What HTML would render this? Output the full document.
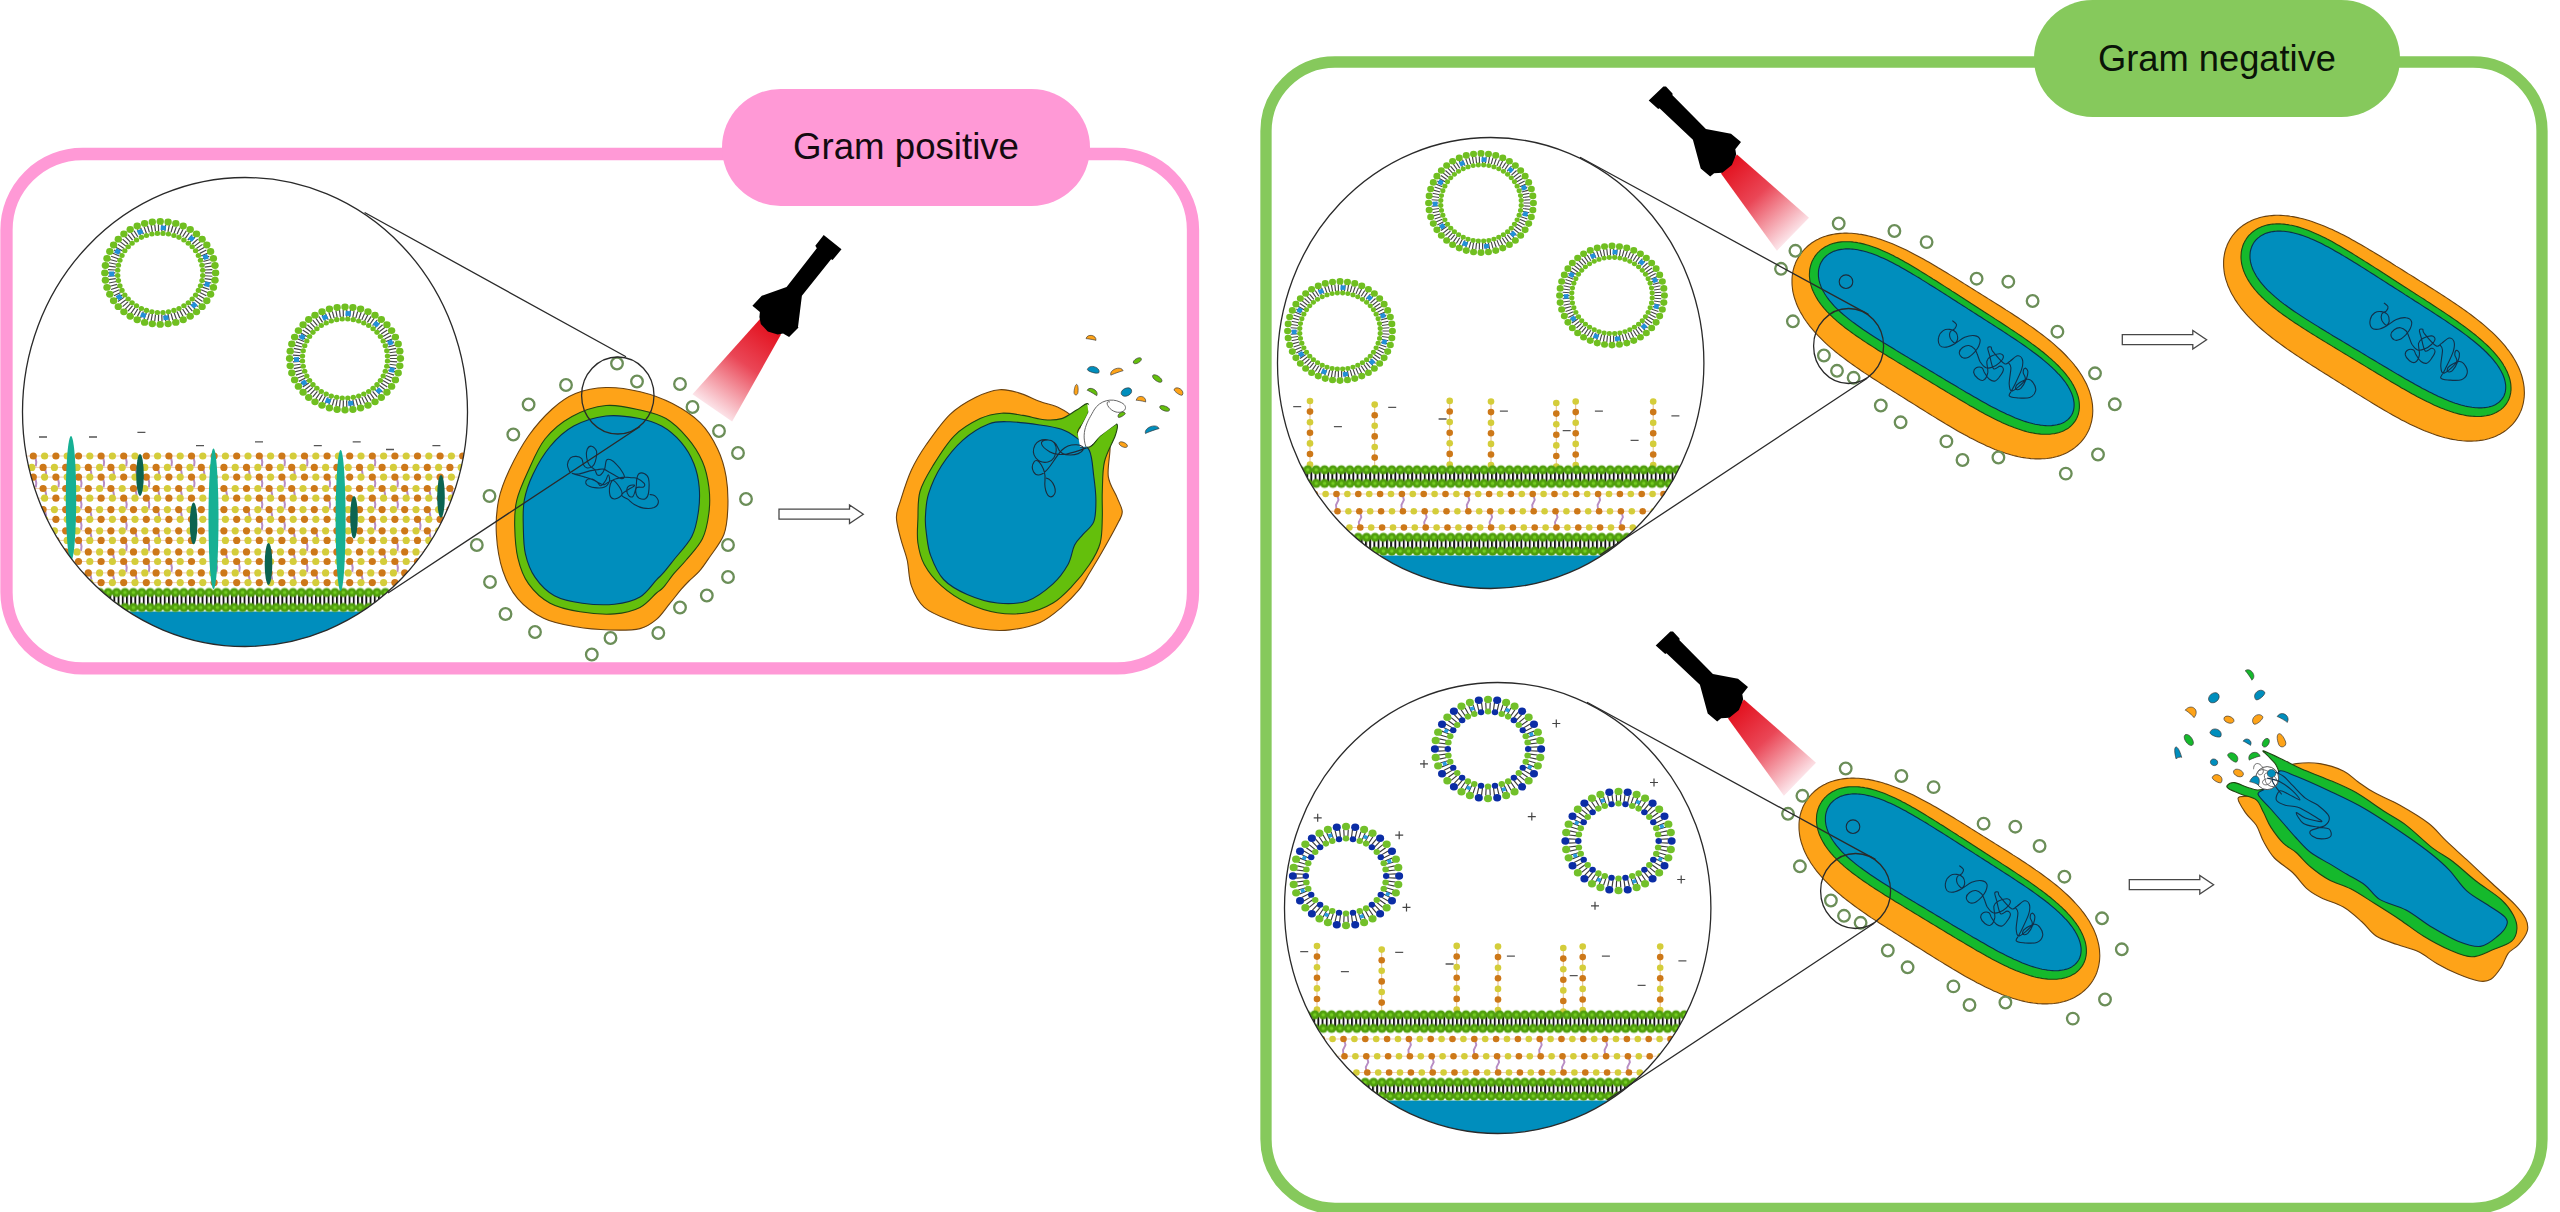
<!DOCTYPE html><html><head><meta charset="utf-8"><style>html,body{margin:0;padding:0;background:#fff;overflow:hidden}svg{display:block}</style></head><body><svg width="2560" height="1212" viewBox="0 0 2560 1212"><defs><g id="vd"><path d="M44.8,0L52.3,0M44.7,3.1L52.2,3.6M44.4,6.2L51.8,7.3M43.8,9.3L51.2,10.9M43.1,12.3L50.3,14.4M42.1,15.3L49.1,17.9M40.9,18.2L47.8,21.3M39.6,21L46.2,24.6M38,23.7L44.4,27.7M36.2,26.3L42.3,30.7M34.3,28.8L40.1,33.6M32.2,31.1L37.6,36.3M30,33.3L35,38.9M27.6,35.3L32.2,41.2M25.1,37.1L29.2,43.4M22.4,38.8L26.2,45.3M19.6,40.3L22.9,47M16.8,41.5L19.6,48.5M13.8,42.6L16.2,49.7M10.8,43.5L12.7,50.7M7.8,44.1L9.1,51.5M4.7,44.6L5.5,52M1.6,44.8L1.8,52.3M-1.6,44.8L-1.8,52.3M-4.7,44.6L-5.5,52M-7.8,44.1L-9.1,51.5M-10.8,43.5L-12.7,50.7M-13.8,42.6L-16.2,49.7M-16.8,41.5L-19.6,48.5M-19.6,40.3L-22.9,47M-22.4,38.8L-26.1,45.3M-25.1,37.1L-29.2,43.4M-27.6,35.3L-32.2,41.2M-30,33.3L-35,38.9M-32.2,31.1L-37.6,36.3M-34.3,28.8L-40.1,33.6M-36.2,26.3L-42.3,30.7M-38,23.7L-44.4,27.7M-39.6,21L-46.2,24.6M-40.9,18.2L-47.8,21.3M-42.1,15.3L-49.1,17.9M-43.1,12.3L-50.3,14.4M-43.8,9.3L-51.2,10.9M-44.4,6.2L-51.8,7.3M-44.7,3.1L-52.2,3.6M-44.8,0L-52.3,0M-44.7,-3.1L-52.2,-3.6M-44.4,-6.2L-51.8,-7.3M-43.8,-9.3L-51.2,-10.9M-43.1,-12.3L-50.3,-14.4M-42.1,-15.3L-49.1,-17.9M-40.9,-18.2L-47.8,-21.3M-39.6,-21L-46.2,-24.6M-38,-23.7L-44.4,-27.7M-36.2,-26.3L-42.3,-30.7M-34.3,-28.8L-40.1,-33.6M-32.2,-31.1L-37.6,-36.3M-30,-33.3L-35,-38.9M-27.6,-35.3L-32.2,-41.2M-25.1,-37.1L-29.2,-43.4M-22.4,-38.8L-26.2,-45.3M-19.6,-40.3L-22.9,-47M-16.8,-41.5L-19.6,-48.5M-13.8,-42.6L-16.2,-49.7M-10.8,-43.5L-12.7,-50.7M-7.8,-44.1L-9.1,-51.5M-4.7,-44.6L-5.5,-52M-1.6,-44.8L-1.8,-52.3M1.6,-44.8L1.8,-52.3M4.7,-44.6L5.5,-52M7.8,-44.1L9.1,-51.5M10.8,-43.5L12.7,-50.7M13.8,-42.6L16.2,-49.7M16.8,-41.5L19.6,-48.5M19.6,-40.3L22.9,-47M22.4,-38.8L26.2,-45.3M25.1,-37.1L29.2,-43.4M27.6,-35.3L32.2,-41.2M30,-33.3L35,-38.9M32.2,-31.1L37.6,-36.3M34.3,-28.8L40.1,-33.6M36.2,-26.3L42.3,-30.7M38,-23.7L44.4,-27.7M39.6,-21L46.2,-24.6M40.9,-18.2L47.8,-21.3M42.1,-15.3L49.1,-17.9M43.1,-12.3L50.3,-14.4M43.8,-9.3L51.2,-10.9M44.4,-6.2L51.8,-7.3M44.7,-3.1L52.2,-3.6" stroke="#484848" stroke-width="1.25" fill="none"/><rect x="-2.5" y="-2.6" width="5" height="5.2" fill="#2290D8" transform="translate(46.9,12.3) rotate(14.6)"/><rect x="-2.5" y="-2.6" width="5" height="5.2" fill="#2290D8" transform="translate(33.9,34.7) rotate(45.7)"/><rect x="-2.5" y="-2.6" width="5" height="5.2" fill="#2290D8" transform="translate(5.7,48.2) rotate(83.3)"/><rect x="-2.5" y="-2.6" width="5" height="5.2" fill="#2290D8" transform="translate(-16.9,45.5) rotate(110.4)"/><rect x="-2.5" y="-2.6" width="5" height="5.2" fill="#2290D8" transform="translate(-41,26) rotate(147.6)"/><rect x="-2.5" y="-2.6" width="5" height="5.2" fill="#2290D8" transform="translate(-48.5,1.1) rotate(178.7)"/><rect x="-2.5" y="-2.6" width="5" height="5.2" fill="#2290D8" transform="translate(-42.7,-23.1) rotate(208.4)"/><rect x="-2.5" y="-2.6" width="5" height="5.2" fill="#2290D8" transform="translate(-20.1,-44.1) rotate(245.5)"/><rect x="-2.5" y="-2.6" width="5" height="5.2" fill="#2290D8" transform="translate(3.1,-48.4) rotate(273.6)"/><rect x="-2.5" y="-2.6" width="5" height="5.2" fill="#2290D8" transform="translate(31.3,-37) rotate(310.3)"/><rect x="-2.5" y="-2.6" width="5" height="5.2" fill="#2290D8" transform="translate(45.4,-17.1) rotate(339.4)"/><circle cx="55.4" cy="0" r="3.7" fill="#70BF20"/><circle cx="54.8" cy="7.9" r="3.7" fill="#70BF20"/><circle cx="53.2" cy="15.6" r="3.7" fill="#70BF20"/><circle cx="50.4" cy="23" r="3.7" fill="#70BF20"/><circle cx="46.6" cy="30" r="3.7" fill="#70BF20"/><circle cx="41.9" cy="36.3" r="3.7" fill="#70BF20"/><circle cx="36.3" cy="41.9" r="3.7" fill="#70BF20"/><circle cx="30" cy="46.6" r="3.7" fill="#70BF20"/><circle cx="23" cy="50.4" r="3.7" fill="#70BF20"/><circle cx="15.6" cy="53.2" r="3.7" fill="#70BF20"/><circle cx="7.9" cy="54.8" r="3.7" fill="#70BF20"/><circle cx="0" cy="55.4" r="3.7" fill="#70BF20"/><circle cx="-7.9" cy="54.8" r="3.7" fill="#70BF20"/><circle cx="-15.6" cy="53.2" r="3.7" fill="#70BF20"/><circle cx="-23" cy="50.4" r="3.7" fill="#70BF20"/><circle cx="-30" cy="46.6" r="3.7" fill="#70BF20"/><circle cx="-36.3" cy="41.9" r="3.7" fill="#70BF20"/><circle cx="-41.9" cy="36.3" r="3.7" fill="#70BF20"/><circle cx="-46.6" cy="30" r="3.7" fill="#70BF20"/><circle cx="-50.4" cy="23" r="3.7" fill="#70BF20"/><circle cx="-53.2" cy="15.6" r="3.7" fill="#70BF20"/><circle cx="-54.8" cy="7.9" r="3.7" fill="#70BF20"/><circle cx="-55.4" cy="0" r="3.7" fill="#70BF20"/><circle cx="-54.8" cy="-7.9" r="3.7" fill="#70BF20"/><circle cx="-53.2" cy="-15.6" r="3.7" fill="#70BF20"/><circle cx="-50.4" cy="-23" r="3.7" fill="#70BF20"/><circle cx="-46.6" cy="-30" r="3.7" fill="#70BF20"/><circle cx="-41.9" cy="-36.3" r="3.7" fill="#70BF20"/><circle cx="-36.3" cy="-41.9" r="3.7" fill="#70BF20"/><circle cx="-30" cy="-46.6" r="3.7" fill="#70BF20"/><circle cx="-23" cy="-50.4" r="3.7" fill="#70BF20"/><circle cx="-15.6" cy="-53.2" r="3.7" fill="#70BF20"/><circle cx="-7.9" cy="-54.8" r="3.7" fill="#70BF20"/><circle cx="-0" cy="-55.4" r="3.7" fill="#70BF20"/><circle cx="7.9" cy="-54.8" r="3.7" fill="#70BF20"/><circle cx="15.6" cy="-53.2" r="3.7" fill="#70BF20"/><circle cx="23" cy="-50.4" r="3.7" fill="#70BF20"/><circle cx="30" cy="-46.6" r="3.7" fill="#70BF20"/><circle cx="36.3" cy="-41.9" r="3.7" fill="#70BF20"/><circle cx="41.9" cy="-36.3" r="3.7" fill="#70BF20"/><circle cx="46.6" cy="-30" r="3.7" fill="#70BF20"/><circle cx="50.4" cy="-23" r="3.7" fill="#70BF20"/><circle cx="53.2" cy="-15.6" r="3.7" fill="#70BF20"/><circle cx="54.8" cy="-7.9" r="3.7" fill="#70BF20"/><circle cx="42.5" cy="2.8" r="2.7" fill="#70BF20"/><circle cx="41.8" cy="8.3" r="2.7" fill="#70BF20"/><circle cx="40.3" cy="13.7" r="2.7" fill="#70BF20"/><circle cx="38.2" cy="18.8" r="2.7" fill="#70BF20"/><circle cx="35.4" cy="23.7" r="2.7" fill="#70BF20"/><circle cx="32" cy="28.1" r="2.7" fill="#70BF20"/><circle cx="28.1" cy="32" r="2.7" fill="#70BF20"/><circle cx="23.7" cy="35.4" r="2.7" fill="#70BF20"/><circle cx="18.8" cy="38.2" r="2.7" fill="#70BF20"/><circle cx="13.7" cy="40.3" r="2.7" fill="#70BF20"/><circle cx="8.3" cy="41.8" r="2.7" fill="#70BF20"/><circle cx="2.8" cy="42.5" r="2.7" fill="#70BF20"/><circle cx="-2.8" cy="42.5" r="2.7" fill="#70BF20"/><circle cx="-8.3" cy="41.8" r="2.7" fill="#70BF20"/><circle cx="-13.7" cy="40.3" r="2.7" fill="#70BF20"/><circle cx="-18.8" cy="38.2" r="2.7" fill="#70BF20"/><circle cx="-23.7" cy="35.4" r="2.7" fill="#70BF20"/><circle cx="-28.1" cy="32" r="2.7" fill="#70BF20"/><circle cx="-32" cy="28.1" r="2.7" fill="#70BF20"/><circle cx="-35.4" cy="23.7" r="2.7" fill="#70BF20"/><circle cx="-38.2" cy="18.8" r="2.7" fill="#70BF20"/><circle cx="-40.3" cy="13.7" r="2.7" fill="#70BF20"/><circle cx="-41.8" cy="8.3" r="2.7" fill="#70BF20"/><circle cx="-42.5" cy="2.8" r="2.7" fill="#70BF20"/><circle cx="-42.5" cy="-2.8" r="2.7" fill="#70BF20"/><circle cx="-41.8" cy="-8.3" r="2.7" fill="#70BF20"/><circle cx="-40.3" cy="-13.7" r="2.7" fill="#70BF20"/><circle cx="-38.2" cy="-18.8" r="2.7" fill="#70BF20"/><circle cx="-35.4" cy="-23.7" r="2.7" fill="#70BF20"/><circle cx="-32" cy="-28.1" r="2.7" fill="#70BF20"/><circle cx="-28.1" cy="-32" r="2.7" fill="#70BF20"/><circle cx="-23.7" cy="-35.4" r="2.7" fill="#70BF20"/><circle cx="-18.8" cy="-38.2" r="2.7" fill="#70BF20"/><circle cx="-13.7" cy="-40.3" r="2.7" fill="#70BF20"/><circle cx="-8.3" cy="-41.8" r="2.7" fill="#70BF20"/><circle cx="-2.8" cy="-42.5" r="2.7" fill="#70BF20"/><circle cx="2.8" cy="-42.5" r="2.7" fill="#70BF20"/><circle cx="8.3" cy="-41.8" r="2.7" fill="#70BF20"/><circle cx="13.7" cy="-40.3" r="2.7" fill="#70BF20"/><circle cx="18.8" cy="-38.2" r="2.7" fill="#70BF20"/><circle cx="23.7" cy="-35.4" r="2.7" fill="#70BF20"/><circle cx="28.1" cy="-32" r="2.7" fill="#70BF20"/><circle cx="32" cy="-28.1" r="2.7" fill="#70BF20"/><circle cx="35.4" cy="-23.7" r="2.7" fill="#70BF20"/><circle cx="38.2" cy="-18.8" r="2.7" fill="#70BF20"/><circle cx="40.3" cy="-13.7" r="2.7" fill="#70BF20"/><circle cx="41.8" cy="-8.3" r="2.7" fill="#70BF20"/><circle cx="42.5" cy="-2.8" r="2.7" fill="#70BF20"/></g><g id="vc"><path d="M43,-1.9L50.9,-2.3M43,1.9L50.9,2.3M42.6,5.6L50.6,6.6M42,9.4L49.8,11.1M41,12.9L48.7,15.3M39.7,16.5L47.1,19.6M38.2,19.8L45.3,23.5M36.2,23.2L43,27.5M34.1,26.1L40.5,31M31.7,29.1L37.6,34.5M29.1,31.7L34.5,37.6M26.1,34.1L31,40.5M23.2,36.2L27.5,43M19.8,38.2L23.5,45.3M16.5,39.7L19.6,47.1M12.9,41L15.3,48.7M9.4,42L11.1,49.8M5.6,42.6L6.6,50.6M1.9,43L2.3,50.9M-1.9,43L-2.3,50.9M-5.6,42.6L-6.6,50.6M-9.4,42L-11.1,49.8M-12.9,41L-15.3,48.7M-16.5,39.7L-19.6,47.1M-19.8,38.2L-23.5,45.3M-23.2,36.2L-27.5,43M-26.1,34.1L-31,40.5M-29.1,31.7L-34.5,37.6M-31.7,29.1L-37.6,34.5M-34.1,26.1L-40.5,31M-36.2,23.2L-43,27.5M-38.2,19.8L-45.3,23.5M-39.7,16.5L-47.1,19.6M-41,12.9L-48.7,15.3M-42,9.4L-49.8,11.1M-42.6,5.6L-50.6,6.6M-43,1.9L-50.9,2.3M-43,-1.9L-50.9,-2.3M-42.6,-5.6L-50.6,-6.6M-42,-9.4L-49.8,-11.1M-41,-12.9L-48.7,-15.3M-39.7,-16.5L-47.1,-19.6M-38.2,-19.8L-45.3,-23.5M-36.2,-23.2L-43,-27.5M-34.1,-26.1L-40.5,-31M-31.7,-29.1L-37.6,-34.5M-29.1,-31.7L-34.5,-37.6M-26.1,-34.1L-31,-40.5M-23.2,-36.2L-27.5,-43M-19.8,-38.2L-23.5,-45.3M-16.5,-39.7L-19.6,-47.1M-12.9,-41L-15.3,-48.7M-9.4,-42L-11.1,-49.8M-5.6,-42.6L-6.6,-50.6M-1.9,-43L-2.3,-50.9M1.9,-43L2.3,-50.9M5.6,-42.6L6.6,-50.6M9.4,-42L11.1,-49.8M12.9,-41L15.3,-48.7M16.5,-39.7L19.6,-47.1M19.8,-38.2L23.5,-45.3M23.2,-36.2L27.5,-43M26.1,-34.1L31,-40.5M29.1,-31.7L34.5,-37.6M31.7,-29.1L37.6,-34.5M34.1,-26.1L40.5,-31M36.2,-23.2L43,-27.5M38.2,-19.8L45.3,-23.5M39.7,-16.5L47.1,-19.6M41,-12.9L48.7,-15.3M42,-9.4L49.8,-11.1M42.6,-5.6L50.6,-6.6" stroke="#3c3c3c" stroke-width="1.2" fill="none"/><circle cx="54.2" cy="0" r="4.1" fill="#0B2DA5"/><circle cx="41" cy="0" r="3.3" fill="#0B2DA5"/><circle cx="53.4" cy="9.4" r="4.1" fill="#72C02A"/><circle cx="40.4" cy="7.1" r="3.3" fill="#72C02A"/><circle cx="50.9" cy="18.5" r="4.1" fill="#72C02A"/><circle cx="38.5" cy="14" r="3.3" fill="#72C02A"/><circle cx="46.9" cy="27.1" r="4.1" fill="#0B2DA5"/><circle cx="35.5" cy="20.5" r="3.3" fill="#0B2DA5"/><circle cx="41.5" cy="34.8" r="4.1" fill="#72C02A"/><circle cx="31.4" cy="26.4" r="3.3" fill="#72C02A"/><circle cx="34.8" cy="41.5" r="4.1" fill="#0B2DA5"/><circle cx="26.4" cy="31.4" r="3.3" fill="#0B2DA5"/><circle cx="27.1" cy="46.9" r="4.1" fill="#72C02A"/><circle cx="20.5" cy="35.5" r="3.3" fill="#72C02A"/><circle cx="18.5" cy="50.9" r="4.1" fill="#72C02A"/><circle cx="14" cy="38.5" r="3.3" fill="#72C02A"/><circle cx="9.4" cy="53.4" r="4.1" fill="#0B2DA5"/><circle cx="7.1" cy="40.4" r="3.3" fill="#0B2DA5"/><circle cx="0" cy="54.2" r="4.1" fill="#72C02A"/><circle cx="0" cy="41" r="3.3" fill="#72C02A"/><circle cx="-9.4" cy="53.4" r="4.1" fill="#0B2DA5"/><circle cx="-7.1" cy="40.4" r="3.3" fill="#0B2DA5"/><circle cx="-18.5" cy="50.9" r="4.1" fill="#72C02A"/><circle cx="-14" cy="38.5" r="3.3" fill="#72C02A"/><circle cx="-27.1" cy="46.9" r="4.1" fill="#72C02A"/><circle cx="-20.5" cy="35.5" r="3.3" fill="#72C02A"/><circle cx="-34.8" cy="41.5" r="4.1" fill="#0B2DA5"/><circle cx="-26.4" cy="31.4" r="3.3" fill="#0B2DA5"/><circle cx="-41.5" cy="34.8" r="4.1" fill="#72C02A"/><circle cx="-31.4" cy="26.4" r="3.3" fill="#72C02A"/><circle cx="-46.9" cy="27.1" r="4.1" fill="#0B2DA5"/><circle cx="-35.5" cy="20.5" r="3.3" fill="#0B2DA5"/><circle cx="-50.9" cy="18.5" r="4.1" fill="#72C02A"/><circle cx="-38.5" cy="14" r="3.3" fill="#72C02A"/><circle cx="-53.4" cy="9.4" r="4.1" fill="#72C02A"/><circle cx="-40.4" cy="7.1" r="3.3" fill="#72C02A"/><circle cx="-54.2" cy="0" r="4.1" fill="#0B2DA5"/><circle cx="-41" cy="0" r="3.3" fill="#0B2DA5"/><circle cx="-53.4" cy="-9.4" r="4.1" fill="#72C02A"/><circle cx="-40.4" cy="-7.1" r="3.3" fill="#72C02A"/><circle cx="-50.9" cy="-18.5" r="4.1" fill="#72C02A"/><circle cx="-38.5" cy="-14" r="3.3" fill="#72C02A"/><circle cx="-46.9" cy="-27.1" r="4.1" fill="#0B2DA5"/><circle cx="-35.5" cy="-20.5" r="3.3" fill="#0B2DA5"/><circle cx="-41.5" cy="-34.8" r="4.1" fill="#72C02A"/><circle cx="-31.4" cy="-26.4" r="3.3" fill="#72C02A"/><circle cx="-34.8" cy="-41.5" r="4.1" fill="#0B2DA5"/><circle cx="-26.4" cy="-31.4" r="3.3" fill="#0B2DA5"/><circle cx="-27.1" cy="-46.9" r="4.1" fill="#72C02A"/><circle cx="-20.5" cy="-35.5" r="3.3" fill="#72C02A"/><circle cx="-18.5" cy="-50.9" r="4.1" fill="#72C02A"/><circle cx="-14" cy="-38.5" r="3.3" fill="#72C02A"/><circle cx="-9.4" cy="-53.4" r="4.1" fill="#0B2DA5"/><circle cx="-7.1" cy="-40.4" r="3.3" fill="#0B2DA5"/><circle cx="-0" cy="-54.2" r="4.1" fill="#72C02A"/><circle cx="-0" cy="-41" r="3.3" fill="#72C02A"/><circle cx="9.4" cy="-53.4" r="4.1" fill="#0B2DA5"/><circle cx="7.1" cy="-40.4" r="3.3" fill="#0B2DA5"/><circle cx="18.5" cy="-50.9" r="4.1" fill="#72C02A"/><circle cx="14" cy="-38.5" r="3.3" fill="#72C02A"/><circle cx="27.1" cy="-46.9" r="4.1" fill="#72C02A"/><circle cx="20.5" cy="-35.5" r="3.3" fill="#72C02A"/><circle cx="34.8" cy="-41.5" r="4.1" fill="#0B2DA5"/><circle cx="26.4" cy="-31.4" r="3.3" fill="#0B2DA5"/><circle cx="41.5" cy="-34.8" r="4.1" fill="#72C02A"/><circle cx="31.4" cy="-26.4" r="3.3" fill="#72C02A"/><circle cx="46.9" cy="-27.1" r="4.1" fill="#0B2DA5"/><circle cx="35.5" cy="-20.5" r="3.3" fill="#0B2DA5"/><circle cx="50.9" cy="-18.5" r="4.1" fill="#72C02A"/><circle cx="38.5" cy="-14" r="3.3" fill="#72C02A"/><circle cx="53.4" cy="-9.4" r="4.1" fill="#72C02A"/><circle cx="40.4" cy="-7.1" r="3.3" fill="#72C02A"/><rect x="-2" y="-2" width="4" height="4" fill="#2A9BE0" transform="translate(42.6,19.9) rotate(25)"/><rect x="-2" y="-2" width="4" height="4" fill="#2A9BE0" transform="translate(16.1,44.2) rotate(70)"/><rect x="-2" y="-2" width="4" height="4" fill="#2A9BE0" transform="translate(-19.9,42.6) rotate(115)"/><rect x="-2" y="-2" width="4" height="4" fill="#2A9BE0" transform="translate(-44.2,16.1) rotate(160)"/><rect x="-2" y="-2" width="4" height="4" fill="#2A9BE0" transform="translate(-42.6,-19.9) rotate(205)"/><rect x="-2" y="-2" width="4" height="4" fill="#2A9BE0" transform="translate(-16.1,-44.2) rotate(250)"/><rect x="-2" y="-2" width="4" height="4" fill="#2A9BE0" transform="translate(19.9,-42.6) rotate(295)"/><rect x="-2" y="-2" width="4" height="4" fill="#2A9BE0" transform="translate(44.2,-16.1) rotate(340)"/></g><pattern id="hp" patternUnits="userSpaceOnUse" width="8.4" height="10" x="0" y="0"><circle cx="4.2" cy="5" r="4.5" fill="#4F9E0C"/><circle cx="4.2" cy="5" r="1.8" fill="#74CC22"/></pattern><pattern id="tp" patternUnits="userSpaceOnUse" width="4.2" height="10" x="0" y="0"><rect x="0" y="0" width="2.1" height="10" fill="#111"/><rect x="2.1" y="0" width="2.1" height="10" fill="#fff"/></pattern><clipPath id="cgp"><ellipse cx="245" cy="412" rx="222.5" ry="234.5"/></clipPath><linearGradient id="bgp" gradientUnits="userSpaceOnUse" x1="770.5" y1="326.8" x2="712.3" y2="408"><stop offset="0" stop-color="#E3121F"/><stop offset="0.45" stop-color="#EA4656"/><stop offset="1" stop-color="#FCE3E8"/></linearGradient><clipPath id="cgn"><ellipse cx="1490.7" cy="363" rx="213.2" ry="225.5"/></clipPath><linearGradient id="bgn0" gradientUnits="userSpaceOnUse" x1="1729" y1="164" x2="1793" y2="234.2"><stop offset="0" stop-color="#E3121F"/><stop offset="0.45" stop-color="#EA4656"/><stop offset="1" stop-color="#FCE3E8"/></linearGradient><linearGradient id="bgn545" gradientUnits="userSpaceOnUse" x1="1736" y1="709" x2="1800" y2="779.2"><stop offset="0" stop-color="#E3121F"/><stop offset="0.45" stop-color="#EA4656"/><stop offset="1" stop-color="#FCE3E8"/></linearGradient></defs><rect width="2560" height="1212" fill="#fff"/><rect x="6.5" y="154" width="1186.5" height="514.3" rx="76" fill="none" stroke="#FF99D6" stroke-width="12.3"/><rect x="1266" y="62" width="1276" height="1146.3" rx="69" fill="none" stroke="#86C95C" stroke-width="11.3"/><rect x="722" y="89" width="368" height="117" rx="58.5" fill="#FF99D6"/><rect x="2034" y="0" width="366" height="117" rx="58.5" fill="#86C95C"/><text x="906" y="158.5" font-family="Liberation Sans, sans-serif" font-size="36" text-anchor="middle" textLength="226" lengthAdjust="spacingAndGlyphs" fill="#140a10">Gram positive</text><text x="2217" y="70.5" font-family="Liberation Sans, sans-serif" font-size="36" text-anchor="middle" textLength="238" lengthAdjust="spacingAndGlyphs" fill="#0a1408">Gram negative</text><g clip-path="url(#cgp)"><rect x="0" y="611.5" width="480" height="50" fill="#008EBD"/><path d="M20,456H470M20,467.4H470M20,477.1H470M20,488.5H470M20,498.2H470M20,509.6H470M20,519.3H470M20,530.8H470M20,540.4H470M20,551.9H470M20,561.5H470M20,572.9H470M20,582.6H470" stroke="#E9B98F" stroke-width="0.7"/><path d="M35.5,458L36.3,462L35.8,466.4M103.3,458L104.1,462L103.6,466.4M125.9,458L126.7,462L126.2,466.4M171.1,458L171.9,462L171.4,466.4M193.7,458L194.5,462L194,466.4M261.5,458L262.3,462L261.8,466.4M284.1,458L284.9,462L284.4,466.4M306.7,458L307.5,462L307,466.4M374.5,458L375.3,462L374.8,466.4M22.7,469.4L23.5,473.4L23,476.1M45.3,469.4L46.1,473.4L45.6,476.1M67.9,469.4L68.7,473.4L68.2,476.1M90.5,469.4L91.3,473.4L90.8,476.1M113.1,469.4L113.9,473.4L113.4,476.1M135.7,469.4L136.5,473.4L136,476.1M158.3,469.4L159.1,473.4L158.6,476.1M180.9,469.4L181.7,473.4L181.2,476.1M203.5,469.4L204.3,473.4L203.8,476.1M248.7,469.4L249.5,473.4L249,476.1M293.9,469.4L294.7,473.4L294.2,476.1M339.1,469.4L339.9,473.4L339.4,476.1M361.7,469.4L362.5,473.4L362,476.1M35.5,479.1L36.3,483.1L35.8,487.5M58.1,479.1L58.9,483.1L58.4,487.5M80.7,479.1L81.5,483.1L81,487.5M103.3,479.1L104.1,483.1L103.6,487.5M148.5,479.1L149.3,483.1L148.8,487.5M193.7,479.1L194.5,483.1L194,487.5M261.5,479.1L262.3,483.1L261.8,487.5M284.1,479.1L284.9,483.1L284.4,487.5M329.3,479.1L330.1,483.1L329.6,487.5M374.5,479.1L375.3,483.1L374.8,487.5M397.1,479.1L397.9,483.1L397.4,487.5M464.9,479.1L465.7,483.1L465.2,487.5M22.7,490.5L23.5,494.5L23,497.2M45.3,490.5L46.1,494.5L45.6,497.2M113.1,490.5L113.9,494.5L113.4,497.2M135.7,490.5L136.5,494.5L136,497.2M158.3,490.5L159.1,494.5L158.6,497.2M180.9,490.5L181.7,494.5L181.2,497.2M226.1,490.5L226.9,494.5L226.4,497.2M271.3,490.5L272.1,494.5L271.6,497.2M293.9,490.5L294.7,494.5L294.2,497.2M339.1,490.5L339.9,494.5L339.4,497.2M384.3,490.5L385.1,494.5L384.6,497.2M406.9,490.5L407.7,494.5L407.2,497.2M429.5,490.5L430.3,494.5L429.8,497.2M452.1,490.5L452.9,494.5L452.4,497.2M80.7,500.2L81.5,504.2L81,508.6M125.9,500.2L126.7,504.2L126.2,508.6M148.5,500.2L149.3,504.2L148.8,508.6M216.3,500.2L217.1,504.2L216.6,508.6M261.5,500.2L262.3,504.2L261.8,508.6M284.1,500.2L284.9,504.2L284.4,508.6M329.3,500.2L330.1,504.2L329.6,508.6M351.9,500.2L352.7,504.2L352.2,508.6M374.5,500.2L375.3,504.2L374.8,508.6M397.1,500.2L397.9,504.2L397.4,508.6M442.3,500.2L443.1,504.2L442.6,508.6M22.7,511.6L23.5,515.6L23,518.3M45.3,511.6L46.1,515.6L45.6,518.3M90.5,511.6L91.3,515.6L90.8,518.3M158.3,511.6L159.1,515.6L158.6,518.3M180.9,511.6L181.7,515.6L181.2,518.3M248.7,511.6L249.5,515.6L249,518.3M271.3,511.6L272.1,515.6L271.6,518.3M339.1,511.6L339.9,515.6L339.4,518.3M429.5,511.6L430.3,515.6L429.8,518.3M452.1,511.6L452.9,515.6L452.4,518.3M35.5,521.3L36.3,525.3L35.8,529.8M80.7,521.3L81.5,525.3L81,529.8M125.9,521.3L126.7,525.3L126.2,529.8M193.7,521.3L194.5,525.3L194,529.8M216.3,521.3L217.1,525.3L216.6,529.8M261.5,521.3L262.3,525.3L261.8,529.8M284.1,521.3L284.9,525.3L284.4,529.8M374.5,521.3L375.3,525.3L374.8,529.8M419.7,521.3L420.5,525.3L420,529.8M442.3,521.3L443.1,525.3L442.6,529.8M464.9,521.3L465.7,525.3L465.2,529.8M22.7,532.8L23.5,536.8L23,539.4M45.3,532.8L46.1,536.8L45.6,539.4M67.9,532.8L68.7,536.8L68.2,539.4M90.5,532.8L91.3,536.8L90.8,539.4M135.7,532.8L136.5,536.8L136,539.4M158.3,532.8L159.1,536.8L158.6,539.4M293.9,532.8L294.7,536.8L294.2,539.4M316.5,532.8L317.3,536.8L316.8,539.4M339.1,532.8L339.9,536.8L339.4,539.4M429.5,532.8L430.3,536.8L429.8,539.4M35.5,542.4L36.3,546.4L35.8,550.9M80.7,542.4L81.5,546.4L81,550.9M125.9,542.4L126.7,546.4L126.2,550.9M148.5,542.4L149.3,546.4L148.8,550.9M306.7,542.4L307.5,546.4L307,550.9M397.1,542.4L397.9,546.4L397.4,550.9M45.3,553.9L46.1,557.9L45.6,560.5M113.1,553.9L113.9,557.9L113.4,560.5M226.1,553.9L226.9,557.9L226.4,560.5M293.9,553.9L294.7,557.9L294.2,560.5M339.1,553.9L339.9,557.9L339.4,560.5M384.3,553.9L385.1,557.9L384.6,560.5M429.5,553.9L430.3,557.9L429.8,560.5M452.1,553.9L452.9,557.9L452.4,560.5M58.1,563.5L58.9,567.5L58.4,571.9M125.9,563.5L126.7,567.5L126.2,571.9M148.5,563.5L149.3,567.5L148.8,571.9M171.1,563.5L171.9,567.5L171.4,571.9M216.3,563.5L217.1,567.5L216.6,571.9M238.9,563.5L239.7,567.5L239.2,571.9M306.7,563.5L307.5,567.5L307,571.9M351.9,563.5L352.7,567.5L352.2,571.9M397.1,563.5L397.9,567.5L397.4,571.9M419.7,563.5L420.5,567.5L420,571.9M45.3,574.9L46.1,578.9L45.6,581.6M90.5,574.9L91.3,578.9L90.8,581.6M113.1,574.9L113.9,578.9L113.4,581.6M135.7,574.9L136.5,578.9L136,581.6M248.7,574.9L249.5,578.9L249,581.6M271.3,574.9L272.1,578.9L271.6,581.6M293.9,574.9L294.7,578.9L294.2,581.6M316.5,574.9L317.3,578.9L316.8,581.6M339.1,574.9L339.9,578.9L339.4,581.6M361.7,574.9L362.5,578.9L362,581.6M406.9,574.9L407.7,578.9L407.2,581.6M429.5,574.9L430.3,578.9L429.8,581.6" stroke="#B88CC4" stroke-width="2" fill="none"/><circle cx="22" cy="456" r="3.6" fill="#D4CD3A"/><circle cx="33.3" cy="456" r="3.6" fill="#CD7818"/><circle cx="44.6" cy="456" r="3.6" fill="#D4CD3A"/><circle cx="55.9" cy="456" r="3.6" fill="#CD7818"/><circle cx="67.2" cy="456" r="3.6" fill="#D4CD3A"/><circle cx="78.5" cy="456" r="3.6" fill="#CD7818"/><circle cx="89.8" cy="456" r="3.6" fill="#D4CD3A"/><circle cx="101.1" cy="456" r="3.6" fill="#CD7818"/><circle cx="112.4" cy="456" r="3.6" fill="#D4CD3A"/><circle cx="123.7" cy="456" r="3.6" fill="#CD7818"/><circle cx="135" cy="456" r="3.6" fill="#D4CD3A"/><circle cx="146.3" cy="456" r="3.6" fill="#CD7818"/><circle cx="157.6" cy="456" r="3.6" fill="#D4CD3A"/><circle cx="168.9" cy="456" r="3.6" fill="#CD7818"/><circle cx="180.2" cy="456" r="3.6" fill="#D4CD3A"/><circle cx="191.5" cy="456" r="3.6" fill="#CD7818"/><circle cx="202.8" cy="456" r="3.6" fill="#D4CD3A"/><circle cx="214.1" cy="456" r="3.6" fill="#CD7818"/><circle cx="225.4" cy="456" r="3.6" fill="#D4CD3A"/><circle cx="236.7" cy="456" r="3.6" fill="#CD7818"/><circle cx="248" cy="456" r="3.6" fill="#D4CD3A"/><circle cx="259.3" cy="456" r="3.6" fill="#CD7818"/><circle cx="270.6" cy="456" r="3.6" fill="#D4CD3A"/><circle cx="281.9" cy="456" r="3.6" fill="#CD7818"/><circle cx="293.2" cy="456" r="3.6" fill="#D4CD3A"/><circle cx="304.5" cy="456" r="3.6" fill="#CD7818"/><circle cx="315.8" cy="456" r="3.6" fill="#D4CD3A"/><circle cx="327.1" cy="456" r="3.6" fill="#CD7818"/><circle cx="338.4" cy="456" r="3.6" fill="#D4CD3A"/><circle cx="349.7" cy="456" r="3.6" fill="#CD7818"/><circle cx="361" cy="456" r="3.6" fill="#D4CD3A"/><circle cx="372.3" cy="456" r="3.6" fill="#CD7818"/><circle cx="383.6" cy="456" r="3.6" fill="#D4CD3A"/><circle cx="394.9" cy="456" r="3.6" fill="#CD7818"/><circle cx="406.2" cy="456" r="3.6" fill="#D4CD3A"/><circle cx="417.5" cy="456" r="3.6" fill="#CD7818"/><circle cx="428.8" cy="456" r="3.6" fill="#D4CD3A"/><circle cx="440.1" cy="456" r="3.6" fill="#CD7818"/><circle cx="451.4" cy="456" r="3.6" fill="#D4CD3A"/><circle cx="462.7" cy="456" r="3.6" fill="#CD7818"/><circle cx="20.5" cy="467.4" r="3.6" fill="#CD7818"/><circle cx="31.8" cy="467.4" r="3.6" fill="#D4CD3A"/><circle cx="43.1" cy="467.4" r="3.6" fill="#CD7818"/><circle cx="54.4" cy="467.4" r="3.6" fill="#D4CD3A"/><circle cx="65.7" cy="467.4" r="3.6" fill="#CD7818"/><circle cx="77" cy="467.4" r="3.6" fill="#D4CD3A"/><circle cx="88.3" cy="467.4" r="3.6" fill="#CD7818"/><circle cx="99.6" cy="467.4" r="3.6" fill="#D4CD3A"/><circle cx="110.9" cy="467.4" r="3.6" fill="#CD7818"/><circle cx="122.2" cy="467.4" r="3.6" fill="#D4CD3A"/><circle cx="133.5" cy="467.4" r="3.6" fill="#CD7818"/><circle cx="144.8" cy="467.4" r="3.6" fill="#D4CD3A"/><circle cx="156.1" cy="467.4" r="3.6" fill="#CD7818"/><circle cx="167.4" cy="467.4" r="3.6" fill="#D4CD3A"/><circle cx="178.7" cy="467.4" r="3.6" fill="#CD7818"/><circle cx="190" cy="467.4" r="3.6" fill="#D4CD3A"/><circle cx="201.3" cy="467.4" r="3.6" fill="#CD7818"/><circle cx="212.6" cy="467.4" r="3.6" fill="#D4CD3A"/><circle cx="223.9" cy="467.4" r="3.6" fill="#CD7818"/><circle cx="235.2" cy="467.4" r="3.6" fill="#D4CD3A"/><circle cx="246.5" cy="467.4" r="3.6" fill="#CD7818"/><circle cx="257.8" cy="467.4" r="3.6" fill="#D4CD3A"/><circle cx="269.1" cy="467.4" r="3.6" fill="#CD7818"/><circle cx="280.4" cy="467.4" r="3.6" fill="#D4CD3A"/><circle cx="291.7" cy="467.4" r="3.6" fill="#CD7818"/><circle cx="303" cy="467.4" r="3.6" fill="#D4CD3A"/><circle cx="314.3" cy="467.4" r="3.6" fill="#CD7818"/><circle cx="325.6" cy="467.4" r="3.6" fill="#D4CD3A"/><circle cx="336.9" cy="467.4" r="3.6" fill="#CD7818"/><circle cx="348.2" cy="467.4" r="3.6" fill="#D4CD3A"/><circle cx="359.5" cy="467.4" r="3.6" fill="#CD7818"/><circle cx="370.8" cy="467.4" r="3.6" fill="#D4CD3A"/><circle cx="382.1" cy="467.4" r="3.6" fill="#CD7818"/><circle cx="393.4" cy="467.4" r="3.6" fill="#D4CD3A"/><circle cx="404.7" cy="467.4" r="3.6" fill="#CD7818"/><circle cx="416" cy="467.4" r="3.6" fill="#D4CD3A"/><circle cx="427.3" cy="467.4" r="3.6" fill="#CD7818"/><circle cx="438.6" cy="467.4" r="3.6" fill="#D4CD3A"/><circle cx="449.9" cy="467.4" r="3.6" fill="#CD7818"/><circle cx="461.2" cy="467.4" r="3.6" fill="#D4CD3A"/><circle cx="22" cy="477.1" r="3.6" fill="#D4CD3A"/><circle cx="33.3" cy="477.1" r="3.6" fill="#CD7818"/><circle cx="44.6" cy="477.1" r="3.6" fill="#D4CD3A"/><circle cx="55.9" cy="477.1" r="3.6" fill="#CD7818"/><circle cx="67.2" cy="477.1" r="3.6" fill="#D4CD3A"/><circle cx="78.5" cy="477.1" r="3.6" fill="#CD7818"/><circle cx="89.8" cy="477.1" r="3.6" fill="#D4CD3A"/><circle cx="101.1" cy="477.1" r="3.6" fill="#CD7818"/><circle cx="112.4" cy="477.1" r="3.6" fill="#D4CD3A"/><circle cx="123.7" cy="477.1" r="3.6" fill="#CD7818"/><circle cx="135" cy="477.1" r="3.6" fill="#D4CD3A"/><circle cx="146.3" cy="477.1" r="3.6" fill="#CD7818"/><circle cx="157.6" cy="477.1" r="3.6" fill="#D4CD3A"/><circle cx="168.9" cy="477.1" r="3.6" fill="#CD7818"/><circle cx="180.2" cy="477.1" r="3.6" fill="#D4CD3A"/><circle cx="191.5" cy="477.1" r="3.6" fill="#CD7818"/><circle cx="202.8" cy="477.1" r="3.6" fill="#D4CD3A"/><circle cx="214.1" cy="477.1" r="3.6" fill="#CD7818"/><circle cx="225.4" cy="477.1" r="3.6" fill="#D4CD3A"/><circle cx="236.7" cy="477.1" r="3.6" fill="#CD7818"/><circle cx="248" cy="477.1" r="3.6" fill="#D4CD3A"/><circle cx="259.3" cy="477.1" r="3.6" fill="#CD7818"/><circle cx="270.6" cy="477.1" r="3.6" fill="#D4CD3A"/><circle cx="281.9" cy="477.1" r="3.6" fill="#CD7818"/><circle cx="293.2" cy="477.1" r="3.6" fill="#D4CD3A"/><circle cx="304.5" cy="477.1" r="3.6" fill="#CD7818"/><circle cx="315.8" cy="477.1" r="3.6" fill="#D4CD3A"/><circle cx="327.1" cy="477.1" r="3.6" fill="#CD7818"/><circle cx="338.4" cy="477.1" r="3.6" fill="#D4CD3A"/><circle cx="349.7" cy="477.1" r="3.6" fill="#CD7818"/><circle cx="361" cy="477.1" r="3.6" fill="#D4CD3A"/><circle cx="372.3" cy="477.1" r="3.6" fill="#CD7818"/><circle cx="383.6" cy="477.1" r="3.6" fill="#D4CD3A"/><circle cx="394.9" cy="477.1" r="3.6" fill="#CD7818"/><circle cx="406.2" cy="477.1" r="3.6" fill="#D4CD3A"/><circle cx="417.5" cy="477.1" r="3.6" fill="#CD7818"/><circle cx="428.8" cy="477.1" r="3.6" fill="#D4CD3A"/><circle cx="440.1" cy="477.1" r="3.6" fill="#CD7818"/><circle cx="451.4" cy="477.1" r="3.6" fill="#D4CD3A"/><circle cx="462.7" cy="477.1" r="3.6" fill="#CD7818"/><circle cx="20.5" cy="488.5" r="3.6" fill="#CD7818"/><circle cx="31.8" cy="488.5" r="3.6" fill="#D4CD3A"/><circle cx="43.1" cy="488.5" r="3.6" fill="#CD7818"/><circle cx="54.4" cy="488.5" r="3.6" fill="#D4CD3A"/><circle cx="65.7" cy="488.5" r="3.6" fill="#CD7818"/><circle cx="77" cy="488.5" r="3.6" fill="#D4CD3A"/><circle cx="88.3" cy="488.5" r="3.6" fill="#CD7818"/><circle cx="99.6" cy="488.5" r="3.6" fill="#D4CD3A"/><circle cx="110.9" cy="488.5" r="3.6" fill="#CD7818"/><circle cx="122.2" cy="488.5" r="3.6" fill="#D4CD3A"/><circle cx="133.5" cy="488.5" r="3.6" fill="#CD7818"/><circle cx="144.8" cy="488.5" r="3.6" fill="#D4CD3A"/><circle cx="156.1" cy="488.5" r="3.6" fill="#CD7818"/><circle cx="167.4" cy="488.5" r="3.6" fill="#D4CD3A"/><circle cx="178.7" cy="488.5" r="3.6" fill="#CD7818"/><circle cx="190" cy="488.5" r="3.6" fill="#D4CD3A"/><circle cx="201.3" cy="488.5" r="3.6" fill="#CD7818"/><circle cx="212.6" cy="488.5" r="3.6" fill="#D4CD3A"/><circle cx="223.9" cy="488.5" r="3.6" fill="#CD7818"/><circle cx="235.2" cy="488.5" r="3.6" fill="#D4CD3A"/><circle cx="246.5" cy="488.5" r="3.6" fill="#CD7818"/><circle cx="257.8" cy="488.5" r="3.6" fill="#D4CD3A"/><circle cx="269.1" cy="488.5" r="3.6" fill="#CD7818"/><circle cx="280.4" cy="488.5" r="3.6" fill="#D4CD3A"/><circle cx="291.7" cy="488.5" r="3.6" fill="#CD7818"/><circle cx="303" cy="488.5" r="3.6" fill="#D4CD3A"/><circle cx="314.3" cy="488.5" r="3.6" fill="#CD7818"/><circle cx="325.6" cy="488.5" r="3.6" fill="#D4CD3A"/><circle cx="336.9" cy="488.5" r="3.6" fill="#CD7818"/><circle cx="348.2" cy="488.5" r="3.6" fill="#D4CD3A"/><circle cx="359.5" cy="488.5" r="3.6" fill="#CD7818"/><circle cx="370.8" cy="488.5" r="3.6" fill="#D4CD3A"/><circle cx="382.1" cy="488.5" r="3.6" fill="#CD7818"/><circle cx="393.4" cy="488.5" r="3.6" fill="#D4CD3A"/><circle cx="404.7" cy="488.5" r="3.6" fill="#CD7818"/><circle cx="416" cy="488.5" r="3.6" fill="#D4CD3A"/><circle cx="427.3" cy="488.5" r="3.6" fill="#CD7818"/><circle cx="438.6" cy="488.5" r="3.6" fill="#D4CD3A"/><circle cx="449.9" cy="488.5" r="3.6" fill="#CD7818"/><circle cx="461.2" cy="488.5" r="3.6" fill="#D4CD3A"/><circle cx="22" cy="498.2" r="3.6" fill="#D4CD3A"/><circle cx="33.3" cy="498.2" r="3.6" fill="#CD7818"/><circle cx="44.6" cy="498.2" r="3.6" fill="#D4CD3A"/><circle cx="55.9" cy="498.2" r="3.6" fill="#CD7818"/><circle cx="67.2" cy="498.2" r="3.6" fill="#D4CD3A"/><circle cx="78.5" cy="498.2" r="3.6" fill="#CD7818"/><circle cx="89.8" cy="498.2" r="3.6" fill="#D4CD3A"/><circle cx="101.1" cy="498.2" r="3.6" fill="#CD7818"/><circle cx="112.4" cy="498.2" r="3.6" fill="#D4CD3A"/><circle cx="123.7" cy="498.2" r="3.6" fill="#CD7818"/><circle cx="135" cy="498.2" r="3.6" fill="#D4CD3A"/><circle cx="146.3" cy="498.2" r="3.6" fill="#CD7818"/><circle cx="157.6" cy="498.2" r="3.6" fill="#D4CD3A"/><circle cx="168.9" cy="498.2" r="3.6" fill="#CD7818"/><circle cx="180.2" cy="498.2" r="3.6" fill="#D4CD3A"/><circle cx="191.5" cy="498.2" r="3.6" fill="#CD7818"/><circle cx="202.8" cy="498.2" r="3.6" fill="#D4CD3A"/><circle cx="214.1" cy="498.2" r="3.6" fill="#CD7818"/><circle cx="225.4" cy="498.2" r="3.6" fill="#D4CD3A"/><circle cx="236.7" cy="498.2" r="3.6" fill="#CD7818"/><circle cx="248" cy="498.2" r="3.6" fill="#D4CD3A"/><circle cx="259.3" cy="498.2" r="3.6" fill="#CD7818"/><circle cx="270.6" cy="498.2" r="3.6" fill="#D4CD3A"/><circle cx="281.9" cy="498.2" r="3.6" fill="#CD7818"/><circle cx="293.2" cy="498.2" r="3.6" fill="#D4CD3A"/><circle cx="304.5" cy="498.2" r="3.6" fill="#CD7818"/><circle cx="315.8" cy="498.2" r="3.6" fill="#D4CD3A"/><circle cx="327.1" cy="498.2" r="3.6" fill="#CD7818"/><circle cx="338.4" cy="498.2" r="3.6" fill="#D4CD3A"/><circle cx="349.7" cy="498.2" r="3.6" fill="#CD7818"/><circle cx="361" cy="498.2" r="3.6" fill="#D4CD3A"/><circle cx="372.3" cy="498.2" r="3.6" fill="#CD7818"/><circle cx="383.6" cy="498.2" r="3.6" fill="#D4CD3A"/><circle cx="394.9" cy="498.2" r="3.6" fill="#CD7818"/><circle cx="406.2" cy="498.2" r="3.6" fill="#D4CD3A"/><circle cx="417.5" cy="498.2" r="3.6" fill="#CD7818"/><circle cx="428.8" cy="498.2" r="3.6" fill="#D4CD3A"/><circle cx="440.1" cy="498.2" r="3.6" fill="#CD7818"/><circle cx="451.4" cy="498.2" r="3.6" fill="#D4CD3A"/><circle cx="462.7" cy="498.2" r="3.6" fill="#CD7818"/><circle cx="20.5" cy="509.6" r="3.6" fill="#CD7818"/><circle cx="31.8" cy="509.6" r="3.6" fill="#D4CD3A"/><circle cx="43.1" cy="509.6" r="3.6" fill="#CD7818"/><circle cx="54.4" cy="509.6" r="3.6" fill="#D4CD3A"/><circle cx="65.7" cy="509.6" r="3.6" fill="#CD7818"/><circle cx="77" cy="509.6" r="3.6" fill="#D4CD3A"/><circle cx="88.3" cy="509.6" r="3.6" fill="#CD7818"/><circle cx="99.6" cy="509.6" r="3.6" fill="#D4CD3A"/><circle cx="110.9" cy="509.6" r="3.6" fill="#CD7818"/><circle cx="122.2" cy="509.6" r="3.6" fill="#D4CD3A"/><circle cx="133.5" cy="509.6" r="3.6" fill="#CD7818"/><circle cx="144.8" cy="509.6" r="3.6" fill="#D4CD3A"/><circle cx="156.1" cy="509.6" r="3.6" fill="#CD7818"/><circle cx="167.4" cy="509.6" r="3.6" fill="#D4CD3A"/><circle cx="178.7" cy="509.6" r="3.6" fill="#CD7818"/><circle cx="190" cy="509.6" r="3.6" fill="#D4CD3A"/><circle cx="201.3" cy="509.6" r="3.6" fill="#CD7818"/><circle cx="212.6" cy="509.6" r="3.6" fill="#D4CD3A"/><circle cx="223.9" cy="509.6" r="3.6" fill="#CD7818"/><circle cx="235.2" cy="509.6" r="3.6" fill="#D4CD3A"/><circle cx="246.5" cy="509.6" r="3.6" fill="#CD7818"/><circle cx="257.8" cy="509.6" r="3.6" fill="#D4CD3A"/><circle cx="269.1" cy="509.6" r="3.6" fill="#CD7818"/><circle cx="280.4" cy="509.6" r="3.6" fill="#D4CD3A"/><circle cx="291.7" cy="509.6" r="3.6" fill="#CD7818"/><circle cx="303" cy="509.6" r="3.6" fill="#D4CD3A"/><circle cx="314.3" cy="509.6" r="3.6" fill="#CD7818"/><circle cx="325.6" cy="509.6" r="3.6" fill="#D4CD3A"/><circle cx="336.9" cy="509.6" r="3.6" fill="#CD7818"/><circle cx="348.2" cy="509.6" r="3.6" fill="#D4CD3A"/><circle cx="359.5" cy="509.6" r="3.6" fill="#CD7818"/><circle cx="370.8" cy="509.6" r="3.6" fill="#D4CD3A"/><circle cx="382.1" cy="509.6" r="3.6" fill="#CD7818"/><circle cx="393.4" cy="509.6" r="3.6" fill="#D4CD3A"/><circle cx="404.7" cy="509.6" r="3.6" fill="#CD7818"/><circle cx="416" cy="509.6" r="3.6" fill="#D4CD3A"/><circle cx="427.3" cy="509.6" r="3.6" fill="#CD7818"/><circle cx="438.6" cy="509.6" r="3.6" fill="#D4CD3A"/><circle cx="449.9" cy="509.6" r="3.6" fill="#CD7818"/><circle cx="461.2" cy="509.6" r="3.6" fill="#D4CD3A"/><circle cx="22" cy="519.3" r="3.6" fill="#D4CD3A"/><circle cx="33.3" cy="519.3" r="3.6" fill="#CD7818"/><circle cx="44.6" cy="519.3" r="3.6" fill="#D4CD3A"/><circle cx="55.9" cy="519.3" r="3.6" fill="#CD7818"/><circle cx="67.2" cy="519.3" r="3.6" fill="#D4CD3A"/><circle cx="78.5" cy="519.3" r="3.6" fill="#CD7818"/><circle cx="89.8" cy="519.3" r="3.6" fill="#D4CD3A"/><circle cx="101.1" cy="519.3" r="3.6" fill="#CD7818"/><circle cx="112.4" cy="519.3" r="3.6" fill="#D4CD3A"/><circle cx="123.7" cy="519.3" r="3.6" fill="#CD7818"/><circle cx="135" cy="519.3" r="3.6" fill="#D4CD3A"/><circle cx="146.3" cy="519.3" r="3.6" fill="#CD7818"/><circle cx="157.6" cy="519.3" r="3.6" fill="#D4CD3A"/><circle cx="168.9" cy="519.3" r="3.6" fill="#CD7818"/><circle cx="180.2" cy="519.3" r="3.6" fill="#D4CD3A"/><circle cx="191.5" cy="519.3" r="3.6" fill="#CD7818"/><circle cx="202.8" cy="519.3" r="3.6" fill="#D4CD3A"/><circle cx="214.1" cy="519.3" r="3.6" fill="#CD7818"/><circle cx="225.4" cy="519.3" r="3.6" fill="#D4CD3A"/><circle cx="236.7" cy="519.3" r="3.6" fill="#CD7818"/><circle cx="248" cy="519.3" r="3.6" fill="#D4CD3A"/><circle cx="259.3" cy="519.3" r="3.6" fill="#CD7818"/><circle cx="270.6" cy="519.3" r="3.6" fill="#D4CD3A"/><circle cx="281.9" cy="519.3" r="3.6" fill="#CD7818"/><circle cx="293.2" cy="519.3" r="3.6" fill="#D4CD3A"/><circle cx="304.5" cy="519.3" r="3.6" fill="#CD7818"/><circle cx="315.8" cy="519.3" r="3.6" fill="#D4CD3A"/><circle cx="327.1" cy="519.3" r="3.6" fill="#CD7818"/><circle cx="338.4" cy="519.3" r="3.6" fill="#D4CD3A"/><circle cx="349.7" cy="519.3" r="3.6" fill="#CD7818"/><circle cx="361" cy="519.3" r="3.6" fill="#D4CD3A"/><circle cx="372.3" cy="519.3" r="3.6" fill="#CD7818"/><circle cx="383.6" cy="519.3" r="3.6" fill="#D4CD3A"/><circle cx="394.9" cy="519.3" r="3.6" fill="#CD7818"/><circle cx="406.2" cy="519.3" r="3.6" fill="#D4CD3A"/><circle cx="417.5" cy="519.3" r="3.6" fill="#CD7818"/><circle cx="428.8" cy="519.3" r="3.6" fill="#D4CD3A"/><circle cx="440.1" cy="519.3" r="3.6" fill="#CD7818"/><circle cx="451.4" cy="519.3" r="3.6" fill="#D4CD3A"/><circle cx="462.7" cy="519.3" r="3.6" fill="#CD7818"/><circle cx="20.5" cy="530.8" r="3.6" fill="#CD7818"/><circle cx="31.8" cy="530.8" r="3.6" fill="#D4CD3A"/><circle cx="43.1" cy="530.8" r="3.6" fill="#CD7818"/><circle cx="54.4" cy="530.8" r="3.6" fill="#D4CD3A"/><circle cx="65.7" cy="530.8" r="3.6" fill="#CD7818"/><circle cx="77" cy="530.8" r="3.6" fill="#D4CD3A"/><circle cx="88.3" cy="530.8" r="3.6" fill="#CD7818"/><circle cx="99.6" cy="530.8" r="3.6" fill="#D4CD3A"/><circle cx="110.9" cy="530.8" r="3.6" fill="#CD7818"/><circle cx="122.2" cy="530.8" r="3.6" fill="#D4CD3A"/><circle cx="133.5" cy="530.8" r="3.6" fill="#CD7818"/><circle cx="144.8" cy="530.8" r="3.6" fill="#D4CD3A"/><circle cx="156.1" cy="530.8" r="3.6" fill="#CD7818"/><circle cx="167.4" cy="530.8" r="3.6" fill="#D4CD3A"/><circle cx="178.7" cy="530.8" r="3.6" fill="#CD7818"/><circle cx="190" cy="530.8" r="3.6" fill="#D4CD3A"/><circle cx="201.3" cy="530.8" r="3.6" fill="#CD7818"/><circle cx="212.6" cy="530.8" r="3.6" fill="#D4CD3A"/><circle cx="223.9" cy="530.8" r="3.6" fill="#CD7818"/><circle cx="235.2" cy="530.8" r="3.6" fill="#D4CD3A"/><circle cx="246.5" cy="530.8" r="3.6" fill="#CD7818"/><circle cx="257.8" cy="530.8" r="3.6" fill="#D4CD3A"/><circle cx="269.1" cy="530.8" r="3.6" fill="#CD7818"/><circle cx="280.4" cy="530.8" r="3.6" fill="#D4CD3A"/><circle cx="291.7" cy="530.8" r="3.6" fill="#CD7818"/><circle cx="303" cy="530.8" r="3.6" fill="#D4CD3A"/><circle cx="314.3" cy="530.8" r="3.6" fill="#CD7818"/><circle cx="325.6" cy="530.8" r="3.6" fill="#D4CD3A"/><circle cx="336.9" cy="530.8" r="3.6" fill="#CD7818"/><circle cx="348.2" cy="530.8" r="3.6" fill="#D4CD3A"/><circle cx="359.5" cy="530.8" r="3.6" fill="#CD7818"/><circle cx="370.8" cy="530.8" r="3.6" fill="#D4CD3A"/><circle cx="382.1" cy="530.8" r="3.6" fill="#CD7818"/><circle cx="393.4" cy="530.8" r="3.6" fill="#D4CD3A"/><circle cx="404.7" cy="530.8" r="3.6" fill="#CD7818"/><circle cx="416" cy="530.8" r="3.6" fill="#D4CD3A"/><circle cx="427.3" cy="530.8" r="3.6" fill="#CD7818"/><circle cx="438.6" cy="530.8" r="3.6" fill="#D4CD3A"/><circle cx="449.9" cy="530.8" r="3.6" fill="#CD7818"/><circle cx="461.2" cy="530.8" r="3.6" fill="#D4CD3A"/><circle cx="22" cy="540.4" r="3.6" fill="#D4CD3A"/><circle cx="33.3" cy="540.4" r="3.6" fill="#CD7818"/><circle cx="44.6" cy="540.4" r="3.6" fill="#D4CD3A"/><circle cx="55.9" cy="540.4" r="3.6" fill="#CD7818"/><circle cx="67.2" cy="540.4" r="3.6" fill="#D4CD3A"/><circle cx="78.5" cy="540.4" r="3.6" fill="#CD7818"/><circle cx="89.8" cy="540.4" r="3.6" fill="#D4CD3A"/><circle cx="101.1" cy="540.4" r="3.6" fill="#CD7818"/><circle cx="112.4" cy="540.4" r="3.6" fill="#D4CD3A"/><circle cx="123.7" cy="540.4" r="3.6" fill="#CD7818"/><circle cx="135" cy="540.4" r="3.6" fill="#D4CD3A"/><circle cx="146.3" cy="540.4" r="3.6" fill="#CD7818"/><circle cx="157.6" cy="540.4" r="3.6" fill="#D4CD3A"/><circle cx="168.9" cy="540.4" r="3.6" fill="#CD7818"/><circle cx="180.2" cy="540.4" r="3.6" fill="#D4CD3A"/><circle cx="191.5" cy="540.4" r="3.6" fill="#CD7818"/><circle cx="202.8" cy="540.4" r="3.6" fill="#D4CD3A"/><circle cx="214.1" cy="540.4" r="3.6" fill="#CD7818"/><circle cx="225.4" cy="540.4" r="3.6" fill="#D4CD3A"/><circle cx="236.7" cy="540.4" r="3.6" fill="#CD7818"/><circle cx="248" cy="540.4" r="3.6" fill="#D4CD3A"/><circle cx="259.3" cy="540.4" r="3.6" fill="#CD7818"/><circle cx="270.6" cy="540.4" r="3.6" fill="#D4CD3A"/><circle cx="281.9" cy="540.4" r="3.6" fill="#CD7818"/><circle cx="293.2" cy="540.4" r="3.6" fill="#D4CD3A"/><circle cx="304.5" cy="540.4" r="3.6" fill="#CD7818"/><circle cx="315.8" cy="540.4" r="3.6" fill="#D4CD3A"/><circle cx="327.1" cy="540.4" r="3.6" fill="#CD7818"/><circle cx="338.4" cy="540.4" r="3.6" fill="#D4CD3A"/><circle cx="349.7" cy="540.4" r="3.6" fill="#CD7818"/><circle cx="361" cy="540.4" r="3.6" fill="#D4CD3A"/><circle cx="372.3" cy="540.4" r="3.6" fill="#CD7818"/><circle cx="383.6" cy="540.4" r="3.6" fill="#D4CD3A"/><circle cx="394.9" cy="540.4" r="3.6" fill="#CD7818"/><circle cx="406.2" cy="540.4" r="3.6" fill="#D4CD3A"/><circle cx="417.5" cy="540.4" r="3.6" fill="#CD7818"/><circle cx="428.8" cy="540.4" r="3.6" fill="#D4CD3A"/><circle cx="440.1" cy="540.4" r="3.6" fill="#CD7818"/><circle cx="451.4" cy="540.4" r="3.6" fill="#D4CD3A"/><circle cx="462.7" cy="540.4" r="3.6" fill="#CD7818"/><circle cx="20.5" cy="551.9" r="3.6" fill="#CD7818"/><circle cx="31.8" cy="551.9" r="3.6" fill="#D4CD3A"/><circle cx="43.1" cy="551.9" r="3.6" fill="#CD7818"/><circle cx="54.4" cy="551.9" r="3.6" fill="#D4CD3A"/><circle cx="65.7" cy="551.9" r="3.6" fill="#CD7818"/><circle cx="77" cy="551.9" r="3.6" fill="#D4CD3A"/><circle cx="88.3" cy="551.9" r="3.6" fill="#CD7818"/><circle cx="99.6" cy="551.9" r="3.6" fill="#D4CD3A"/><circle cx="110.9" cy="551.9" r="3.6" fill="#CD7818"/><circle cx="122.2" cy="551.9" r="3.6" fill="#D4CD3A"/><circle cx="133.5" cy="551.9" r="3.6" fill="#CD7818"/><circle cx="144.8" cy="551.9" r="3.6" fill="#D4CD3A"/><circle cx="156.1" cy="551.9" r="3.6" fill="#CD7818"/><circle cx="167.4" cy="551.9" r="3.6" fill="#D4CD3A"/><circle cx="178.7" cy="551.9" r="3.6" fill="#CD7818"/><circle cx="190" cy="551.9" r="3.6" fill="#D4CD3A"/><circle cx="201.3" cy="551.9" r="3.6" fill="#CD7818"/><circle cx="212.6" cy="551.9" r="3.6" fill="#D4CD3A"/><circle cx="223.9" cy="551.9" r="3.6" fill="#CD7818"/><circle cx="235.2" cy="551.9" r="3.6" fill="#D4CD3A"/><circle cx="246.5" cy="551.9" r="3.6" fill="#CD7818"/><circle cx="257.8" cy="551.9" r="3.6" fill="#D4CD3A"/><circle cx="269.1" cy="551.9" r="3.6" fill="#CD7818"/><circle cx="280.4" cy="551.9" r="3.6" fill="#D4CD3A"/><circle cx="291.7" cy="551.9" r="3.6" fill="#CD7818"/><circle cx="303" cy="551.9" r="3.6" fill="#D4CD3A"/><circle cx="314.3" cy="551.9" r="3.6" fill="#CD7818"/><circle cx="325.6" cy="551.9" r="3.6" fill="#D4CD3A"/><circle cx="336.9" cy="551.9" r="3.6" fill="#CD7818"/><circle cx="348.2" cy="551.9" r="3.6" fill="#D4CD3A"/><circle cx="359.5" cy="551.9" r="3.6" fill="#CD7818"/><circle cx="370.8" cy="551.9" r="3.6" fill="#D4CD3A"/><circle cx="382.1" cy="551.9" r="3.6" fill="#CD7818"/><circle cx="393.4" cy="551.9" r="3.6" fill="#D4CD3A"/><circle cx="404.7" cy="551.9" r="3.6" fill="#CD7818"/><circle cx="416" cy="551.9" r="3.6" fill="#D4CD3A"/><circle cx="427.3" cy="551.9" r="3.6" fill="#CD7818"/><circle cx="438.6" cy="551.9" r="3.6" fill="#D4CD3A"/><circle cx="449.9" cy="551.9" r="3.6" fill="#CD7818"/><circle cx="461.2" cy="551.9" r="3.6" fill="#D4CD3A"/><circle cx="22" cy="561.5" r="3.6" fill="#D4CD3A"/><circle cx="33.3" cy="561.5" r="3.6" fill="#CD7818"/><circle cx="44.6" cy="561.5" r="3.6" fill="#D4CD3A"/><circle cx="55.9" cy="561.5" r="3.6" fill="#CD7818"/><circle cx="67.2" cy="561.5" r="3.6" fill="#D4CD3A"/><circle cx="78.5" cy="561.5" r="3.6" fill="#CD7818"/><circle cx="89.8" cy="561.5" r="3.6" fill="#D4CD3A"/><circle cx="101.1" cy="561.5" r="3.6" fill="#CD7818"/><circle cx="112.4" cy="561.5" r="3.6" fill="#D4CD3A"/><circle cx="123.7" cy="561.5" r="3.6" fill="#CD7818"/><circle cx="135" cy="561.5" r="3.6" fill="#D4CD3A"/><circle cx="146.3" cy="561.5" r="3.6" fill="#CD7818"/><circle cx="157.6" cy="561.5" r="3.6" fill="#D4CD3A"/><circle cx="168.9" cy="561.5" r="3.6" fill="#CD7818"/><circle cx="180.2" cy="561.5" r="3.6" fill="#D4CD3A"/><circle cx="191.5" cy="561.5" r="3.6" fill="#CD7818"/><circle cx="202.8" cy="561.5" r="3.6" fill="#D4CD3A"/><circle cx="214.1" cy="561.5" r="3.6" fill="#CD7818"/><circle cx="225.4" cy="561.5" r="3.6" fill="#D4CD3A"/><circle cx="236.7" cy="561.5" r="3.6" fill="#CD7818"/><circle cx="248" cy="561.5" r="3.6" fill="#D4CD3A"/><circle cx="259.3" cy="561.5" r="3.6" fill="#CD7818"/><circle cx="270.6" cy="561.5" r="3.6" fill="#D4CD3A"/><circle cx="281.9" cy="561.5" r="3.6" fill="#CD7818"/><circle cx="293.2" cy="561.5" r="3.6" fill="#D4CD3A"/><circle cx="304.5" cy="561.5" r="3.6" fill="#CD7818"/><circle cx="315.8" cy="561.5" r="3.6" fill="#D4CD3A"/><circle cx="327.1" cy="561.5" r="3.6" fill="#CD7818"/><circle cx="338.4" cy="561.5" r="3.6" fill="#D4CD3A"/><circle cx="349.7" cy="561.5" r="3.6" fill="#CD7818"/><circle cx="361" cy="561.5" r="3.6" fill="#D4CD3A"/><circle cx="372.3" cy="561.5" r="3.6" fill="#CD7818"/><circle cx="383.6" cy="561.5" r="3.6" fill="#D4CD3A"/><circle cx="394.9" cy="561.5" r="3.6" fill="#CD7818"/><circle cx="406.2" cy="561.5" r="3.6" fill="#D4CD3A"/><circle cx="417.5" cy="561.5" r="3.6" fill="#CD7818"/><circle cx="428.8" cy="561.5" r="3.6" fill="#D4CD3A"/><circle cx="440.1" cy="561.5" r="3.6" fill="#CD7818"/><circle cx="451.4" cy="561.5" r="3.6" fill="#D4CD3A"/><circle cx="462.7" cy="561.5" r="3.6" fill="#CD7818"/><circle cx="20.5" cy="572.9" r="3.6" fill="#CD7818"/><circle cx="31.8" cy="572.9" r="3.6" fill="#D4CD3A"/><circle cx="43.1" cy="572.9" r="3.6" fill="#CD7818"/><circle cx="54.4" cy="572.9" r="3.6" fill="#D4CD3A"/><circle cx="65.7" cy="572.9" r="3.6" fill="#CD7818"/><circle cx="77" cy="572.9" r="3.6" fill="#D4CD3A"/><circle cx="88.3" cy="572.9" r="3.6" fill="#CD7818"/><circle cx="99.6" cy="572.9" r="3.6" fill="#D4CD3A"/><circle cx="110.9" cy="572.9" r="3.6" fill="#CD7818"/><circle cx="122.2" cy="572.9" r="3.6" fill="#D4CD3A"/><circle cx="133.5" cy="572.9" r="3.6" fill="#CD7818"/><circle cx="144.8" cy="572.9" r="3.6" fill="#D4CD3A"/><circle cx="156.1" cy="572.9" r="3.6" fill="#CD7818"/><circle cx="167.4" cy="572.9" r="3.6" fill="#D4CD3A"/><circle cx="178.7" cy="572.9" r="3.6" fill="#CD7818"/><circle cx="190" cy="572.9" r="3.6" fill="#D4CD3A"/><circle cx="201.3" cy="572.9" r="3.6" fill="#CD7818"/><circle cx="212.6" cy="572.9" r="3.6" fill="#D4CD3A"/><circle cx="223.9" cy="572.9" r="3.6" fill="#CD7818"/><circle cx="235.2" cy="572.9" r="3.6" fill="#D4CD3A"/><circle cx="246.5" cy="572.9" r="3.6" fill="#CD7818"/><circle cx="257.8" cy="572.9" r="3.6" fill="#D4CD3A"/><circle cx="269.1" cy="572.9" r="3.6" fill="#CD7818"/><circle cx="280.4" cy="572.9" r="3.6" fill="#D4CD3A"/><circle cx="291.7" cy="572.9" r="3.6" fill="#CD7818"/><circle cx="303" cy="572.9" r="3.6" fill="#D4CD3A"/><circle cx="314.3" cy="572.9" r="3.6" fill="#CD7818"/><circle cx="325.6" cy="572.9" r="3.6" fill="#D4CD3A"/><circle cx="336.9" cy="572.9" r="3.6" fill="#CD7818"/><circle cx="348.2" cy="572.9" r="3.6" fill="#D4CD3A"/><circle cx="359.5" cy="572.9" r="3.6" fill="#CD7818"/><circle cx="370.8" cy="572.9" r="3.6" fill="#D4CD3A"/><circle cx="382.1" cy="572.9" r="3.6" fill="#CD7818"/><circle cx="393.4" cy="572.9" r="3.6" fill="#D4CD3A"/><circle cx="404.7" cy="572.9" r="3.6" fill="#CD7818"/><circle cx="416" cy="572.9" r="3.6" fill="#D4CD3A"/><circle cx="427.3" cy="572.9" r="3.6" fill="#CD7818"/><circle cx="438.6" cy="572.9" r="3.6" fill="#D4CD3A"/><circle cx="449.9" cy="572.9" r="3.6" fill="#CD7818"/><circle cx="461.2" cy="572.9" r="3.6" fill="#D4CD3A"/><circle cx="22" cy="582.6" r="3.6" fill="#D4CD3A"/><circle cx="33.3" cy="582.6" r="3.6" fill="#CD7818"/><circle cx="44.6" cy="582.6" r="3.6" fill="#D4CD3A"/><circle cx="55.9" cy="582.6" r="3.6" fill="#CD7818"/><circle cx="67.2" cy="582.6" r="3.6" fill="#D4CD3A"/><circle cx="78.5" cy="582.6" r="3.6" fill="#CD7818"/><circle cx="89.8" cy="582.6" r="3.6" fill="#D4CD3A"/><circle cx="101.1" cy="582.6" r="3.6" fill="#CD7818"/><circle cx="112.4" cy="582.6" r="3.6" fill="#D4CD3A"/><circle cx="123.7" cy="582.6" r="3.6" fill="#CD7818"/><circle cx="135" cy="582.6" r="3.6" fill="#D4CD3A"/><circle cx="146.3" cy="582.6" r="3.6" fill="#CD7818"/><circle cx="157.6" cy="582.6" r="3.6" fill="#D4CD3A"/><circle cx="168.9" cy="582.6" r="3.6" fill="#CD7818"/><circle cx="180.2" cy="582.6" r="3.6" fill="#D4CD3A"/><circle cx="191.5" cy="582.6" r="3.6" fill="#CD7818"/><circle cx="202.8" cy="582.6" r="3.6" fill="#D4CD3A"/><circle cx="214.1" cy="582.6" r="3.6" fill="#CD7818"/><circle cx="225.4" cy="582.6" r="3.6" fill="#D4CD3A"/><circle cx="236.7" cy="582.6" r="3.6" fill="#CD7818"/><circle cx="248" cy="582.6" r="3.6" fill="#D4CD3A"/><circle cx="259.3" cy="582.6" r="3.6" fill="#CD7818"/><circle cx="270.6" cy="582.6" r="3.6" fill="#D4CD3A"/><circle cx="281.9" cy="582.6" r="3.6" fill="#CD7818"/><circle cx="293.2" cy="582.6" r="3.6" fill="#D4CD3A"/><circle cx="304.5" cy="582.6" r="3.6" fill="#CD7818"/><circle cx="315.8" cy="582.6" r="3.6" fill="#D4CD3A"/><circle cx="327.1" cy="582.6" r="3.6" fill="#CD7818"/><circle cx="338.4" cy="582.6" r="3.6" fill="#D4CD3A"/><circle cx="349.7" cy="582.6" r="3.6" fill="#CD7818"/><circle cx="361" cy="582.6" r="3.6" fill="#D4CD3A"/><circle cx="372.3" cy="582.6" r="3.6" fill="#CD7818"/><circle cx="383.6" cy="582.6" r="3.6" fill="#D4CD3A"/><circle cx="394.9" cy="582.6" r="3.6" fill="#CD7818"/><circle cx="406.2" cy="582.6" r="3.6" fill="#D4CD3A"/><circle cx="417.5" cy="582.6" r="3.6" fill="#CD7818"/><circle cx="428.8" cy="582.6" r="3.6" fill="#D4CD3A"/><circle cx="440.1" cy="582.6" r="3.6" fill="#CD7818"/><circle cx="451.4" cy="582.6" r="3.6" fill="#D4CD3A"/><circle cx="462.7" cy="582.6" r="3.6" fill="#CD7818"/><rect x="20" y="594" width="450" height="12" fill="url(#tp)"/><g transform="translate(20,587.5)"><rect x="0" y="0" width="450" height="10" fill="url(#hp)"/></g><g transform="translate(20,602.5)"><rect x="0" y="0" width="450" height="10" fill="url(#hp)"/></g><ellipse cx="71" cy="498.5" rx="5.2" ry="62.5" fill="#16B094"/><ellipse cx="213.5" cy="518.8" rx="5" ry="70.2" fill="#16B094"/><ellipse cx="340.6" cy="520.5" rx="5" ry="70.5" fill="#16B094"/><ellipse cx="140" cy="475" rx="3.8" ry="21" fill="#0B6451"/><ellipse cx="193.6" cy="523.4" rx="3.8" ry="20.9" fill="#0B6451"/><ellipse cx="268.5" cy="564" rx="3.8" ry="21" fill="#0B6451"/><ellipse cx="354" cy="517.3" rx="3.8" ry="21.3" fill="#0B6451"/><ellipse cx="441" cy="496.4" rx="3.8" ry="21.4" fill="#0B6451"/><path d="M39,437h8" stroke="#555" stroke-width="1.3"/><path d="M89,437h8" stroke="#555" stroke-width="1.3"/><path d="M137.4,432.3h8" stroke="#555" stroke-width="1.3"/><path d="M196,445.6h8" stroke="#555" stroke-width="1.3"/><path d="M255,441.8h8" stroke="#555" stroke-width="1.3"/><path d="M313.8,445.6h8" stroke="#555" stroke-width="1.3"/><path d="M352.7,441.8h8" stroke="#555" stroke-width="1.3"/><path d="M386,449.5h8" stroke="#555" stroke-width="1.3"/><path d="M432.4,445.6h8" stroke="#555" stroke-width="1.3"/><use href="#vd" transform="translate(160.2,272.9) scale(1,0.93)"/><use href="#vd" transform="translate(345,358.5) scale(1,0.93)"/></g><ellipse cx="245" cy="412" rx="222.5" ry="234.5" fill="none" stroke="#2a2a2a" stroke-width="1.3"/><path d="M606,387.5C616.8,387.2 629.1,389.1 640.2,391.8C651.3,394.5 662.4,398.4 672.4,403.6C682.4,408.8 692.8,415.4 700.3,422.9C707.8,430.4 713.2,439.8 717.5,448.7C721.8,457.6 724.4,466.6 726.1,476.6C727.8,486.6 728.2,499.2 727.8,508.8C727.4,518.5 727,526.3 723.9,534.5C720.8,542.7 713.1,551.9 709,558C704.9,564.1 702.7,567.4 699.4,571.2C696.1,575 692.1,577.9 689,581C685.9,584.1 684.1,585.9 680.9,589.7C677.7,593.5 673.8,598.7 669.7,603.6C665.6,608.5 661.5,615.2 656.5,619.4C651.5,623.6 647.7,626.8 640,628.6C632.3,630.4 620.9,630.3 610.2,630C599.5,629.7 586.9,628.8 575.8,626.8C564.7,624.8 553.2,622.9 543.6,618.2C534,613.6 524.7,606.8 517.9,598.9C511.1,591 506.5,581.7 502.9,571C499.3,560.3 497.1,546.3 496.4,534.5C495.7,522.7 496.5,510.9 498.6,500.2C500.8,489.5 504.3,480.8 509.3,470.1C514.3,459.4 521.5,446 528.6,435.8C535.8,425.6 544.4,416.1 552.2,409C560,401.9 566.5,397.1 575.5,393.5C584.5,389.9 595.2,387.8 606,387.5Z" fill="#FEA318" stroke="#6a4210" stroke-width="1.1"/><path d="M606,405.5C617.4,404.4 630.2,407.8 640.2,410C650.2,412.2 658.1,414 666,418.6C673.9,423.2 681.3,430.8 687.4,437.9C693.5,445 698.8,453.3 702.4,461.5C706,469.7 707.8,478.7 708.9,487.3C710,495.9 710,504.4 708.9,513C707.8,521.6 706.2,531 702.4,538.8C698.6,546.6 690.9,554.3 686.2,560C681.5,565.7 678.1,568.6 674.3,573.2C670.4,577.8 666.1,584.4 663.1,587.7C660.1,591 660.4,589.7 656.5,593C652.6,596.3 647,604 640,607.5C633,611 624.5,613.2 614.5,613.9C604.5,614.6 590.8,613.6 580.1,611.8C569.4,610 558.7,607.9 550.1,603.2C541.5,598.6 534,591.4 528.6,583.9C523.2,576.4 520.2,567.8 517.9,558.1C515.6,548.4 514.9,535.5 514.7,525.9C514.5,516.2 514.6,509.1 516.8,500.2C518.9,491.3 522.9,482.5 527.6,472.3C532.3,462.1 537.6,448.3 545,439C552.4,429.7 561.8,422.1 572,416.5C582.2,410.9 594.6,406.6 606,405.5Z" fill="#64BF0C" stroke="#1f4512" stroke-width="1.1"/><path d="M605.9,416C616.6,414.7 628.8,416.5 638.1,418.2C647.4,419.9 654.6,422.1 661.7,426.1C668.9,430.1 675.6,435.9 681,442.2C686.4,448.5 690.9,456.2 693.9,463.7C696.9,471.2 698.5,479.1 699.2,487.3C699.9,495.5 699.5,504.8 698.2,513C697,521.2 695.8,528.9 691.7,536.7C687.6,544.5 678.5,553.9 673.7,560C668.9,566.1 666,569.9 663.1,573.2C660.2,576.5 660.4,575.8 656.5,579.8C652.6,583.8 647,592.9 640,597C633,601.1 624.1,603.2 614.5,604.2C604.9,605.2 592.3,604.6 582.3,603.2C572.3,601.8 562.3,600 554.4,595.7C546.5,591.4 539.9,584.4 535.1,577.4C530.3,570.4 527.4,562.4 525.4,553.8C523.4,545.2 523.5,534.8 523.3,525.9C523.1,517 522.7,508.8 524.3,500.2C525.9,491.6 528.6,483.3 532.9,474.4C537.2,465.4 543.3,454.6 550.1,446.5C556.9,438.4 564.4,431.2 573.7,426.1C583,421 595.2,417.3 605.9,416Z" fill="#008EBD" stroke="#0c2f4a" stroke-width="1.1"/><path d="M569.9,472.2C569.5,470.9 567.3,467.1 567.4,464.8C567.5,462.4 569.1,459.3 570.5,457.9C572,456.6 574.2,456.3 576.1,456.4C577.9,456.5 580.4,457.2 581.7,458.6C582.9,460 582.7,463.2 583.5,464.8C584.3,466.3 585.2,467.5 586.6,467.8C588.1,468.2 590.7,467.6 592.2,466.6C593.6,465.6 594.6,464.2 595.3,461.7C596,459.1 597.1,453.7 596.5,451.1C595.9,448.6 593.1,446.5 591.6,446.2C590,445.9 588.1,447.4 587.2,449.3C586.4,451.1 586.3,454.7 586.6,457.3C586.9,459.9 587.7,462.7 589.1,464.8C590.4,466.8 593.3,468.1 594.7,469.7C596,471.4 596.1,473.8 597.1,474.7C598.2,475.5 599.6,475.6 600.8,474.7C602.1,473.7 603.6,471.5 604.6,469.1C605.5,466.7 605.4,462 606.4,460.4C607.4,458.9 609,459.1 610.7,459.8C612.5,460.5 615,462.7 616.9,464.8C618.9,466.8 621.3,470.1 622.5,472.2C623.7,474.2 624.7,476.1 624.4,477.1C624,478.2 623.1,479.2 620.6,478.4C618.2,477.5 612.4,473.7 609.5,472.2C606.6,470.6 605.4,469.5 603.3,469.1C601.3,468.7 599.4,469.4 597.1,469.7C594.9,470 592.8,470.2 589.7,470.9C586.6,471.7 581.5,473.6 578.6,474C575.7,474.4 571.3,472.9 572.4,473.4C573.4,473.9 581.7,476.2 584.8,477.1C587.8,478.1 588.9,478.2 590.9,479C593,479.8 595.5,480.9 597.1,482.1C598.8,483.2 599.4,486.1 600.8,485.8C602.3,485.5 604.6,482.1 605.8,480.2C607,478.4 607.6,474.6 608.3,474.7C608.9,474.8 610.1,478.8 609.5,480.8C608.9,482.9 607,485.9 604.6,487C602.1,488.2 597.6,488.1 594.7,487.6C591.7,487.2 587.9,485.8 586.6,484.6C585.3,483.3 585.7,481.2 586.6,480.2C587.5,479.3 590,478.5 592.2,479C594.3,479.5 597.5,482.4 599.6,483.3C601.7,484.2 602.4,485.1 604.6,484.6C606.7,484 610.1,479.8 612.6,480.2C615.1,480.6 617.9,484.7 619.4,487C621,489.4 622.5,492.5 621.9,494.5C621.3,496.4 617.5,498.4 615.7,498.8C613.8,499.2 611.8,498.7 610.7,496.9C609.7,495.2 609.3,490.9 609.5,488.3C609.7,485.6 610.6,482.5 612,480.8C613.3,479.2 615.5,479 617.5,478.4C619.6,477.7 622,477.2 624.4,477.1C626.7,477 629.6,477.5 631.8,477.7C633.9,478 635.3,477.4 637.4,478.4C639.4,479.3 643.1,481.9 644.2,483.3C645.2,484.8 644.8,486.3 643.5,487C642.3,487.8 638,486.5 636.7,487.6C635.5,488.8 635.7,492.1 636.1,493.8C636.5,495.6 637.7,497.3 639.2,498.2C640.8,499 643.8,499.6 645.4,498.8C646.9,498 648,496.6 648.5,493.2C649,489.8 649.2,481.7 648.5,478.4C647.8,475.1 645.8,474.1 644.2,473.4C642.5,472.7 639.8,473 638.6,474C637.4,475.1 637.1,477.4 636.7,479.6C636.3,481.8 636.7,484.2 636.1,487C635.5,489.8 634.3,494.9 633,496.3C631.8,497.8 629.7,496.8 628.7,495.7C627.7,494.6 626.7,491.2 626.8,489.5C626.9,487.9 628.1,486.4 629.3,485.8C630.5,485.2 635.5,484.3 634.3,485.8C633,487.2 622.9,492.2 621.9,494.5C620.8,496.7 626,497.8 628.1,499.4C630.1,501.1 631.7,502.9 634.3,504.4C636.8,505.8 640.2,507.6 643.5,508.1C646.8,508.6 651.6,508.5 654.1,507.5C656.5,506.4 658.3,503.8 658.4,501.9C658.5,499.9 656.1,496.9 654.7,495.7C653.2,494.5 650.6,494.7 649.7,494.5" fill="none" stroke="#12304a" stroke-width="1.1"/><circle cx="617" cy="363.5" r="5.8" fill="none" stroke="#6B8E58" stroke-width="2.3"/><circle cx="566" cy="385" r="5.8" fill="none" stroke="#6B8E58" stroke-width="2.3"/><circle cx="637" cy="381.5" r="5.8" fill="none" stroke="#6B8E58" stroke-width="2.3"/><circle cx="680" cy="384" r="5.8" fill="none" stroke="#6B8E58" stroke-width="2.3"/><circle cx="528.6" cy="404.5" r="5.8" fill="none" stroke="#6B8E58" stroke-width="2.3"/><circle cx="692.5" cy="407" r="5.8" fill="none" stroke="#6B8E58" stroke-width="2.3"/><circle cx="513.3" cy="434.5" r="5.8" fill="none" stroke="#6B8E58" stroke-width="2.3"/><circle cx="719" cy="431" r="5.8" fill="none" stroke="#6B8E58" stroke-width="2.3"/><circle cx="738" cy="453" r="5.8" fill="none" stroke="#6B8E58" stroke-width="2.3"/><circle cx="489.5" cy="496" r="5.8" fill="none" stroke="#6B8E58" stroke-width="2.3"/><circle cx="746" cy="499" r="5.8" fill="none" stroke="#6B8E58" stroke-width="2.3"/><circle cx="476.8" cy="545" r="5.8" fill="none" stroke="#6B8E58" stroke-width="2.3"/><circle cx="728" cy="545" r="5.8" fill="none" stroke="#6B8E58" stroke-width="2.3"/><circle cx="490" cy="582" r="5.8" fill="none" stroke="#6B8E58" stroke-width="2.3"/><circle cx="728" cy="577" r="5.8" fill="none" stroke="#6B8E58" stroke-width="2.3"/><circle cx="706.8" cy="595.5" r="5.8" fill="none" stroke="#6B8E58" stroke-width="2.3"/><circle cx="505.5" cy="614" r="5.8" fill="none" stroke="#6B8E58" stroke-width="2.3"/><circle cx="680" cy="607.5" r="5.8" fill="none" stroke="#6B8E58" stroke-width="2.3"/><circle cx="535" cy="632" r="5.8" fill="none" stroke="#6B8E58" stroke-width="2.3"/><circle cx="610.5" cy="638" r="5.8" fill="none" stroke="#6B8E58" stroke-width="2.3"/><circle cx="658.3" cy="633" r="5.8" fill="none" stroke="#6B8E58" stroke-width="2.3"/><circle cx="591.8" cy="654.5" r="5.8" fill="none" stroke="#6B8E58" stroke-width="2.3"/><ellipse cx="617.8" cy="395.5" rx="36.2" ry="38.5" fill="none" stroke="#2a2a2a" stroke-width="1.3"/><path d="M364.6,212.5L626,356.8M388,593L640,426.5" stroke="#2a2a2a" stroke-width="1.3" fill="none"/><path d="M760,319L781,334.5L732.1,421.6L692.5,394.3Z" fill="url(#bgp)" /><path d="M823.7,234.9L841.5,249.3L832.6,260.1L831.1,259.2L801.9,295.8L798,327L798.5,327.5L789.1,336.9L783.1,333.4L777.7,334.4L767.8,331.4L760.8,324L759.4,317.1L759.9,312.1L752.4,305.7L761.8,295.8L786.6,286.9L816.8,248.3L815.3,245.8Z" fill="#000" /><path d="M779,509.2L849.5,509.2L849.5,504.9L863.3,514.2L849.5,523.5L849.5,519.2L779,519.2Z" fill="#fff" stroke="#474747" stroke-width="1.3" stroke-linejoin="miter"/><path d="M896.4,517.3C896.4,510.9 898.2,508 900.7,500.1C903.2,492.2 907.1,479.4 911.4,470.1C915.7,460.8 920,453.6 926.5,444.3C933,435 941.9,422.2 950.1,414.3C958.3,406.4 967.6,401.3 975.8,397.2C984,393.1 992.2,390.4 999.4,389.7C1006.5,389 1011.9,390.9 1018.7,392.9C1025.5,394.8 1033.3,398.9 1040.1,401.4C1046.9,403.9 1053.8,405.1 1059.4,407.9C1065.1,410.7 1069.9,413.6 1074,418C1078.1,422.4 1081,429 1084,434C1087,439 1088.5,446.7 1092,448C1095.5,449.3 1101.8,442.1 1104.8,442C1107.8,441.9 1109.4,441.3 1110,447.1C1110.6,452.9 1107.1,468.2 1108.3,476.6C1109.5,485 1114.7,491.6 1117,497.4C1119.3,503.2 1121.9,507.2 1122.2,511.2C1122.5,515.2 1122,514.9 1118.7,521.6C1115.4,528.3 1107.2,543 1102.3,551.6C1097.4,560.2 1093.4,566.6 1089.5,573C1085.6,579.4 1083.4,584.5 1078.7,590.2C1074,595.9 1068,601.9 1061.6,607.3C1055.2,612.7 1048.7,618.6 1040.1,622.4C1031.5,626.2 1020.1,628.8 1010.1,629.9C1000.1,631 990.1,630.4 980.1,628.8C970.1,627.2 959.4,623.8 950.1,620.2C940.8,616.6 930.8,613 924.3,607.3C917.8,601.6 914.2,593.8 911.4,585.9C908.5,578 909,568.1 907.2,560.2C905.4,552.3 902.5,545.9 900.7,538.7C898.9,531.6 896.4,523.7 896.4,517.3Z" fill="#FEA318" stroke="#6a4210" stroke-width="1.1"/><path d="M917.9,519.4C918.2,510.8 917.5,500.4 920,491.5C922.5,482.6 927.2,475.1 932.9,465.8C938.6,456.5 946.4,443.7 954.3,435.8C962.2,427.9 972.2,422.4 980.1,418.6C988,414.8 994.4,413.7 1001.5,413.2C1008.6,412.7 1015.9,414.3 1023,415.4C1030.2,416.5 1038,419.2 1044.4,419.7C1050.8,420.2 1056.2,420.2 1061.6,418.6C1067,417 1072.3,412.5 1076.6,410C1080.9,407.5 1085.3,403.2 1087.3,403.6C1089.3,404 1089.1,409 1088.4,412.2C1087.7,415.4 1084.8,419.3 1083,422.9C1081.2,426.5 1076.6,429.7 1077.7,433.6C1078.8,437.5 1085.8,446.1 1089.5,446.5C1093.2,446.9 1096.3,439.2 1100.2,435.8C1104.1,432.4 1110.2,427.9 1113.1,426.1C1115.9,424.3 1116.9,423.4 1117.3,425C1117.7,426.6 1117.3,429.7 1115.2,435.8C1113.1,441.9 1106.7,452.2 1104.5,461.5C1102.3,470.8 1102.7,482.2 1102.3,491.5C1101.9,500.8 1102.6,508.7 1102.3,517.3C1102,525.9 1102.3,535.1 1100.2,543C1098.1,550.9 1094.2,557.4 1089.5,564.5C1084.8,571.6 1078.4,579.5 1072.3,585.9C1066.2,592.3 1060.5,598.5 1053,603C1045.5,607.5 1036.6,611.1 1027.3,612.7C1018,614.3 1007.2,614.3 997.2,612.7C987.2,611.1 976.5,607.5 967.2,603C957.9,598.5 948.6,592.3 941.5,585.9C934.4,579.5 928.2,571.6 924.3,564.5C920.4,557.4 919,550.5 917.9,543C916.8,535.5 917.5,528 917.9,519.4Z" fill="#64BF0C" stroke="#1f4512" stroke-width="1.1"/><path d="M925.4,517.3C925.8,510.5 925.9,502.3 928.6,493.7C931.3,485.1 935.8,474.7 941.5,465.8C947.2,456.9 955,447.1 962.9,440.1C970.8,433.1 980.8,427.1 988.7,424C996.6,420.9 1001.5,421.6 1010.1,421.8C1018.7,422 1031.5,423.8 1040.1,425C1048.7,426.2 1055.5,427.2 1061.6,429.3C1067.7,431.4 1071.9,434.3 1076.6,437.9C1081.2,441.5 1086.6,444.4 1089.5,450.8C1092.4,457.2 1092.7,468.3 1093.8,476.5C1094.9,484.7 1095.9,492.6 1095.9,500.1C1095.9,507.6 1096,515.9 1093.8,521.6C1091.6,527.3 1086.2,530.5 1083,534.4C1079.8,538.3 1077,540.2 1074.5,545.2C1072,550.2 1071.6,558.1 1068,564.5C1064.4,570.9 1059.8,577.7 1053,583.8C1046.2,589.9 1036.6,597.7 1027.3,600.9C1018,604.1 1007.2,604.1 997.2,603C987.2,601.9 976.1,598.4 967.2,594.5C958.3,590.6 949.7,585.9 943.6,579.5C937.5,573.1 933.6,563.4 930.8,555.9C927.9,548.4 927.4,540.8 926.5,534.4C925.6,528 925,524.1 925.4,517.3Z" fill="#008EBD" stroke="#0c2f4a" stroke-width="1.1"/><path d="M1087.3,404L1094,408L1104,414L1116,424L1100.2,435.8L1089.5,446.5L1080,447L1077.7,433.6L1083,422.9L1088.4,412.2Z" fill="#fff"/><path d="M1080,447C1084,449 1090,449 1093,444" fill="none" stroke="#333" stroke-width="0.9"/><path d="M1086,447C1080,430 1090,418 1094,410C1100,400 1112,398 1120,402C1130,406 1125,414 1116,412C1108,410 1104,400 1110,402" fill="none" stroke="#666" stroke-width="1"/><path d="M1086,448C1075,452 1060,458 1050,452C1040,446 1038,440 1048,440C1060,440 1058,460 1048,462C1038,464 1030,455 1035,445C1040,437 1055,438 1058,448C1061,458 1080,456 1083,450C1086,444 1070,442 1062,450C1054,458 1050,470 1042,474C1034,478 1030,468 1034,462C1038,456 1046,470 1045,480C1044,490 1048,500 1053,496C1058,492 1054,480 1046,478" fill="none" stroke="#1d2b3a" stroke-width="1.1"/><path d="M-5,0C-5,-5.6 5,-5.6 5,0C4.5,-0.4 -4.5,-0.4 -5,0Z" fill="#FEA318" stroke="#333" stroke-width="0.6" transform="translate(1091,339.6) rotate(10)"/><path d="M-4.5,0C-4.5,-3.1 4.5,-3.1 4.5,0C4,2.9 -4,2.9 -4.5,0Z" fill="#64BF0C" stroke="#333" stroke-width="0.6" transform="translate(1137.4,360.8) rotate(-30)"/><path d="M-6,0C-6,-5.9 6,-5.9 6,0C5.4,2.1 -5.4,2.1 -6,0Z" fill="#008EBD" stroke="#333" stroke-width="0.6" transform="translate(1093.2,371) rotate(15)"/><path d="M-6.5,0C-6.5,-6 6.5,-6 6.5,0C5.9,-0.4 -5.9,-0.4 -6.5,0Z" fill="#FEA318" stroke="#333" stroke-width="0.6" transform="translate(1117,373) rotate(-20)"/><path d="M-5.5,0C-5.5,-3.5 5.5,-3.5 5.5,0C5,3.2 -5,3.2 -5.5,0Z" fill="#64BF0C" stroke="#333" stroke-width="0.6" transform="translate(1157.2,378.6) rotate(35)"/><path d="M-2,0C-2,-10.4 2,-10.4 2,0C1.8,3.7 -1.8,3.7 -2,0Z" fill="#FEA318" stroke="#333" stroke-width="0.6" transform="translate(1076,392.2) rotate(5)"/><path d="M-5.5,0C-5.5,-5.6 5.5,-5.6 5.5,0C5,-0.4 -5,-0.4 -5.5,0Z" fill="#64BF0C" stroke="#333" stroke-width="0.6" transform="translate(1091.9,393) rotate(30)"/><path d="M-5.5,0C-5.5,-5.3 5.5,-5.3 5.5,0C5,4.9 -5,4.9 -5.5,0Z" fill="#008EBD" stroke="#333" stroke-width="0.6" transform="translate(1126.5,392.2) rotate(-25)"/><path d="M-5,0C-5,-5.2 5,-5.2 5,0C4.5,1.9 -4.5,1.9 -5,0Z" fill="#FEA318" stroke="#333" stroke-width="0.6" transform="translate(1178.2,392.2) rotate(35)"/><path d="M-4.8,0C-4.8,-6.4 4.8,-6.4 4.8,0C4.3,-0.5 -4.3,-0.5 -4.8,0Z" fill="#FEA318" stroke="#333" stroke-width="0.6" transform="translate(1140.9,401.2) rotate(10)"/><path d="M-5.2,0C-5.2,-3.2 5.2,-3.2 5.2,0C4.7,3 -4.7,3 -5.2,0Z" fill="#64BF0C" stroke="#333" stroke-width="0.6" transform="translate(1164.6,408.5) rotate(20)"/><path d="M-4,0C-4,-3.8 4,-3.8 4,0C3.6,1.4 -3.6,1.4 -4,0Z" fill="#64BF0C" stroke="#333" stroke-width="0.6" transform="translate(1121.8,415.3) rotate(-30)"/><path d="M-7.2,0C-7.2,-6.4 7.2,-6.4 7.2,0C6.5,-0.5 -6.5,-0.5 -7.2,0Z" fill="#008EBD" stroke="#333" stroke-width="0.6" transform="translate(1152.3,431.1) rotate(-20)"/><path d="M-4.5,0C-4.5,-3.1 4.5,-3.1 4.5,0C4,2.9 -4,2.9 -4.5,0Z" fill="#FEA318" stroke="#333" stroke-width="0.6" transform="translate(1123.2,444.7) rotate(25)"/><g transform="translate(0,0)"><g clip-path="url(#cgn)"><rect x="1270" y="555.5" width="440" height="40" fill="#008EBD"/><path d="M1310,401V468M1374.7,404.6V468M1449.7,400.9V468M1491,401.5V468M1556.3,403V468M1575.7,401.5V468M1653.2,401.5V468" stroke="#E2B67A" stroke-width="0.9"/><circle cx="1310" cy="401" r="3.3" fill="#D4CD3A"/><circle cx="1310" cy="411.6" r="3.3" fill="#CD7818"/><circle cx="1310" cy="422.2" r="3.3" fill="#D4CD3A"/><circle cx="1310" cy="432.8" r="3.3" fill="#CD7818"/><circle cx="1310" cy="443.4" r="3.3" fill="#D4CD3A"/><circle cx="1310" cy="454" r="3.3" fill="#CD7818"/><circle cx="1310" cy="464.6" r="3.3" fill="#D4CD3A"/><circle cx="1374.7" cy="404.6" r="3.3" fill="#D4CD3A"/><circle cx="1374.7" cy="415.2" r="3.3" fill="#CD7818"/><circle cx="1374.7" cy="425.8" r="3.3" fill="#D4CD3A"/><circle cx="1374.7" cy="436.4" r="3.3" fill="#CD7818"/><circle cx="1374.7" cy="447" r="3.3" fill="#D4CD3A"/><circle cx="1374.7" cy="457.6" r="3.3" fill="#CD7818"/><circle cx="1374.7" cy="468.2" r="3.3" fill="#D4CD3A"/><circle cx="1449.7" cy="400.9" r="3.3" fill="#D4CD3A"/><circle cx="1449.7" cy="411.5" r="3.3" fill="#CD7818"/><circle cx="1449.7" cy="422.1" r="3.3" fill="#D4CD3A"/><circle cx="1449.7" cy="432.7" r="3.3" fill="#CD7818"/><circle cx="1449.7" cy="443.3" r="3.3" fill="#D4CD3A"/><circle cx="1449.7" cy="453.9" r="3.3" fill="#CD7818"/><circle cx="1449.7" cy="464.5" r="3.3" fill="#D4CD3A"/><circle cx="1491" cy="401.5" r="3.3" fill="#D4CD3A"/><circle cx="1491" cy="412.1" r="3.3" fill="#CD7818"/><circle cx="1491" cy="422.7" r="3.3" fill="#D4CD3A"/><circle cx="1491" cy="433.3" r="3.3" fill="#CD7818"/><circle cx="1491" cy="443.9" r="3.3" fill="#D4CD3A"/><circle cx="1491" cy="454.5" r="3.3" fill="#CD7818"/><circle cx="1491" cy="465.1" r="3.3" fill="#D4CD3A"/><circle cx="1556.3" cy="403" r="3.3" fill="#D4CD3A"/><circle cx="1556.3" cy="413.6" r="3.3" fill="#CD7818"/><circle cx="1556.3" cy="424.2" r="3.3" fill="#D4CD3A"/><circle cx="1556.3" cy="434.8" r="3.3" fill="#CD7818"/><circle cx="1556.3" cy="445.4" r="3.3" fill="#D4CD3A"/><circle cx="1556.3" cy="456" r="3.3" fill="#CD7818"/><circle cx="1556.3" cy="466.6" r="3.3" fill="#D4CD3A"/><circle cx="1575.7" cy="401.5" r="3.3" fill="#D4CD3A"/><circle cx="1575.7" cy="412.1" r="3.3" fill="#CD7818"/><circle cx="1575.7" cy="422.7" r="3.3" fill="#D4CD3A"/><circle cx="1575.7" cy="433.3" r="3.3" fill="#CD7818"/><circle cx="1575.7" cy="443.9" r="3.3" fill="#D4CD3A"/><circle cx="1575.7" cy="454.5" r="3.3" fill="#CD7818"/><circle cx="1575.7" cy="465.1" r="3.3" fill="#D4CD3A"/><circle cx="1653.2" cy="401.5" r="3.3" fill="#D4CD3A"/><circle cx="1653.2" cy="412.1" r="3.3" fill="#CD7818"/><circle cx="1653.2" cy="422.7" r="3.3" fill="#D4CD3A"/><circle cx="1653.2" cy="433.3" r="3.3" fill="#CD7818"/><circle cx="1653.2" cy="443.9" r="3.3" fill="#D4CD3A"/><circle cx="1653.2" cy="454.5" r="3.3" fill="#CD7818"/><circle cx="1653.2" cy="465.1" r="3.3" fill="#D4CD3A"/><path d="M1270,494H1710M1270,511.2H1710M1270,527.5H1710" stroke="#E9B98F" stroke-width="0.7"/><path d="M1337.5,496L1338.5,500L1336,505L1336.5,510.2M1402.9,496L1403.9,500L1401.4,505L1401.9,510.2M1468.3,496L1469.3,500L1466.8,505L1467.3,510.2M1533.7,496L1534.7,500L1532.2,505L1532.7,510.2M1599.1,496L1600.1,500L1597.6,505L1598.1,510.2M1664.5,496L1665.5,500L1663,505L1663.5,510.2M1294.9,513.2L1295.9,517.2L1293.4,522.2L1293.9,526.5M1360.3,513.2L1361.3,517.2L1358.8,522.2L1359.3,526.5M1425.7,513.2L1426.7,517.2L1424.2,522.2L1424.7,526.5M1491.1,513.2L1492.1,517.2L1489.6,522.2L1490.1,526.5M1556.5,513.2L1557.5,517.2L1555,522.2L1555.5,526.5M1621.9,513.2L1622.9,517.2L1620.4,522.2L1620.9,526.5M1687.3,513.2L1688.3,517.2L1685.8,522.2L1686.3,526.5" stroke="#B88CC4" stroke-width="1.9" fill="none"/><circle cx="1282" cy="494" r="3.3" fill="#D4CD3A"/><circle cx="1292.9" cy="494" r="3.3" fill="#CD7818"/><circle cx="1303.8" cy="494" r="3.3" fill="#D4CD3A"/><circle cx="1314.7" cy="494" r="3.3" fill="#CD7818"/><circle cx="1325.6" cy="494" r="3.3" fill="#D4CD3A"/><circle cx="1336.5" cy="494" r="3.3" fill="#CD7818"/><circle cx="1347.4" cy="494" r="3.3" fill="#D4CD3A"/><circle cx="1358.3" cy="494" r="3.3" fill="#CD7818"/><circle cx="1369.2" cy="494" r="3.3" fill="#D4CD3A"/><circle cx="1380.1" cy="494" r="3.3" fill="#CD7818"/><circle cx="1391" cy="494" r="3.3" fill="#D4CD3A"/><circle cx="1401.9" cy="494" r="3.3" fill="#CD7818"/><circle cx="1412.8" cy="494" r="3.3" fill="#D4CD3A"/><circle cx="1423.7" cy="494" r="3.3" fill="#CD7818"/><circle cx="1434.6" cy="494" r="3.3" fill="#D4CD3A"/><circle cx="1445.5" cy="494" r="3.3" fill="#CD7818"/><circle cx="1456.4" cy="494" r="3.3" fill="#D4CD3A"/><circle cx="1467.3" cy="494" r="3.3" fill="#CD7818"/><circle cx="1478.2" cy="494" r="3.3" fill="#D4CD3A"/><circle cx="1489.1" cy="494" r="3.3" fill="#CD7818"/><circle cx="1500" cy="494" r="3.3" fill="#D4CD3A"/><circle cx="1510.9" cy="494" r="3.3" fill="#CD7818"/><circle cx="1521.8" cy="494" r="3.3" fill="#D4CD3A"/><circle cx="1532.7" cy="494" r="3.3" fill="#CD7818"/><circle cx="1543.6" cy="494" r="3.3" fill="#D4CD3A"/><circle cx="1554.5" cy="494" r="3.3" fill="#CD7818"/><circle cx="1565.4" cy="494" r="3.3" fill="#D4CD3A"/><circle cx="1576.3" cy="494" r="3.3" fill="#CD7818"/><circle cx="1587.2" cy="494" r="3.3" fill="#D4CD3A"/><circle cx="1598.1" cy="494" r="3.3" fill="#CD7818"/><circle cx="1609" cy="494" r="3.3" fill="#D4CD3A"/><circle cx="1619.9" cy="494" r="3.3" fill="#CD7818"/><circle cx="1630.8" cy="494" r="3.3" fill="#D4CD3A"/><circle cx="1641.7" cy="494" r="3.3" fill="#CD7818"/><circle cx="1652.6" cy="494" r="3.3" fill="#D4CD3A"/><circle cx="1663.5" cy="494" r="3.3" fill="#CD7818"/><circle cx="1674.4" cy="494" r="3.3" fill="#D4CD3A"/><circle cx="1685.3" cy="494" r="3.3" fill="#CD7818"/><circle cx="1696.2" cy="494" r="3.3" fill="#D4CD3A"/><circle cx="1707.1" cy="494" r="3.3" fill="#CD7818"/><circle cx="1718" cy="494" r="3.3" fill="#D4CD3A"/><circle cx="1283" cy="511.2" r="3.3" fill="#D4CD3A"/><circle cx="1293.9" cy="511.2" r="3.3" fill="#CD7818"/><circle cx="1304.8" cy="511.2" r="3.3" fill="#D4CD3A"/><circle cx="1315.7" cy="511.2" r="3.3" fill="#CD7818"/><circle cx="1326.6" cy="511.2" r="3.3" fill="#D4CD3A"/><circle cx="1337.5" cy="511.2" r="3.3" fill="#CD7818"/><circle cx="1348.4" cy="511.2" r="3.3" fill="#D4CD3A"/><circle cx="1359.3" cy="511.2" r="3.3" fill="#CD7818"/><circle cx="1370.2" cy="511.2" r="3.3" fill="#D4CD3A"/><circle cx="1381.1" cy="511.2" r="3.3" fill="#CD7818"/><circle cx="1392" cy="511.2" r="3.3" fill="#D4CD3A"/><circle cx="1402.9" cy="511.2" r="3.3" fill="#CD7818"/><circle cx="1413.8" cy="511.2" r="3.3" fill="#D4CD3A"/><circle cx="1424.7" cy="511.2" r="3.3" fill="#CD7818"/><circle cx="1435.6" cy="511.2" r="3.3" fill="#D4CD3A"/><circle cx="1446.5" cy="511.2" r="3.3" fill="#CD7818"/><circle cx="1457.4" cy="511.2" r="3.3" fill="#D4CD3A"/><circle cx="1468.3" cy="511.2" r="3.3" fill="#CD7818"/><circle cx="1479.2" cy="511.2" r="3.3" fill="#D4CD3A"/><circle cx="1490.1" cy="511.2" r="3.3" fill="#CD7818"/><circle cx="1501" cy="511.2" r="3.3" fill="#D4CD3A"/><circle cx="1511.9" cy="511.2" r="3.3" fill="#CD7818"/><circle cx="1522.8" cy="511.2" r="3.3" fill="#D4CD3A"/><circle cx="1533.7" cy="511.2" r="3.3" fill="#CD7818"/><circle cx="1544.6" cy="511.2" r="3.3" fill="#D4CD3A"/><circle cx="1555.5" cy="511.2" r="3.3" fill="#CD7818"/><circle cx="1566.4" cy="511.2" r="3.3" fill="#D4CD3A"/><circle cx="1577.3" cy="511.2" r="3.3" fill="#CD7818"/><circle cx="1588.2" cy="511.2" r="3.3" fill="#D4CD3A"/><circle cx="1599.1" cy="511.2" r="3.3" fill="#CD7818"/><circle cx="1610" cy="511.2" r="3.3" fill="#D4CD3A"/><circle cx="1620.9" cy="511.2" r="3.3" fill="#CD7818"/><circle cx="1631.8" cy="511.2" r="3.3" fill="#D4CD3A"/><circle cx="1642.7" cy="511.2" r="3.3" fill="#CD7818"/><circle cx="1653.6" cy="511.2" r="3.3" fill="#D4CD3A"/><circle cx="1664.5" cy="511.2" r="3.3" fill="#CD7818"/><circle cx="1675.4" cy="511.2" r="3.3" fill="#D4CD3A"/><circle cx="1686.3" cy="511.2" r="3.3" fill="#CD7818"/><circle cx="1697.2" cy="511.2" r="3.3" fill="#D4CD3A"/><circle cx="1708.1" cy="511.2" r="3.3" fill="#CD7818"/><circle cx="1719" cy="511.2" r="3.3" fill="#D4CD3A"/><circle cx="1284" cy="527.5" r="3.3" fill="#D4CD3A"/><circle cx="1294.9" cy="527.5" r="3.3" fill="#CD7818"/><circle cx="1305.8" cy="527.5" r="3.3" fill="#D4CD3A"/><circle cx="1316.7" cy="527.5" r="3.3" fill="#CD7818"/><circle cx="1327.6" cy="527.5" r="3.3" fill="#D4CD3A"/><circle cx="1338.5" cy="527.5" r="3.3" fill="#CD7818"/><circle cx="1349.4" cy="527.5" r="3.3" fill="#D4CD3A"/><circle cx="1360.3" cy="527.5" r="3.3" fill="#CD7818"/><circle cx="1371.2" cy="527.5" r="3.3" fill="#D4CD3A"/><circle cx="1382.1" cy="527.5" r="3.3" fill="#CD7818"/><circle cx="1393" cy="527.5" r="3.3" fill="#D4CD3A"/><circle cx="1403.9" cy="527.5" r="3.3" fill="#CD7818"/><circle cx="1414.8" cy="527.5" r="3.3" fill="#D4CD3A"/><circle cx="1425.7" cy="527.5" r="3.3" fill="#CD7818"/><circle cx="1436.6" cy="527.5" r="3.3" fill="#D4CD3A"/><circle cx="1447.5" cy="527.5" r="3.3" fill="#CD7818"/><circle cx="1458.4" cy="527.5" r="3.3" fill="#D4CD3A"/><circle cx="1469.3" cy="527.5" r="3.3" fill="#CD7818"/><circle cx="1480.2" cy="527.5" r="3.3" fill="#D4CD3A"/><circle cx="1491.1" cy="527.5" r="3.3" fill="#CD7818"/><circle cx="1502" cy="527.5" r="3.3" fill="#D4CD3A"/><circle cx="1512.9" cy="527.5" r="3.3" fill="#CD7818"/><circle cx="1523.8" cy="527.5" r="3.3" fill="#D4CD3A"/><circle cx="1534.7" cy="527.5" r="3.3" fill="#CD7818"/><circle cx="1545.6" cy="527.5" r="3.3" fill="#D4CD3A"/><circle cx="1556.5" cy="527.5" r="3.3" fill="#CD7818"/><circle cx="1567.4" cy="527.5" r="3.3" fill="#D4CD3A"/><circle cx="1578.3" cy="527.5" r="3.3" fill="#CD7818"/><circle cx="1589.2" cy="527.5" r="3.3" fill="#D4CD3A"/><circle cx="1600.1" cy="527.5" r="3.3" fill="#CD7818"/><circle cx="1611" cy="527.5" r="3.3" fill="#D4CD3A"/><circle cx="1621.9" cy="527.5" r="3.3" fill="#CD7818"/><circle cx="1632.8" cy="527.5" r="3.3" fill="#D4CD3A"/><circle cx="1643.7" cy="527.5" r="3.3" fill="#CD7818"/><circle cx="1654.6" cy="527.5" r="3.3" fill="#D4CD3A"/><circle cx="1665.5" cy="527.5" r="3.3" fill="#CD7818"/><circle cx="1676.4" cy="527.5" r="3.3" fill="#D4CD3A"/><circle cx="1687.3" cy="527.5" r="3.3" fill="#CD7818"/><circle cx="1698.2" cy="527.5" r="3.3" fill="#D4CD3A"/><circle cx="1709.1" cy="527.5" r="3.3" fill="#CD7818"/><circle cx="1720" cy="527.5" r="3.3" fill="#D4CD3A"/><rect x="1270" y="471.3" width="440" height="10.6" fill="url(#tp)"/><g transform="translate(1270,464.8)"><rect x="0" y="0" width="440" height="10" fill="url(#hp)"/></g><g transform="translate(1270,478.4)"><rect x="0" y="0" width="440" height="10" fill="url(#hp)"/></g><rect x="1270" y="538.8" width="440" height="10.8" fill="url(#tp)"/><g transform="translate(1270,532.3)"><rect x="0" y="0" width="440" height="10" fill="url(#hp)"/></g><g transform="translate(1270,546.1)"><rect x="0" y="0" width="440" height="10" fill="url(#hp)"/></g><path d="M1293.2,406.6h8" stroke="#555" stroke-width="1.3"/><path d="M1333.9,426.7h8" stroke="#555" stroke-width="1.3"/><path d="M1388.2,407.3h8" stroke="#555" stroke-width="1.3"/><path d="M1438.6,419h8" stroke="#555" stroke-width="1.3"/><path d="M1499.9,411.2h8" stroke="#555" stroke-width="1.3"/><path d="M1562.7,430.6h8" stroke="#555" stroke-width="1.3"/><path d="M1594.9,411.2h8" stroke="#555" stroke-width="1.3"/><path d="M1630.6,440.3h8" stroke="#555" stroke-width="1.3"/><path d="M1671.4,415.9h8" stroke="#555" stroke-width="1.3"/><use href="#vd" transform="translate(1481,203) scale(0.946,0.895)"/><use href="#vd" transform="translate(1612,295.5) scale(0.946,0.895)"/><use href="#vd" transform="translate(1340,331) scale(0.946,0.895)"/></g><ellipse cx="1490.7" cy="363" rx="213.2" ry="225.5" fill="none" stroke="#2a2a2a" stroke-width="1.3"/></g><path d="M1799,256.3L1800,254.8L1801,253.3L1802.2,251.9L1803.4,250.5L1804.6,249.1L1805.9,247.8L1807.3,246.5L1808.7,245.3L1810.1,244.2L1811.6,243L1813.2,242L1814.8,241L1816.5,240L1818.2,239.2L1820,238.3L1821.8,237.5L1823.7,236.8L1825.6,236.2L1827.5,235.6L1829.5,235.1L1831.6,234.6L1833.6,234.2L1835.7,233.9L1837.9,233.6L1840.1,233.4L1842.3,233.2L1844.5,233.1L1846.8,233.1L1849.1,233.2L1851.5,233.3L1853.9,233.5L1856.3,233.7L1858.7,234.1L1861.2,234.4L1863.6,234.9L1866.1,235.4L1868.7,236L1871.2,236.6L1873.8,237.3L1876.4,238L1879,238.9L1881.7,239.7L1884.3,240.7L1887,241.7L1889.7,242.7L1892.4,243.8L1895.2,245L1897.9,246.2L1900.7,247.4L1903.5,248.7L1906.3,250.1L1909.1,251.5L1911.9,252.9L1914.7,254.4L1917.6,255.9L1920.4,257.5L1923.3,259.1L1926.2,260.7L1929.1,262.3L1932,264L1934.9,265.7L1937.8,267.5L1940.8,269.2L1943.7,271L1946.7,272.8L1949.6,274.6L1952.6,276.4L1955.6,278.3L1958.6,280.1L1961.5,282L1964.5,283.9L1967.5,285.7L1970.5,287.6L1973.5,289.5L1976.5,291.4L1979.5,293.2L1982.5,295.1L1985.5,297L1988.5,298.9L1991.5,300.7L1994.5,302.6L1997.5,304.5L2000.4,306.3L2003.4,308.2L2006.3,310.1L2009.2,311.9L2012.1,313.8L2015,315.7L2017.8,317.5L2020.6,319.4L2023.4,321.3L2026.2,323.2L2028.9,325.1L2031.6,326.9L2034.2,328.8L2036.8,330.7L2039.4,332.6L2041.9,334.5L2044.4,336.4L2046.9,338.4L2049.3,340.3L2051.6,342.2L2053.9,344.2L2056.1,346.1L2058.3,348.1L2060.4,350L2062.5,352L2064.5,354L2066.4,356L2068.3,358L2070.1,360L2071.9,362L2073.6,364L2075.2,366.1L2076.8,368.1L2078.2,370.1L2079.7,372.2L2081,374.2L2082.3,376.3L2083.5,378.4L2084.6,380.4L2085.7,382.5L2086.7,384.5L2087.6,386.6L2088.4,388.6L2089.2,390.7L2089.9,392.8L2090.5,394.8L2091,396.8L2091.5,398.9L2091.9,400.9L2092.2,402.9L2092.5,404.9L2092.6,406.9L2092.7,408.9L2092.8,410.8L2092.7,412.8L2092.6,414.7L2092.4,416.6L2092.1,418.5L2091.8,420.3L2091.4,422.1L2090.9,423.9L2090.4,425.7L2089.8,427.5L2089.1,429.2L2088.3,430.9L2087.5,432.5L2086.7,434.1L2085.7,435.7L2084.7,437.2L2083.7,438.7L2082.5,440.2L2081.3,441.6L2080.1,442.9L2078.8,444.2L2077.4,445.5L2076,446.7L2074.6,447.9L2073,449L2071.5,450L2069.8,451L2068.2,452L2066.4,452.9L2064.7,453.7L2062.9,454.5L2061,455.2L2059.1,455.9L2057.1,456.5L2055.1,457L2053.1,457.5L2051,457.9L2048.9,458.2L2046.8,458.5L2044.6,458.7L2042.4,458.8L2040.1,458.9L2037.8,458.9L2035.5,458.9L2033.2,458.8L2030.8,458.6L2028.4,458.3L2026,458L2023.5,457.6L2021,457.2L2018.5,456.7L2016,456.1L2013.4,455.5L2010.8,454.8L2008.2,454L2005.6,453.2L2003,452.3L2000.3,451.4L1997.6,450.4L1994.9,449.4L1992.2,448.3L1989.5,447.1L1986.7,445.9L1984,444.6L1981.2,443.3L1978.4,442L1975.6,440.6L1972.8,439.1L1969.9,437.7L1967.1,436.1L1964.2,434.6L1961.4,433L1958.5,431.4L1955.6,429.7L1952.7,428L1949.8,426.3L1946.8,424.6L1943.9,422.8L1941,421L1938,419.2L1935.1,417.4L1932.1,415.6L1929.1,413.7L1926.1,411.9L1923.2,410L1920.2,408.2L1917.2,406.3L1914.2,404.4L1911.2,402.5L1908.2,400.7L1905.2,398.8L1902.2,396.9L1899.2,395L1896.2,393.1L1893.2,391.3L1890.2,389.4L1887.2,387.5L1884.3,385.6L1881.3,383.8L1878.4,381.9L1875.5,380L1872.6,378.2L1869.8,376.3L1866.9,374.4L1864.1,372.6L1861.3,370.7L1858.6,368.8L1855.8,366.9L1853.2,365L1850.5,363.1L1847.9,361.2L1845.3,359.3L1842.8,357.4L1840.3,355.5L1837.9,353.6L1835.5,351.7L1833.1,349.7L1830.9,347.8L1828.6,345.8L1826.4,343.9L1824.3,341.9L1822.3,339.9L1820.3,337.9L1818.3,335.9L1816.4,333.9L1814.6,331.9L1812.9,329.9L1811.2,327.9L1809.5,325.9L1808,323.8L1806.5,321.8L1805.1,319.7L1803.7,317.7L1802.5,315.6L1801.3,313.6L1800.1,311.5L1799.1,309.5L1798.1,307.4L1797.2,305.4L1796.3,303.3L1795.6,301.2L1794.9,299.2L1794.2,297.1L1793.7,295.1L1793.2,293.1L1792.8,291.1L1792.5,289L1792.3,287L1792.1,285.1L1792,283.1L1792,281.1L1792,279.2L1792.1,277.3L1792.3,275.4L1792.6,273.5L1792.9,271.7L1793.3,269.8L1793.8,268L1794.3,266.3L1795,264.5L1795.6,262.8L1796.4,261.1L1797.2,259.5L1798.1,257.9Z" fill="#FEA318" stroke="#6a4210" stroke-width="1.1"/><path d="M1814.2,257.5L1814.9,256.3L1815.8,255.1L1816.7,254L1817.6,252.9L1818.7,251.9L1819.7,250.9L1820.8,249.9L1822,249L1823.2,248.2L1824.5,247.3L1825.8,246.6L1827.1,245.9L1828.5,245.2L1829.9,244.6L1831.4,244.1L1832.9,243.6L1834.5,243.1L1836.1,242.7L1837.7,242.4L1839.4,242.1L1841.1,241.9L1842.9,241.8L1844.7,241.7L1846.5,241.7L1848.3,241.7L1850.2,241.8L1852.1,241.9L1854.1,242.2L1856,242.4L1858,242.8L1860,243.1L1862.1,243.6L1864.2,244.1L1866.3,244.7L1868.4,245.3L1870.5,246L1872.7,246.7L1874.9,247.5L1877.1,248.3L1879.4,249.2L1881.6,250.2L1883.9,251.2L1886.2,252.2L1888.5,253.3L1890.9,254.5L1893.2,255.6L1895.6,256.9L1898,258.1L1900.4,259.4L1902.9,260.8L1905.3,262.2L1907.8,263.6L1910.3,265L1912.8,266.5L1915.3,268L1917.8,269.5L1920.4,271.1L1922.9,272.7L1925.5,274.3L1928.1,275.9L1930.7,277.5L1933.3,279.2L1936,280.8L1938.6,282.5L1941.3,284.2L1943.9,285.9L1946.6,287.6L1949.3,289.3L1952,291.1L1954.7,292.8L1957.4,294.5L1960.1,296.3L1962.8,298L1965.5,299.8L1968.2,301.5L1970.9,303.3L1973.6,305L1976.3,306.7L1979,308.5L1981.7,310.2L1984.4,312L1987.1,313.7L1989.8,315.4L1992.5,317.1L1995.1,318.9L1997.8,320.6L2000.4,322.3L2003,324L2005.6,325.7L2008.2,327.4L2010.7,329.1L2013.2,330.7L2015.7,332.4L2018.2,334.1L2020.7,335.8L2023.1,337.4L2025.5,339.1L2027.8,340.8L2030.1,342.4L2032.4,344.1L2034.7,345.7L2036.9,347.4L2039,349L2041.1,350.7L2043.2,352.3L2045.2,354L2047.2,355.6L2049.1,357.3L2051,358.9L2052.8,360.6L2054.6,362.2L2056.3,363.8L2058,365.5L2059.6,367.1L2061.1,368.8L2062.6,370.4L2064.1,372.1L2065.4,373.7L2066.7,375.3L2068,377L2069.2,378.6L2070.3,380.2L2071.4,381.8L2072.3,383.5L2073.3,385.1L2074.1,386.7L2074.9,388.3L2075.7,389.9L2076.3,391.4L2076.9,393L2077.5,394.6L2078,396.1L2078.4,397.7L2078.7,399.2L2079,400.7L2079.2,402.2L2079.3,403.6L2079.4,405.1L2079.4,406.5L2079.4,407.9L2079.2,409.3L2079.1,410.7L2078.8,412L2078.5,413.3L2078.2,414.6L2077.7,415.9L2077.3,417.1L2076.7,418.3L2076.1,419.4L2075.4,420.6L2074.7,421.7L2073.9,422.7L2073.1,423.7L2072.2,424.7L2071.3,425.6L2070.3,426.5L2069.3,427.4L2068.2,428.2L2067,428.9L2065.8,429.6L2064.6,430.3L2063.3,430.9L2061.9,431.5L2060.6,432L2059.1,432.5L2057.7,432.9L2056.1,433.2L2054.6,433.6L2053,433.8L2051.3,434L2049.7,434.2L2048,434.3L2046.2,434.3L2044.4,434.3L2042.6,434.2L2040.7,434.1L2038.9,433.9L2036.9,433.7L2035,433.4L2033,433L2031,432.6L2028.9,432.2L2026.9,431.7L2024.8,431.1L2022.6,430.5L2020.5,429.8L2018.3,429.1L2016.1,428.3L2013.9,427.5L2011.6,426.6L2009.3,425.7L2007,424.7L2004.7,423.7L2002.3,422.7L2000,421.6L1997.6,420.4L1995.2,419.3L1992.7,418L1990.3,416.8L1987.8,415.5L1985.3,414.2L1982.8,412.8L1980.3,411.5L1977.8,410L1975.2,408.6L1972.6,407.1L1970,405.7L1967.4,404.1L1964.8,402.6L1962.2,401.1L1959.5,399.5L1956.9,397.9L1954.2,396.3L1951.5,394.7L1948.8,393.1L1946.1,391.5L1943.4,389.8L1940.6,388.2L1937.9,386.5L1935.2,384.9L1932.4,383.2L1929.7,381.5L1926.9,379.9L1924.1,378.2L1921.4,376.5L1918.6,374.9L1915.9,373.2L1913.1,371.5L1910.4,369.9L1907.6,368.2L1904.9,366.5L1902.1,364.9L1899.4,363.2L1896.7,361.6L1894,359.9L1891.3,358.3L1888.6,356.7L1886,355L1883.4,353.4L1880.7,351.8L1878.1,350.2L1875.6,348.5L1873,346.9L1870.5,345.3L1868,343.7L1865.6,342.1L1863.1,340.5L1860.8,338.9L1858.4,337.3L1856.1,335.7L1853.8,334.1L1851.6,332.5L1849.4,330.9L1847.2,329.3L1845.1,327.7L1843.1,326.1L1841.1,324.5L1839.1,322.9L1837.2,321.3L1835.4,319.7L1833.6,318.1L1831.9,316.4L1830.2,314.8L1828.6,313.2L1827,311.6L1825.5,309.9L1824.1,308.3L1822.7,306.6L1821.4,305L1820.2,303.4L1819,301.7L1817.9,300.1L1816.9,298.4L1815.9,296.8L1815,295.1L1814.2,293.5L1813.4,291.8L1812.7,290.2L1812,288.5L1811.5,286.9L1811,285.3L1810.6,283.7L1810.2,282.1L1809.9,280.5L1809.7,278.9L1809.5,277.3L1809.4,275.8L1809.4,274.2L1809.5,272.7L1809.6,271.2L1809.7,269.7L1810,268.2L1810.3,266.8L1810.7,265.4L1811.1,264L1811.6,262.6L1812.1,261.3L1812.8,260L1813.4,258.7Z" fill="#15B92C" stroke="#1f4512" stroke-width="1.1"/><path d="M1821.9,261.1L1822.5,260.1L1823.2,259.1L1824,258.2L1824.8,257.3L1825.7,256.5L1826.6,255.6L1827.6,254.9L1828.6,254.1L1829.7,253.4L1830.8,252.8L1831.9,252.2L1833.1,251.6L1834.4,251.1L1835.7,250.7L1837,250.3L1838.4,249.9L1839.8,249.6L1841.2,249.4L1842.7,249.2L1844.2,249L1845.8,248.9L1847.4,248.9L1849,248.9L1850.7,249L1852.4,249.1L1854.1,249.3L1855.9,249.5L1857.7,249.8L1859.5,250.2L1861.3,250.6L1863.2,251L1865.1,251.5L1867,252.1L1869,252.7L1871,253.3L1873,254L1875,254.8L1877.1,255.6L1879.1,256.5L1881.2,257.4L1883.4,258.3L1885.5,259.3L1887.7,260.3L1889.9,261.4L1892.1,262.5L1894.3,263.7L1896.6,264.9L1898.8,266.1L1901.1,267.4L1903.4,268.7L1905.7,270L1908.1,271.4L1910.4,272.7L1912.8,274.2L1915.2,275.6L1917.6,277.1L1920.1,278.5L1922.5,280.1L1925,281.6L1927.4,283.1L1929.9,284.7L1932.4,286.2L1934.9,287.8L1937.4,289.4L1940,291L1942.5,292.6L1945.1,294.3L1947.6,295.9L1950.2,297.5L1952.8,299.2L1955.3,300.8L1957.9,302.5L1960.5,304.1L1963.1,305.8L1965.7,307.4L1968.3,309.1L1970.9,310.7L1973.4,312.4L1976,314L1978.6,315.7L1981.2,317.3L1983.7,319L1986.3,320.6L1988.8,322.2L1991.4,323.9L1993.9,325.5L1996.4,327.1L1998.9,328.7L2001.4,330.3L2003.8,331.9L2006.3,333.5L2008.7,335.1L2011.1,336.7L2013.5,338.2L2015.8,339.8L2018.1,341.4L2020.4,342.9L2022.7,344.5L2024.9,346L2027.1,347.6L2029.2,349.1L2031.4,350.7L2033.4,352.2L2035.5,353.7L2037.5,355.3L2039.4,356.8L2041.4,358.3L2043.2,359.8L2045,361.3L2046.8,362.8L2048.6,364.3L2050.2,365.8L2051.9,367.3L2053.4,368.8L2055,370.3L2056.4,371.8L2057.8,373.3L2059.2,374.7L2060.5,376.2L2061.8,377.7L2062.9,379.1L2064.1,380.6L2065.2,382L2066.2,383.5L2067.1,384.9L2068,386.3L2068.8,387.7L2069.6,389.1L2070.3,390.5L2071,391.9L2071.6,393.3L2072.1,394.6L2072.6,396L2073,397.3L2073.3,398.6L2073.6,399.9L2073.8,401.1L2074,402.4L2074.1,403.6L2074.1,404.8L2074.1,406L2074,407.2L2073.9,408.3L2073.7,409.4L2073.5,410.5L2073.1,411.5L2072.8,412.6L2072.4,413.6L2071.9,414.5L2071.3,415.5L2070.7,416.3L2070.1,417.2L2069.4,418L2068.6,418.8L2067.8,419.6L2067,420.3L2066.1,420.9L2065.1,421.6L2064.1,422.2L2063.1,422.7L2062,423.2L2060.8,423.7L2059.6,424.1L2058.4,424.4L2057.1,424.8L2055.8,425L2054.4,425.3L2053,425.4L2051.6,425.6L2050.1,425.7L2048.6,425.7L2047,425.7L2045.4,425.6L2043.8,425.5L2042.1,425.3L2040.4,425.1L2038.7,424.8L2036.9,424.5L2035.1,424.2L2033.3,423.8L2031.4,423.3L2029.5,422.8L2027.6,422.2L2025.6,421.6L2023.6,421L2021.6,420.3L2019.6,419.5L2017.5,418.7L2015.4,417.9L2013.3,417L2011.2,416.1L2009,415.1L2006.8,414.2L2004.6,413.1L2002.3,412L2000.1,410.9L1997.8,409.8L1995.5,408.6L1993.2,407.4L1990.8,406.2L1988.5,404.9L1986.1,403.6L1983.7,402.3L1981.3,400.9L1978.9,399.5L1976.4,398.1L1973.9,396.7L1971.5,395.3L1969,393.8L1966.4,392.4L1963.9,390.9L1961.4,389.4L1958.8,387.9L1956.3,386.3L1953.7,384.8L1951.1,383.3L1948.5,381.7L1945.9,380.2L1943.3,378.6L1940.7,377L1938,375.5L1935.4,373.9L1932.8,372.3L1930.1,370.7L1927.5,369.1L1924.9,367.6L1922.2,366L1919.6,364.4L1917,362.8L1914.4,361.3L1911.7,359.7L1909.1,358.1L1906.5,356.6L1903.9,355L1901.3,353.5L1898.8,351.9L1896.2,350.4L1893.7,348.8L1891.2,347.3L1888.7,345.8L1886.2,344.2L1883.7,342.7L1881.3,341.2L1878.9,339.7L1876.5,338.2L1874.1,336.7L1871.8,335.2L1869.5,333.7L1867.3,332.2L1865,330.7L1862.8,329.3L1860.7,327.8L1858.6,326.3L1856.5,324.8L1854.5,323.3L1852.5,321.9L1850.5,320.4L1848.6,318.9L1846.8,317.4L1845,315.9L1843.3,314.5L1841.6,313L1839.9,311.5L1838.3,310L1836.8,308.6L1835.3,307.1L1833.9,305.6L1832.6,304.1L1831.3,302.6L1830,301.2L1828.8,299.7L1827.7,298.2L1826.7,296.7L1825.7,295.3L1824.7,293.8L1823.9,292.3L1823.1,290.9L1822.3,289.4L1821.6,288L1821,286.6L1820.5,285.1L1820,283.7L1819.6,282.3L1819.2,280.9L1818.9,279.5L1818.7,278.1L1818.5,276.8L1818.4,275.4L1818.4,274.1L1818.4,272.8L1818.5,271.5L1818.6,270.3L1818.8,269L1819.1,267.8L1819.4,266.6L1819.8,265.5L1820.2,264.3L1820.7,263.2L1821.2,262.2Z" fill="#008EBD" stroke="#0c2f4a" stroke-width="1.1"/><path d="M1952.3,320.7C1953,321.3 1956,323.1 1956.4,324.4C1956.8,325.7 1955.8,327.3 1954.8,328.6C1953.7,329.8 1951,330.3 1950.2,331.9C1949.5,333.4 1949.5,336.2 1950.2,338.1C1951,339.9 1953.5,342.9 1954.8,343C1956,343.1 1957.4,340.7 1957.6,338.9C1957.8,337.1 1957.3,333.9 1956,332.3C1954.7,330.7 1951.9,329.7 1949.8,329.4C1947.7,329.1 1945.1,329.3 1943.2,330.6C1941.3,331.9 1939.2,334.8 1938.7,337.2C1938.1,339.7 1938.6,343.8 1939.9,345.5C1941.2,347.1 1944,347.4 1946.5,347.1C1949,346.9 1951.7,345.5 1954.8,343.8C1957.8,342.2 1961.4,338.6 1964.7,337.2C1968,335.9 1972,335.2 1974.6,335.6C1977.1,335.9 1979.2,337.5 1979.9,339.3C1980.6,341.1 1979.6,344.2 1978.7,346.3C1977.8,348.4 1976.3,350.2 1974.6,352.1C1972.8,353.9 1970,356.5 1968,357.4C1965.9,358.3 1963.6,358.3 1962.2,357.4C1960.7,356.6 1959.2,354.1 1959.3,352.5C1959.4,350.8 1961,348.7 1962.6,347.5C1964.2,346.4 1966.8,345.3 1968.8,345.5C1970.8,345.7 1973.1,347.3 1974.6,348.8C1976,350.3 1976.5,352.4 1977.4,354.6C1978.4,356.8 1978.9,359.8 1980.3,362C1981.8,364.2 1984,366.9 1986.1,367.8C1988.2,368.6 1990.5,367.8 1992.7,366.9C1994.9,366.1 1997.5,364.5 1999.3,362.8C2001.1,361.2 2003.3,358.5 2003.4,357C2003.6,355.5 2002.2,353.9 2000.1,353.7C1998.1,353.6 1993.3,355 1991.1,356.2C1988.9,357.4 1987.5,358.4 1986.9,361.2C1986.4,363.9 1988.3,369.5 1987.8,372.7C1987.2,375.9 1985.3,379.2 1983.6,380.1C1982,381.1 1979.5,379.7 1977.9,378.5C1976.2,377.2 1974,374.5 1973.7,372.7C1973.5,370.9 1974.8,368.6 1976.2,367.8C1977.6,366.9 1980.6,366.9 1982,367.8C1983.4,368.6 1983.2,370.8 1984.5,372.7C1985.7,374.6 1987.6,377.9 1989.4,379.3C1991.2,380.7 1993.4,381.5 1995.2,381C1997,380.4 1998.8,377.9 2000.1,376C2001.5,374.1 2003.4,371.1 2003.4,369.4C2003.4,367.8 2001.8,366.2 2000.1,366.1C1998.5,366 1995.3,370.5 1993.5,368.6C1991.7,366.7 1990.4,358 1989.4,354.6C1988.4,351.1 1987.5,349.2 1987.8,348C1988,346.7 1990.2,346.6 1991.1,347.1C1991.9,347.7 1990.5,348.5 1992.7,351.3C1994.9,354 2001.4,362 2004.3,363.6C2007.1,365.3 2007.8,362.5 2010,361.2C2012.2,359.8 2015.4,356.1 2017.5,355.8C2019.5,355.5 2021.7,357.2 2022.4,359.5C2023.1,361.8 2023.1,364.7 2021.6,369.4C2020.1,374.1 2015.4,383.2 2013.3,387.6C2011.3,392 2008.5,394.1 2009.2,395.8C2009.9,397.5 2014,397.6 2017.5,397.9C2020.9,398.1 2026.8,398.6 2029.8,397.5C2032.9,396.3 2035.1,393.3 2035.6,390.9C2036.2,388.4 2034.5,384.5 2033.1,382.6C2031.8,380.7 2030,379 2027.4,379.3C2024.7,379.6 2019.4,382.6 2017.5,384.3C2015.5,385.9 2015.3,388.5 2015.8,389.2C2016.4,389.9 2019,390.2 2020.8,388.4C2022.5,386.6 2025.4,381.4 2026.5,378.5C2027.7,375.6 2028,372.8 2027.8,371.1C2027.5,369.3 2025.6,367.9 2024.9,368.2C2024.1,368.4 2023.2,370.7 2023.2,372.7C2023.2,374.7 2026.7,377.1 2024.9,380.1C2023.1,383.2 2015.1,390.2 2012.5,390.9C2009.9,391.5 2009.5,388.1 2009.2,384.3C2008.9,380.4 2011,371.3 2010.9,367.8C2010.7,364.2 2008.8,363.6 2008.4,362.8" fill="none" stroke="#12304a" stroke-width="1.1"/><circle cx="1846" cy="281.7" r="6.8" fill="none" stroke="#1d2b3a" stroke-width="1.1"/><circle cx="1838.7" cy="223.5" r="5.8" fill="none" stroke="#6B8E58" stroke-width="2.3"/><circle cx="1894.4" cy="231" r="5.8" fill="none" stroke="#6B8E58" stroke-width="2.3"/><circle cx="1926.6" cy="242.1" r="5.8" fill="none" stroke="#6B8E58" stroke-width="2.3"/><circle cx="1795.4" cy="250.8" r="5.8" fill="none" stroke="#6B8E58" stroke-width="2.3"/><circle cx="1781" cy="268.8" r="5.8" fill="none" stroke="#6B8E58" stroke-width="2.3"/><circle cx="1792.9" cy="321.3" r="5.8" fill="none" stroke="#6B8E58" stroke-width="2.3"/><circle cx="1976.6" cy="278.7" r="5.8" fill="none" stroke="#6B8E58" stroke-width="2.3"/><circle cx="2008.3" cy="281.7" r="5.8" fill="none" stroke="#6B8E58" stroke-width="2.3"/><circle cx="2032.6" cy="301" r="5.8" fill="none" stroke="#6B8E58" stroke-width="2.3"/><circle cx="2057.4" cy="331.7" r="5.8" fill="none" stroke="#6B8E58" stroke-width="2.3"/><circle cx="2095" cy="373.3" r="5.8" fill="none" stroke="#6B8E58" stroke-width="2.3"/><circle cx="2114.8" cy="404.3" r="5.8" fill="none" stroke="#6B8E58" stroke-width="2.3"/><circle cx="1823.9" cy="355.5" r="5.8" fill="none" stroke="#6B8E58" stroke-width="2.3"/><circle cx="1837" cy="370.8" r="5.8" fill="none" stroke="#6B8E58" stroke-width="2.3"/><circle cx="1853.6" cy="377.8" r="5.8" fill="none" stroke="#6B8E58" stroke-width="2.3"/><circle cx="1880.8" cy="405.5" r="5.8" fill="none" stroke="#6B8E58" stroke-width="2.3"/><circle cx="1900.6" cy="422.3" r="5.8" fill="none" stroke="#6B8E58" stroke-width="2.3"/><circle cx="1946.4" cy="441.4" r="5.8" fill="none" stroke="#6B8E58" stroke-width="2.3"/><circle cx="1962.5" cy="460" r="5.8" fill="none" stroke="#6B8E58" stroke-width="2.3"/><circle cx="1998.4" cy="457.5" r="5.8" fill="none" stroke="#6B8E58" stroke-width="2.3"/><circle cx="2098" cy="454.5" r="5.8" fill="none" stroke="#6B8E58" stroke-width="2.3"/><circle cx="2065.8" cy="473.6" r="5.8" fill="none" stroke="#6B8E58" stroke-width="2.3"/><ellipse cx="1848.6" cy="346" rx="35" ry="37.5" fill="none" stroke="#2a2a2a" stroke-width="1.3"/><path d="M1580,157.3L1868.4,314.4M1600,555L1867.2,378.3" stroke="#2a2a2a" stroke-width="1.3"/><path d="M1721,173.5L1737,154.5L1809,217.7L1776.9,250.7Z" fill="url(#bgn0)" /><path d="M1663.4,86.5L1648.7,100.4L1658.2,109L1659.5,108.2L1692.9,139.8L1700.7,168.4L1710.2,176.6L1714.1,173.2L1722.3,172.7L1731.9,164.9L1736.2,154.5L1735.3,149.3L1741,142L1731,133.7L1705.9,129L1672.5,95.2L1672.5,93.4L1666,86.5Z" fill="#000" /><path d="M2122.3,334.7L2192.8,334.7L2192.8,330.4L2206.6,339.7L2192.8,349L2192.8,344.7L2122.3,344.7Z" fill="#fff" stroke="#474747" stroke-width="1.3" stroke-linejoin="miter"/><g transform="translate(7,545)"><g clip-path="url(#cgn)"><rect x="1270" y="555.5" width="440" height="40" fill="#008EBD"/><path d="M1310,401V468M1374.7,404.6V468M1449.7,400.9V468M1491,401.5V468M1556.3,403V468M1575.7,401.5V468M1653.2,401.5V468" stroke="#E2B67A" stroke-width="0.9"/><circle cx="1310" cy="401" r="3.3" fill="#D4CD3A"/><circle cx="1310" cy="411.6" r="3.3" fill="#CD7818"/><circle cx="1310" cy="422.2" r="3.3" fill="#D4CD3A"/><circle cx="1310" cy="432.8" r="3.3" fill="#CD7818"/><circle cx="1310" cy="443.4" r="3.3" fill="#D4CD3A"/><circle cx="1310" cy="454" r="3.3" fill="#CD7818"/><circle cx="1310" cy="464.6" r="3.3" fill="#D4CD3A"/><circle cx="1374.7" cy="404.6" r="3.3" fill="#D4CD3A"/><circle cx="1374.7" cy="415.2" r="3.3" fill="#CD7818"/><circle cx="1374.7" cy="425.8" r="3.3" fill="#D4CD3A"/><circle cx="1374.7" cy="436.4" r="3.3" fill="#CD7818"/><circle cx="1374.7" cy="447" r="3.3" fill="#D4CD3A"/><circle cx="1374.7" cy="457.6" r="3.3" fill="#CD7818"/><circle cx="1374.7" cy="468.2" r="3.3" fill="#D4CD3A"/><circle cx="1449.7" cy="400.9" r="3.3" fill="#D4CD3A"/><circle cx="1449.7" cy="411.5" r="3.3" fill="#CD7818"/><circle cx="1449.7" cy="422.1" r="3.3" fill="#D4CD3A"/><circle cx="1449.7" cy="432.7" r="3.3" fill="#CD7818"/><circle cx="1449.7" cy="443.3" r="3.3" fill="#D4CD3A"/><circle cx="1449.7" cy="453.9" r="3.3" fill="#CD7818"/><circle cx="1449.7" cy="464.5" r="3.3" fill="#D4CD3A"/><circle cx="1491" cy="401.5" r="3.3" fill="#D4CD3A"/><circle cx="1491" cy="412.1" r="3.3" fill="#CD7818"/><circle cx="1491" cy="422.7" r="3.3" fill="#D4CD3A"/><circle cx="1491" cy="433.3" r="3.3" fill="#CD7818"/><circle cx="1491" cy="443.9" r="3.3" fill="#D4CD3A"/><circle cx="1491" cy="454.5" r="3.3" fill="#CD7818"/><circle cx="1491" cy="465.1" r="3.3" fill="#D4CD3A"/><circle cx="1556.3" cy="403" r="3.3" fill="#D4CD3A"/><circle cx="1556.3" cy="413.6" r="3.3" fill="#CD7818"/><circle cx="1556.3" cy="424.2" r="3.3" fill="#D4CD3A"/><circle cx="1556.3" cy="434.8" r="3.3" fill="#CD7818"/><circle cx="1556.3" cy="445.4" r="3.3" fill="#D4CD3A"/><circle cx="1556.3" cy="456" r="3.3" fill="#CD7818"/><circle cx="1556.3" cy="466.6" r="3.3" fill="#D4CD3A"/><circle cx="1575.7" cy="401.5" r="3.3" fill="#D4CD3A"/><circle cx="1575.7" cy="412.1" r="3.3" fill="#CD7818"/><circle cx="1575.7" cy="422.7" r="3.3" fill="#D4CD3A"/><circle cx="1575.7" cy="433.3" r="3.3" fill="#CD7818"/><circle cx="1575.7" cy="443.9" r="3.3" fill="#D4CD3A"/><circle cx="1575.7" cy="454.5" r="3.3" fill="#CD7818"/><circle cx="1575.7" cy="465.1" r="3.3" fill="#D4CD3A"/><circle cx="1653.2" cy="401.5" r="3.3" fill="#D4CD3A"/><circle cx="1653.2" cy="412.1" r="3.3" fill="#CD7818"/><circle cx="1653.2" cy="422.7" r="3.3" fill="#D4CD3A"/><circle cx="1653.2" cy="433.3" r="3.3" fill="#CD7818"/><circle cx="1653.2" cy="443.9" r="3.3" fill="#D4CD3A"/><circle cx="1653.2" cy="454.5" r="3.3" fill="#CD7818"/><circle cx="1653.2" cy="465.1" r="3.3" fill="#D4CD3A"/><path d="M1270,494H1710M1270,511.2H1710M1270,527.5H1710" stroke="#E9B98F" stroke-width="0.7"/><path d="M1337.5,496L1338.5,500L1336,505L1336.5,510.2M1402.9,496L1403.9,500L1401.4,505L1401.9,510.2M1468.3,496L1469.3,500L1466.8,505L1467.3,510.2M1533.7,496L1534.7,500L1532.2,505L1532.7,510.2M1599.1,496L1600.1,500L1597.6,505L1598.1,510.2M1664.5,496L1665.5,500L1663,505L1663.5,510.2M1294.9,513.2L1295.9,517.2L1293.4,522.2L1293.9,526.5M1360.3,513.2L1361.3,517.2L1358.8,522.2L1359.3,526.5M1425.7,513.2L1426.7,517.2L1424.2,522.2L1424.7,526.5M1491.1,513.2L1492.1,517.2L1489.6,522.2L1490.1,526.5M1556.5,513.2L1557.5,517.2L1555,522.2L1555.5,526.5M1621.9,513.2L1622.9,517.2L1620.4,522.2L1620.9,526.5M1687.3,513.2L1688.3,517.2L1685.8,522.2L1686.3,526.5" stroke="#B88CC4" stroke-width="1.9" fill="none"/><circle cx="1282" cy="494" r="3.3" fill="#D4CD3A"/><circle cx="1292.9" cy="494" r="3.3" fill="#CD7818"/><circle cx="1303.8" cy="494" r="3.3" fill="#D4CD3A"/><circle cx="1314.7" cy="494" r="3.3" fill="#CD7818"/><circle cx="1325.6" cy="494" r="3.3" fill="#D4CD3A"/><circle cx="1336.5" cy="494" r="3.3" fill="#CD7818"/><circle cx="1347.4" cy="494" r="3.3" fill="#D4CD3A"/><circle cx="1358.3" cy="494" r="3.3" fill="#CD7818"/><circle cx="1369.2" cy="494" r="3.3" fill="#D4CD3A"/><circle cx="1380.1" cy="494" r="3.3" fill="#CD7818"/><circle cx="1391" cy="494" r="3.3" fill="#D4CD3A"/><circle cx="1401.9" cy="494" r="3.3" fill="#CD7818"/><circle cx="1412.8" cy="494" r="3.3" fill="#D4CD3A"/><circle cx="1423.7" cy="494" r="3.3" fill="#CD7818"/><circle cx="1434.6" cy="494" r="3.3" fill="#D4CD3A"/><circle cx="1445.5" cy="494" r="3.3" fill="#CD7818"/><circle cx="1456.4" cy="494" r="3.3" fill="#D4CD3A"/><circle cx="1467.3" cy="494" r="3.3" fill="#CD7818"/><circle cx="1478.2" cy="494" r="3.3" fill="#D4CD3A"/><circle cx="1489.1" cy="494" r="3.3" fill="#CD7818"/><circle cx="1500" cy="494" r="3.3" fill="#D4CD3A"/><circle cx="1510.9" cy="494" r="3.3" fill="#CD7818"/><circle cx="1521.8" cy="494" r="3.3" fill="#D4CD3A"/><circle cx="1532.7" cy="494" r="3.3" fill="#CD7818"/><circle cx="1543.6" cy="494" r="3.3" fill="#D4CD3A"/><circle cx="1554.5" cy="494" r="3.3" fill="#CD7818"/><circle cx="1565.4" cy="494" r="3.3" fill="#D4CD3A"/><circle cx="1576.3" cy="494" r="3.3" fill="#CD7818"/><circle cx="1587.2" cy="494" r="3.3" fill="#D4CD3A"/><circle cx="1598.1" cy="494" r="3.3" fill="#CD7818"/><circle cx="1609" cy="494" r="3.3" fill="#D4CD3A"/><circle cx="1619.9" cy="494" r="3.3" fill="#CD7818"/><circle cx="1630.8" cy="494" r="3.3" fill="#D4CD3A"/><circle cx="1641.7" cy="494" r="3.3" fill="#CD7818"/><circle cx="1652.6" cy="494" r="3.3" fill="#D4CD3A"/><circle cx="1663.5" cy="494" r="3.3" fill="#CD7818"/><circle cx="1674.4" cy="494" r="3.3" fill="#D4CD3A"/><circle cx="1685.3" cy="494" r="3.3" fill="#CD7818"/><circle cx="1696.2" cy="494" r="3.3" fill="#D4CD3A"/><circle cx="1707.1" cy="494" r="3.3" fill="#CD7818"/><circle cx="1718" cy="494" r="3.3" fill="#D4CD3A"/><circle cx="1283" cy="511.2" r="3.3" fill="#D4CD3A"/><circle cx="1293.9" cy="511.2" r="3.3" fill="#CD7818"/><circle cx="1304.8" cy="511.2" r="3.3" fill="#D4CD3A"/><circle cx="1315.7" cy="511.2" r="3.3" fill="#CD7818"/><circle cx="1326.6" cy="511.2" r="3.3" fill="#D4CD3A"/><circle cx="1337.5" cy="511.2" r="3.3" fill="#CD7818"/><circle cx="1348.4" cy="511.2" r="3.3" fill="#D4CD3A"/><circle cx="1359.3" cy="511.2" r="3.3" fill="#CD7818"/><circle cx="1370.2" cy="511.2" r="3.3" fill="#D4CD3A"/><circle cx="1381.1" cy="511.2" r="3.3" fill="#CD7818"/><circle cx="1392" cy="511.2" r="3.3" fill="#D4CD3A"/><circle cx="1402.9" cy="511.2" r="3.3" fill="#CD7818"/><circle cx="1413.8" cy="511.2" r="3.3" fill="#D4CD3A"/><circle cx="1424.7" cy="511.2" r="3.3" fill="#CD7818"/><circle cx="1435.6" cy="511.2" r="3.3" fill="#D4CD3A"/><circle cx="1446.5" cy="511.2" r="3.3" fill="#CD7818"/><circle cx="1457.4" cy="511.2" r="3.3" fill="#D4CD3A"/><circle cx="1468.3" cy="511.2" r="3.3" fill="#CD7818"/><circle cx="1479.2" cy="511.2" r="3.3" fill="#D4CD3A"/><circle cx="1490.1" cy="511.2" r="3.3" fill="#CD7818"/><circle cx="1501" cy="511.2" r="3.3" fill="#D4CD3A"/><circle cx="1511.9" cy="511.2" r="3.3" fill="#CD7818"/><circle cx="1522.8" cy="511.2" r="3.3" fill="#D4CD3A"/><circle cx="1533.7" cy="511.2" r="3.3" fill="#CD7818"/><circle cx="1544.6" cy="511.2" r="3.3" fill="#D4CD3A"/><circle cx="1555.5" cy="511.2" r="3.3" fill="#CD7818"/><circle cx="1566.4" cy="511.2" r="3.3" fill="#D4CD3A"/><circle cx="1577.3" cy="511.2" r="3.3" fill="#CD7818"/><circle cx="1588.2" cy="511.2" r="3.3" fill="#D4CD3A"/><circle cx="1599.1" cy="511.2" r="3.3" fill="#CD7818"/><circle cx="1610" cy="511.2" r="3.3" fill="#D4CD3A"/><circle cx="1620.9" cy="511.2" r="3.3" fill="#CD7818"/><circle cx="1631.8" cy="511.2" r="3.3" fill="#D4CD3A"/><circle cx="1642.7" cy="511.2" r="3.3" fill="#CD7818"/><circle cx="1653.6" cy="511.2" r="3.3" fill="#D4CD3A"/><circle cx="1664.5" cy="511.2" r="3.3" fill="#CD7818"/><circle cx="1675.4" cy="511.2" r="3.3" fill="#D4CD3A"/><circle cx="1686.3" cy="511.2" r="3.3" fill="#CD7818"/><circle cx="1697.2" cy="511.2" r="3.3" fill="#D4CD3A"/><circle cx="1708.1" cy="511.2" r="3.3" fill="#CD7818"/><circle cx="1719" cy="511.2" r="3.3" fill="#D4CD3A"/><circle cx="1284" cy="527.5" r="3.3" fill="#D4CD3A"/><circle cx="1294.9" cy="527.5" r="3.3" fill="#CD7818"/><circle cx="1305.8" cy="527.5" r="3.3" fill="#D4CD3A"/><circle cx="1316.7" cy="527.5" r="3.3" fill="#CD7818"/><circle cx="1327.6" cy="527.5" r="3.3" fill="#D4CD3A"/><circle cx="1338.5" cy="527.5" r="3.3" fill="#CD7818"/><circle cx="1349.4" cy="527.5" r="3.3" fill="#D4CD3A"/><circle cx="1360.3" cy="527.5" r="3.3" fill="#CD7818"/><circle cx="1371.2" cy="527.5" r="3.3" fill="#D4CD3A"/><circle cx="1382.1" cy="527.5" r="3.3" fill="#CD7818"/><circle cx="1393" cy="527.5" r="3.3" fill="#D4CD3A"/><circle cx="1403.9" cy="527.5" r="3.3" fill="#CD7818"/><circle cx="1414.8" cy="527.5" r="3.3" fill="#D4CD3A"/><circle cx="1425.7" cy="527.5" r="3.3" fill="#CD7818"/><circle cx="1436.6" cy="527.5" r="3.3" fill="#D4CD3A"/><circle cx="1447.5" cy="527.5" r="3.3" fill="#CD7818"/><circle cx="1458.4" cy="527.5" r="3.3" fill="#D4CD3A"/><circle cx="1469.3" cy="527.5" r="3.3" fill="#CD7818"/><circle cx="1480.2" cy="527.5" r="3.3" fill="#D4CD3A"/><circle cx="1491.1" cy="527.5" r="3.3" fill="#CD7818"/><circle cx="1502" cy="527.5" r="3.3" fill="#D4CD3A"/><circle cx="1512.9" cy="527.5" r="3.3" fill="#CD7818"/><circle cx="1523.8" cy="527.5" r="3.3" fill="#D4CD3A"/><circle cx="1534.7" cy="527.5" r="3.3" fill="#CD7818"/><circle cx="1545.6" cy="527.5" r="3.3" fill="#D4CD3A"/><circle cx="1556.5" cy="527.5" r="3.3" fill="#CD7818"/><circle cx="1567.4" cy="527.5" r="3.3" fill="#D4CD3A"/><circle cx="1578.3" cy="527.5" r="3.3" fill="#CD7818"/><circle cx="1589.2" cy="527.5" r="3.3" fill="#D4CD3A"/><circle cx="1600.1" cy="527.5" r="3.3" fill="#CD7818"/><circle cx="1611" cy="527.5" r="3.3" fill="#D4CD3A"/><circle cx="1621.9" cy="527.5" r="3.3" fill="#CD7818"/><circle cx="1632.8" cy="527.5" r="3.3" fill="#D4CD3A"/><circle cx="1643.7" cy="527.5" r="3.3" fill="#CD7818"/><circle cx="1654.6" cy="527.5" r="3.3" fill="#D4CD3A"/><circle cx="1665.5" cy="527.5" r="3.3" fill="#CD7818"/><circle cx="1676.4" cy="527.5" r="3.3" fill="#D4CD3A"/><circle cx="1687.3" cy="527.5" r="3.3" fill="#CD7818"/><circle cx="1698.2" cy="527.5" r="3.3" fill="#D4CD3A"/><circle cx="1709.1" cy="527.5" r="3.3" fill="#CD7818"/><circle cx="1720" cy="527.5" r="3.3" fill="#D4CD3A"/><rect x="1270" y="471.3" width="440" height="10.6" fill="url(#tp)"/><g transform="translate(1270,464.8)"><rect x="0" y="0" width="440" height="10" fill="url(#hp)"/></g><g transform="translate(1270,478.4)"><rect x="0" y="0" width="440" height="10" fill="url(#hp)"/></g><rect x="1270" y="538.8" width="440" height="10.8" fill="url(#tp)"/><g transform="translate(1270,532.3)"><rect x="0" y="0" width="440" height="10" fill="url(#hp)"/></g><g transform="translate(1270,546.1)"><rect x="0" y="0" width="440" height="10" fill="url(#hp)"/></g><path d="M1293.2,406.6h8" stroke="#555" stroke-width="1.3"/><path d="M1333.9,426.7h8" stroke="#555" stroke-width="1.3"/><path d="M1388.2,407.3h8" stroke="#555" stroke-width="1.3"/><path d="M1438.6,419h8" stroke="#555" stroke-width="1.3"/><path d="M1499.9,411.2h8" stroke="#555" stroke-width="1.3"/><path d="M1562.7,430.6h8" stroke="#555" stroke-width="1.3"/><path d="M1594.9,411.2h8" stroke="#555" stroke-width="1.3"/><path d="M1630.6,440.3h8" stroke="#555" stroke-width="1.3"/><path d="M1671.4,415.9h8" stroke="#555" stroke-width="1.3"/><use href="#vc" transform="translate(1481,204) scale(0.98,0.912)"/><use href="#vc" transform="translate(1611.5,296) scale(0.98,0.912)"/><use href="#vc" transform="translate(1339,331) scale(0.98,0.912)"/><path d="M1545.3,178.5h8M1549.3,174.5v8" stroke="#444" stroke-width="1.2"/><path d="M1413,218.9h8M1417,214.9v8" stroke="#444" stroke-width="1.2"/><path d="M1643,237.5h8M1647,233.5v8" stroke="#444" stroke-width="1.2"/><path d="M1306.7,272.8h8M1310.7,268.8v8" stroke="#444" stroke-width="1.2"/><path d="M1520.8,271.6h8M1524.8,267.6v8" stroke="#444" stroke-width="1.2"/><path d="M1388.2,290.2h8M1392.2,286.2v8" stroke="#444" stroke-width="1.2"/><path d="M1670.2,334.5h8M1674.2,330.5v8" stroke="#444" stroke-width="1.2"/><path d="M1395.5,362.4h8M1399.5,358.4v8" stroke="#444" stroke-width="1.2"/><path d="M1584,360.8h8M1588,356.8v8" stroke="#444" stroke-width="1.2"/></g><ellipse cx="1490.7" cy="363" rx="213.2" ry="225.5" fill="none" stroke="#2a2a2a" stroke-width="1.3"/></g><path d="M1806,801.3L1807,799.8L1808,798.3L1809.2,796.9L1810.4,795.5L1811.6,794.1L1812.9,792.8L1814.3,791.5L1815.7,790.3L1817.1,789.2L1818.6,788L1820.2,787L1821.8,786L1823.5,785L1825.2,784.2L1827,783.3L1828.8,782.5L1830.7,781.8L1832.6,781.2L1834.5,780.6L1836.5,780.1L1838.6,779.6L1840.6,779.2L1842.7,778.9L1844.9,778.6L1847.1,778.4L1849.3,778.2L1851.5,778.1L1853.8,778.1L1856.1,778.2L1858.5,778.3L1860.9,778.5L1863.3,778.7L1865.7,779.1L1868.2,779.4L1870.6,779.9L1873.1,780.4L1875.7,781L1878.2,781.6L1880.8,782.3L1883.4,783L1886,783.9L1888.7,784.7L1891.3,785.7L1894,786.7L1896.7,787.7L1899.4,788.8L1902.2,790L1904.9,791.2L1907.7,792.4L1910.5,793.7L1913.3,795.1L1916.1,796.5L1918.9,797.9L1921.7,799.4L1924.6,800.9L1927.4,802.5L1930.3,804.1L1933.2,805.7L1936.1,807.3L1939,809L1941.9,810.7L1944.8,812.5L1947.8,814.2L1950.7,816L1953.7,817.8L1956.6,819.6L1959.6,821.4L1962.6,823.3L1965.6,825.1L1968.5,827L1971.5,828.9L1974.5,830.7L1977.5,832.6L1980.5,834.5L1983.5,836.4L1986.5,838.2L1989.5,840.1L1992.5,842L1995.5,843.9L1998.5,845.7L2001.5,847.6L2004.5,849.5L2007.4,851.3L2010.4,853.2L2013.3,855.1L2016.2,856.9L2019.1,858.8L2022,860.7L2024.8,862.5L2027.6,864.4L2030.4,866.3L2033.2,868.2L2035.9,870.1L2038.6,871.9L2041.2,873.8L2043.8,875.7L2046.4,877.6L2048.9,879.5L2051.4,881.4L2053.9,883.4L2056.3,885.3L2058.6,887.2L2060.9,889.2L2063.1,891.1L2065.3,893.1L2067.4,895L2069.5,897L2071.5,899L2073.4,901L2075.3,903L2077.1,905L2078.9,907L2080.6,909L2082.2,911.1L2083.8,913.1L2085.2,915.1L2086.7,917.2L2088,919.2L2089.3,921.3L2090.5,923.4L2091.6,925.4L2092.7,927.5L2093.7,929.5L2094.6,931.6L2095.4,933.6L2096.2,935.7L2096.9,937.8L2097.5,939.8L2098,941.8L2098.5,943.9L2098.9,945.9L2099.2,947.9L2099.5,949.9L2099.6,951.9L2099.7,953.9L2099.8,955.8L2099.7,957.8L2099.6,959.7L2099.4,961.6L2099.1,963.5L2098.8,965.3L2098.4,967.1L2097.9,968.9L2097.4,970.7L2096.8,972.5L2096.1,974.2L2095.3,975.9L2094.5,977.5L2093.7,979.1L2092.7,980.7L2091.7,982.2L2090.7,983.7L2089.5,985.2L2088.3,986.6L2087.1,987.9L2085.8,989.2L2084.4,990.5L2083,991.7L2081.6,992.9L2080,994L2078.5,995L2076.8,996L2075.2,997L2073.4,997.9L2071.7,998.7L2069.9,999.5L2068,1000.2L2066.1,1000.9L2064.1,1001.5L2062.1,1002L2060.1,1002.5L2058,1002.9L2055.9,1003.2L2053.8,1003.5L2051.6,1003.7L2049.4,1003.8L2047.1,1003.9L2044.8,1003.9L2042.5,1003.9L2040.2,1003.8L2037.8,1003.6L2035.4,1003.3L2033,1003L2030.5,1002.6L2028,1002.2L2025.5,1001.7L2023,1001.1L2020.4,1000.5L2017.8,999.8L2015.2,999L2012.6,998.2L2010,997.3L2007.3,996.4L2004.6,995.4L2001.9,994.4L1999.2,993.3L1996.5,992.1L1993.7,990.9L1991,989.6L1988.2,988.3L1985.4,987L1982.6,985.6L1979.8,984.1L1976.9,982.7L1974.1,981.1L1971.2,979.6L1968.4,978L1965.5,976.4L1962.6,974.7L1959.7,973L1956.8,971.3L1953.8,969.6L1950.9,967.8L1948,966L1945,964.2L1942.1,962.4L1939.1,960.6L1936.1,958.7L1933.1,956.9L1930.2,955L1927.2,953.2L1924.2,951.3L1921.2,949.4L1918.2,947.5L1915.2,945.7L1912.2,943.8L1909.2,941.9L1906.2,940L1903.2,938.1L1900.2,936.3L1897.2,934.4L1894.2,932.5L1891.3,930.6L1888.3,928.8L1885.4,926.9L1882.5,925L1879.6,923.2L1876.8,921.3L1873.9,919.4L1871.1,917.6L1868.3,915.7L1865.6,913.8L1862.8,911.9L1860.2,910L1857.5,908.1L1854.9,906.2L1852.3,904.3L1849.8,902.4L1847.3,900.5L1844.9,898.6L1842.5,896.7L1840.1,894.7L1837.9,892.8L1835.6,890.8L1833.4,888.9L1831.3,886.9L1829.3,884.9L1827.3,882.9L1825.3,880.9L1823.4,878.9L1821.6,876.9L1819.9,874.9L1818.2,872.9L1816.5,870.9L1815,868.8L1813.5,866.8L1812.1,864.7L1810.7,862.7L1809.5,860.6L1808.3,858.6L1807.1,856.5L1806.1,854.5L1805.1,852.4L1804.2,850.4L1803.3,848.3L1802.6,846.2L1801.9,844.2L1801.2,842.1L1800.7,840.1L1800.2,838.1L1799.8,836.1L1799.5,834L1799.3,832L1799.1,830.1L1799,828.1L1799,826.1L1799,824.2L1799.1,822.3L1799.3,820.4L1799.6,818.5L1799.9,816.7L1800.3,814.8L1800.8,813L1801.3,811.3L1802,809.5L1802.6,807.8L1803.4,806.1L1804.2,804.5L1805.1,802.9Z" fill="#FEA318" stroke="#6a4210" stroke-width="1.1"/><path d="M1821.2,802.5L1821.9,801.3L1822.8,800.1L1823.7,799L1824.6,797.9L1825.7,796.9L1826.7,795.9L1827.8,794.9L1829,794L1830.2,793.2L1831.5,792.3L1832.8,791.6L1834.1,790.9L1835.5,790.2L1836.9,789.6L1838.4,789.1L1839.9,788.6L1841.5,788.1L1843.1,787.7L1844.7,787.4L1846.4,787.1L1848.1,786.9L1849.9,786.8L1851.7,786.7L1853.5,786.7L1855.3,786.7L1857.2,786.8L1859.1,786.9L1861.1,787.2L1863,787.4L1865,787.8L1867,788.1L1869.1,788.6L1871.2,789.1L1873.3,789.7L1875.4,790.3L1877.5,791L1879.7,791.7L1881.9,792.5L1884.1,793.3L1886.4,794.2L1888.6,795.2L1890.9,796.2L1893.2,797.2L1895.5,798.3L1897.9,799.5L1900.2,800.6L1902.6,801.9L1905,803.1L1907.4,804.4L1909.9,805.8L1912.3,807.2L1914.8,808.6L1917.3,810L1919.8,811.5L1922.3,813L1924.8,814.5L1927.4,816.1L1929.9,817.7L1932.5,819.3L1935.1,820.9L1937.7,822.5L1940.3,824.2L1943,825.8L1945.6,827.5L1948.3,829.2L1950.9,830.9L1953.6,832.6L1956.3,834.3L1959,836.1L1961.7,837.8L1964.4,839.5L1967.1,841.3L1969.8,843L1972.5,844.8L1975.2,846.5L1977.9,848.3L1980.6,850L1983.3,851.7L1986,853.5L1988.7,855.2L1991.4,857L1994.1,858.7L1996.8,860.4L1999.5,862.1L2002.1,863.9L2004.8,865.6L2007.4,867.3L2010,869L2012.6,870.7L2015.2,872.4L2017.7,874.1L2020.2,875.7L2022.7,877.4L2025.2,879.1L2027.7,880.8L2030.1,882.4L2032.5,884.1L2034.8,885.8L2037.1,887.4L2039.4,889.1L2041.7,890.7L2043.9,892.4L2046,894L2048.1,895.7L2050.2,897.3L2052.2,899L2054.2,900.6L2056.1,902.3L2058,903.9L2059.8,905.6L2061.6,907.2L2063.3,908.8L2065,910.5L2066.6,912.1L2068.1,913.8L2069.6,915.4L2071.1,917.1L2072.4,918.7L2073.7,920.3L2075,922L2076.2,923.6L2077.3,925.2L2078.4,926.8L2079.3,928.5L2080.3,930.1L2081.1,931.7L2081.9,933.3L2082.7,934.9L2083.3,936.4L2083.9,938L2084.5,939.6L2085,941.1L2085.4,942.7L2085.7,944.2L2086,945.7L2086.2,947.2L2086.3,948.6L2086.4,950.1L2086.4,951.5L2086.4,952.9L2086.2,954.3L2086.1,955.7L2085.8,957L2085.5,958.3L2085.2,959.6L2084.7,960.9L2084.3,962.1L2083.7,963.3L2083.1,964.4L2082.4,965.6L2081.7,966.7L2080.9,967.7L2080.1,968.7L2079.2,969.7L2078.3,970.6L2077.3,971.5L2076.3,972.4L2075.2,973.2L2074,973.9L2072.8,974.6L2071.6,975.3L2070.3,975.9L2068.9,976.5L2067.6,977L2066.1,977.5L2064.7,977.9L2063.1,978.2L2061.6,978.6L2060,978.8L2058.3,979L2056.7,979.2L2055,979.3L2053.2,979.3L2051.4,979.3L2049.6,979.2L2047.7,979.1L2045.9,978.9L2043.9,978.7L2042,978.4L2040,978L2038,977.6L2035.9,977.2L2033.9,976.7L2031.8,976.1L2029.6,975.5L2027.5,974.8L2025.3,974.1L2023.1,973.3L2020.9,972.5L2018.6,971.6L2016.3,970.7L2014,969.7L2011.7,968.7L2009.3,967.7L2007,966.6L2004.6,965.4L2002.2,964.3L1999.7,963L1997.3,961.8L1994.8,960.5L1992.3,959.2L1989.8,957.8L1987.3,956.5L1984.8,955L1982.2,953.6L1979.6,952.1L1977,950.7L1974.4,949.1L1971.8,947.6L1969.2,946.1L1966.5,944.5L1963.9,942.9L1961.2,941.3L1958.5,939.7L1955.8,938.1L1953.1,936.5L1950.4,934.8L1947.6,933.2L1944.9,931.5L1942.2,929.9L1939.4,928.2L1936.7,926.5L1933.9,924.9L1931.1,923.2L1928.4,921.5L1925.6,919.9L1922.9,918.2L1920.1,916.5L1917.4,914.9L1914.6,913.2L1911.9,911.5L1909.1,909.9L1906.4,908.2L1903.7,906.6L1901,904.9L1898.3,903.3L1895.6,901.7L1893,900L1890.4,898.4L1887.7,896.8L1885.1,895.2L1882.6,893.5L1880,891.9L1877.5,890.3L1875,888.7L1872.6,887.1L1870.1,885.5L1867.8,883.9L1865.4,882.3L1863.1,880.7L1860.8,879.1L1858.6,877.5L1856.4,875.9L1854.2,874.3L1852.1,872.7L1850.1,871.1L1848.1,869.5L1846.1,867.9L1844.2,866.3L1842.4,864.7L1840.6,863.1L1838.9,861.4L1837.2,859.8L1835.6,858.2L1834,856.6L1832.5,854.9L1831.1,853.3L1829.7,851.6L1828.4,850L1827.2,848.4L1826,846.7L1824.9,845.1L1823.9,843.4L1822.9,841.8L1822,840.1L1821.2,838.5L1820.4,836.8L1819.7,835.2L1819,833.5L1818.5,831.9L1818,830.3L1817.6,828.7L1817.2,827.1L1816.9,825.5L1816.7,823.9L1816.5,822.3L1816.4,820.8L1816.4,819.2L1816.5,817.7L1816.6,816.2L1816.7,814.7L1817,813.2L1817.3,811.8L1817.7,810.4L1818.1,809L1818.6,807.6L1819.1,806.3L1819.8,805L1820.4,803.7Z" fill="#15B92C" stroke="#1f4512" stroke-width="1.1"/><path d="M1828.9,806.1L1829.5,805.1L1830.2,804.1L1831,803.2L1831.8,802.3L1832.7,801.5L1833.6,800.6L1834.6,799.9L1835.6,799.1L1836.7,798.4L1837.8,797.8L1838.9,797.2L1840.1,796.6L1841.4,796.1L1842.7,795.7L1844,795.3L1845.4,794.9L1846.8,794.6L1848.2,794.4L1849.7,794.2L1851.2,794L1852.8,793.9L1854.4,793.9L1856,793.9L1857.7,794L1859.4,794.1L1861.1,794.3L1862.9,794.5L1864.7,794.8L1866.5,795.2L1868.3,795.6L1870.2,796L1872.1,796.5L1874,797.1L1876,797.7L1878,798.3L1880,799L1882,799.8L1884.1,800.6L1886.1,801.5L1888.2,802.4L1890.4,803.3L1892.5,804.3L1894.7,805.3L1896.9,806.4L1899.1,807.5L1901.3,808.7L1903.6,809.9L1905.8,811.1L1908.1,812.4L1910.4,813.7L1912.7,815L1915.1,816.4L1917.4,817.7L1919.8,819.2L1922.2,820.6L1924.6,822.1L1927.1,823.5L1929.5,825.1L1932,826.6L1934.4,828.1L1936.9,829.7L1939.4,831.2L1941.9,832.8L1944.4,834.4L1947,836L1949.5,837.6L1952.1,839.3L1954.6,840.9L1957.2,842.5L1959.8,844.2L1962.3,845.8L1964.9,847.5L1967.5,849.1L1970.1,850.8L1972.7,852.4L1975.3,854.1L1977.9,855.7L1980.4,857.4L1983,859L1985.6,860.7L1988.2,862.3L1990.7,864L1993.3,865.6L1995.8,867.2L1998.4,868.9L2000.9,870.5L2003.4,872.1L2005.9,873.7L2008.4,875.3L2010.8,876.9L2013.3,878.5L2015.7,880.1L2018.1,881.7L2020.5,883.2L2022.8,884.8L2025.1,886.4L2027.4,887.9L2029.7,889.5L2031.9,891L2034.1,892.6L2036.2,894.1L2038.4,895.7L2040.4,897.2L2042.5,898.7L2044.5,900.3L2046.4,901.8L2048.4,903.3L2050.2,904.8L2052,906.3L2053.8,907.8L2055.6,909.3L2057.2,910.8L2058.9,912.3L2060.4,913.8L2062,915.3L2063.4,916.8L2064.8,918.3L2066.2,919.7L2067.5,921.2L2068.8,922.7L2069.9,924.1L2071.1,925.6L2072.2,927L2073.2,928.5L2074.1,929.9L2075,931.3L2075.8,932.7L2076.6,934.1L2077.3,935.5L2078,936.9L2078.6,938.3L2079.1,939.6L2079.6,941L2080,942.3L2080.3,943.6L2080.6,944.9L2080.8,946.1L2081,947.4L2081.1,948.6L2081.1,949.8L2081.1,951L2081,952.2L2080.9,953.3L2080.7,954.4L2080.5,955.5L2080.1,956.5L2079.8,957.6L2079.4,958.6L2078.9,959.5L2078.3,960.5L2077.7,961.3L2077.1,962.2L2076.4,963L2075.6,963.8L2074.8,964.6L2074,965.3L2073.1,965.9L2072.1,966.6L2071.1,967.2L2070.1,967.7L2069,968.2L2067.8,968.7L2066.6,969.1L2065.4,969.4L2064.1,969.8L2062.8,970L2061.4,970.3L2060,970.4L2058.6,970.6L2057.1,970.7L2055.6,970.7L2054,970.7L2052.4,970.6L2050.8,970.5L2049.1,970.3L2047.4,970.1L2045.7,969.8L2043.9,969.5L2042.1,969.2L2040.3,968.8L2038.4,968.3L2036.5,967.8L2034.6,967.2L2032.6,966.6L2030.6,966L2028.6,965.3L2026.6,964.5L2024.5,963.7L2022.4,962.9L2020.3,962L2018.2,961.1L2016,960.1L2013.8,959.2L2011.6,958.1L2009.3,957L2007.1,955.9L2004.8,954.8L2002.5,953.6L2000.2,952.4L1997.8,951.2L1995.5,949.9L1993.1,948.6L1990.7,947.3L1988.3,945.9L1985.9,944.5L1983.4,943.1L1980.9,941.7L1978.5,940.3L1976,938.8L1973.4,937.4L1970.9,935.9L1968.4,934.4L1965.8,932.9L1963.3,931.3L1960.7,929.8L1958.1,928.3L1955.5,926.7L1952.9,925.2L1950.3,923.6L1947.7,922L1945,920.5L1942.4,918.9L1939.8,917.3L1937.1,915.7L1934.5,914.1L1931.9,912.6L1929.2,911L1926.6,909.4L1924,907.8L1921.4,906.3L1918.7,904.7L1916.1,903.1L1913.5,901.6L1910.9,900L1908.3,898.5L1905.8,896.9L1903.2,895.4L1900.7,893.8L1898.2,892.3L1895.7,890.8L1893.2,889.2L1890.7,887.7L1888.3,886.2L1885.9,884.7L1883.5,883.2L1881.1,881.7L1878.8,880.2L1876.5,878.7L1874.3,877.2L1872,875.7L1869.8,874.3L1867.7,872.8L1865.6,871.3L1863.5,869.8L1861.5,868.3L1859.5,866.9L1857.5,865.4L1855.6,863.9L1853.8,862.4L1852,860.9L1850.3,859.5L1848.6,858L1846.9,856.5L1845.3,855L1843.8,853.6L1842.3,852.1L1840.9,850.6L1839.6,849.1L1838.3,847.6L1837,846.2L1835.8,844.7L1834.7,843.2L1833.7,841.7L1832.7,840.3L1831.7,838.8L1830.9,837.3L1830.1,835.9L1829.3,834.4L1828.6,833L1828,831.6L1827.5,830.1L1827,828.7L1826.6,827.3L1826.2,825.9L1825.9,824.5L1825.7,823.1L1825.5,821.8L1825.4,820.4L1825.4,819.1L1825.4,817.8L1825.5,816.5L1825.6,815.3L1825.8,814L1826.1,812.8L1826.4,811.6L1826.8,810.5L1827.2,809.3L1827.7,808.2L1828.2,807.2Z" fill="#008EBD" stroke="#0c2f4a" stroke-width="1.1"/><path d="M1959.3,865.7C1960,866.3 1963,868.1 1963.4,869.4C1963.8,870.7 1962.8,872.3 1961.8,873.6C1960.7,874.8 1958,875.3 1957.2,876.9C1956.5,878.4 1956.5,881.2 1957.2,883.1C1958,884.9 1960.5,887.9 1961.8,888C1963,888.1 1964.4,885.7 1964.6,883.9C1964.8,882.1 1964.3,878.9 1963,877.3C1961.7,875.7 1958.9,874.7 1956.8,874.4C1954.7,874.1 1952.1,874.3 1950.2,875.6C1948.3,876.9 1946.2,879.8 1945.7,882.2C1945.1,884.7 1945.6,888.8 1946.9,890.5C1948.2,892.1 1951,892.4 1953.5,892.1C1956,891.9 1958.7,890.5 1961.8,888.8C1964.8,887.2 1968.4,883.6 1971.7,882.2C1975,880.9 1979,880.2 1981.6,880.6C1984.1,880.9 1986.2,882.5 1986.9,884.3C1987.6,886.1 1986.6,889.2 1985.7,891.3C1984.8,893.4 1983.3,895.2 1981.6,897.1C1979.8,898.9 1977,901.5 1975,902.4C1972.9,903.3 1970.6,903.3 1969.2,902.4C1967.7,901.6 1966.2,899.1 1966.3,897.5C1966.4,895.8 1968,893.7 1969.6,892.5C1971.2,891.4 1973.8,890.3 1975.8,890.5C1977.8,890.7 1980.1,892.3 1981.6,893.8C1983,895.3 1983.5,897.4 1984.4,899.6C1985.4,901.8 1985.9,904.8 1987.3,907C1988.8,909.2 1991,911.9 1993.1,912.8C1995.2,913.6 1997.5,912.8 1999.7,911.9C2001.9,911.1 2004.5,909.5 2006.3,907.8C2008.1,906.2 2010.3,903.5 2010.4,902C2010.6,900.5 2009.2,898.9 2007.1,898.7C2005.1,898.6 2000.3,900 1998.1,901.2C1995.9,902.4 1994.5,903.4 1993.9,906.2C1993.4,908.9 1995.3,914.5 1994.8,917.7C1994.2,920.9 1992.3,924.2 1990.6,925.1C1989,926.1 1986.5,924.7 1984.9,923.5C1983.2,922.2 1981,919.5 1980.7,917.7C1980.5,915.9 1981.8,913.6 1983.2,912.8C1984.6,911.9 1987.6,911.9 1989,912.8C1990.4,913.6 1990.2,915.8 1991.5,917.7C1992.7,919.6 1994.6,922.9 1996.4,924.3C1998.2,925.7 2000.4,926.5 2002.2,926C2004,925.4 2005.8,922.9 2007.1,921C2008.5,919.1 2010.4,916.1 2010.4,914.4C2010.4,912.8 2008.8,911.2 2007.1,911.1C2005.5,911 2002.3,915.5 2000.5,913.6C1998.7,911.7 1997.4,903 1996.4,899.6C1995.4,896.1 1994.5,894.2 1994.8,893C1995,891.7 1997.2,891.6 1998.1,892.1C1998.9,892.7 1997.5,893.5 1999.7,896.3C2001.9,899 2008.4,907 2011.3,908.6C2014.1,910.3 2014.8,907.5 2017,906.2C2019.2,904.8 2022.4,901.1 2024.5,900.8C2026.5,900.5 2028.7,902.2 2029.4,904.5C2030.1,906.8 2030.1,909.7 2028.6,914.4C2027.1,919.1 2022.4,928.2 2020.3,932.6C2018.3,937 2015.5,939.1 2016.2,940.8C2016.9,942.5 2021,942.6 2024.5,942.9C2027.9,943.1 2033.8,943.6 2036.8,942.5C2039.9,941.3 2042.1,938.3 2042.6,935.9C2043.2,933.4 2041.5,929.5 2040.1,927.6C2038.8,925.7 2037,924 2034.4,924.3C2031.7,924.6 2026.4,927.6 2024.5,929.3C2022.5,930.9 2022.3,933.5 2022.8,934.2C2023.4,934.9 2026,935.2 2027.8,933.4C2029.5,931.6 2032.4,926.4 2033.5,923.5C2034.7,920.6 2035,917.8 2034.8,916.1C2034.5,914.3 2032.6,912.9 2031.9,913.2C2031.1,913.4 2030.2,915.7 2030.2,917.7C2030.2,919.7 2033.7,922.1 2031.9,925.1C2030.1,928.2 2022.1,935.2 2019.5,935.9C2016.9,936.5 2016.5,933.1 2016.2,929.3C2015.9,925.4 2018,916.3 2017.9,912.8C2017.7,909.2 2015.8,908.6 2015.4,907.8" fill="none" stroke="#12304a" stroke-width="1.1"/><circle cx="1853" cy="826.7" r="6.8" fill="none" stroke="#1d2b3a" stroke-width="1.1"/><circle cx="1845.7" cy="768.5" r="5.8" fill="none" stroke="#6B8E58" stroke-width="2.3"/><circle cx="1901.4" cy="776" r="5.8" fill="none" stroke="#6B8E58" stroke-width="2.3"/><circle cx="1933.6" cy="787.1" r="5.8" fill="none" stroke="#6B8E58" stroke-width="2.3"/><circle cx="1802.4" cy="795.8" r="5.8" fill="none" stroke="#6B8E58" stroke-width="2.3"/><circle cx="1788" cy="813.8" r="5.8" fill="none" stroke="#6B8E58" stroke-width="2.3"/><circle cx="1799.9" cy="866.3" r="5.8" fill="none" stroke="#6B8E58" stroke-width="2.3"/><circle cx="1983.6" cy="823.7" r="5.8" fill="none" stroke="#6B8E58" stroke-width="2.3"/><circle cx="2015.3" cy="826.7" r="5.8" fill="none" stroke="#6B8E58" stroke-width="2.3"/><circle cx="2039.6" cy="846" r="5.8" fill="none" stroke="#6B8E58" stroke-width="2.3"/><circle cx="2064.4" cy="876.7" r="5.8" fill="none" stroke="#6B8E58" stroke-width="2.3"/><circle cx="2102" cy="918.3" r="5.8" fill="none" stroke="#6B8E58" stroke-width="2.3"/><circle cx="2121.8" cy="949.3" r="5.8" fill="none" stroke="#6B8E58" stroke-width="2.3"/><circle cx="1830.9" cy="900.5" r="5.8" fill="none" stroke="#6B8E58" stroke-width="2.3"/><circle cx="1844" cy="915.8" r="5.8" fill="none" stroke="#6B8E58" stroke-width="2.3"/><circle cx="1860.6" cy="922.8" r="5.8" fill="none" stroke="#6B8E58" stroke-width="2.3"/><circle cx="1887.8" cy="950.5" r="5.8" fill="none" stroke="#6B8E58" stroke-width="2.3"/><circle cx="1907.6" cy="967.3" r="5.8" fill="none" stroke="#6B8E58" stroke-width="2.3"/><circle cx="1953.4" cy="986.4" r="5.8" fill="none" stroke="#6B8E58" stroke-width="2.3"/><circle cx="1969.5" cy="1005" r="5.8" fill="none" stroke="#6B8E58" stroke-width="2.3"/><circle cx="2005.4" cy="1002.5" r="5.8" fill="none" stroke="#6B8E58" stroke-width="2.3"/><circle cx="2105" cy="999.5" r="5.8" fill="none" stroke="#6B8E58" stroke-width="2.3"/><circle cx="2072.8" cy="1018.6" r="5.8" fill="none" stroke="#6B8E58" stroke-width="2.3"/><ellipse cx="1855.6" cy="891" rx="35" ry="37.5" fill="none" stroke="#2a2a2a" stroke-width="1.3"/><path d="M1587,702.3L1875.4,859.4M1607,1100L1874.2,923.3" stroke="#2a2a2a" stroke-width="1.3"/><path d="M1728,718.5L1744,699.5L1816,762.7L1783.9,795.7Z" fill="url(#bgn545)" /><path d="M1670.4,631.5L1655.7,645.4L1665.2,654L1666.5,653.2L1699.9,684.8L1707.7,713.4L1717.2,721.6L1721.1,718.2L1729.3,717.7L1738.9,709.9L1743.2,699.5L1742.3,694.3L1748,687L1738,678.7L1712.9,674L1679.5,640.2L1679.5,638.4L1673,631.5Z" fill="#000" /><path d="M2129.3,879.7L2199.8,879.7L2199.8,875.4L2213.6,884.7L2199.8,894L2199.8,889.7L2129.3,889.7Z" fill="#fff" stroke="#474747" stroke-width="1.3" stroke-linejoin="miter"/><path d="M2230.6,238.5L2231.6,237L2232.6,235.5L2233.8,234.1L2235,232.7L2236.2,231.3L2237.5,230L2238.9,228.7L2240.3,227.5L2241.7,226.4L2243.2,225.2L2244.8,224.2L2246.4,223.2L2248.1,222.2L2249.8,221.4L2251.6,220.5L2253.4,219.7L2255.3,219L2257.2,218.4L2259.1,217.8L2261.1,217.3L2263.2,216.8L2265.2,216.4L2267.3,216.1L2269.5,215.8L2271.7,215.6L2273.9,215.4L2276.1,215.3L2278.4,215.3L2280.7,215.4L2283.1,215.5L2285.5,215.7L2287.9,215.9L2290.3,216.3L2292.8,216.6L2295.2,217.1L2297.7,217.6L2300.3,218.2L2302.8,218.8L2305.4,219.5L2308,220.2L2310.6,221.1L2313.3,221.9L2315.9,222.9L2318.6,223.9L2321.3,224.9L2324,226L2326.8,227.2L2329.5,228.4L2332.3,229.6L2335.1,230.9L2337.9,232.3L2340.7,233.7L2343.5,235.1L2346.3,236.6L2349.2,238.1L2352,239.7L2354.9,241.3L2357.8,242.9L2360.7,244.5L2363.6,246.2L2366.5,247.9L2369.4,249.7L2372.4,251.4L2375.3,253.2L2378.3,255L2381.2,256.8L2384.2,258.6L2387.2,260.5L2390.2,262.3L2393.1,264.2L2396.1,266.1L2399.1,267.9L2402.1,269.8L2405.1,271.7L2408.1,273.6L2411.1,275.4L2414.1,277.3L2417.1,279.2L2420.1,281.1L2423.1,282.9L2426.1,284.8L2429.1,286.7L2432,288.5L2435,290.4L2437.9,292.3L2440.8,294.1L2443.7,296L2446.6,297.9L2449.4,299.7L2452.2,301.6L2455,303.5L2457.8,305.4L2460.5,307.3L2463.2,309.1L2465.8,311L2468.4,312.9L2471,314.8L2473.5,316.7L2476,318.6L2478.5,320.6L2480.9,322.5L2483.2,324.4L2485.5,326.4L2487.7,328.3L2489.9,330.3L2492,332.2L2494.1,334.2L2496.1,336.2L2498,338.2L2499.9,340.2L2501.7,342.2L2503.5,344.2L2505.2,346.2L2506.8,348.3L2508.4,350.3L2509.8,352.3L2511.3,354.4L2512.6,356.4L2513.9,358.5L2515.1,360.6L2516.2,362.6L2517.3,364.7L2518.3,366.7L2519.2,368.8L2520,370.8L2520.8,372.9L2521.5,375L2522.1,377L2522.6,379L2523.1,381.1L2523.5,383.1L2523.8,385.1L2524.1,387.1L2524.2,389.1L2524.3,391.1L2524.4,393L2524.3,395L2524.2,396.9L2524,398.8L2523.7,400.7L2523.4,402.5L2523,404.3L2522.5,406.1L2522,407.9L2521.4,409.7L2520.7,411.4L2519.9,413.1L2519.1,414.7L2518.3,416.3L2517.3,417.9L2516.3,419.4L2515.3,420.9L2514.1,422.4L2512.9,423.8L2511.7,425.1L2510.4,426.4L2509,427.7L2507.6,428.9L2506.2,430.1L2504.6,431.2L2503.1,432.2L2501.4,433.2L2499.8,434.2L2498,435.1L2496.3,435.9L2494.5,436.7L2492.6,437.4L2490.7,438.1L2488.7,438.7L2486.7,439.2L2484.7,439.7L2482.6,440.1L2480.5,440.4L2478.4,440.7L2476.2,440.9L2474,441L2471.7,441.1L2469.4,441.1L2467.1,441.1L2464.8,441L2462.4,440.8L2460,440.5L2457.6,440.2L2455.1,439.8L2452.6,439.4L2450.1,438.9L2447.6,438.3L2445,437.7L2442.4,437L2439.8,436.2L2437.2,435.4L2434.6,434.5L2431.9,433.6L2429.2,432.6L2426.5,431.6L2423.8,430.5L2421.1,429.3L2418.3,428.1L2415.6,426.8L2412.8,425.5L2410,424.2L2407.2,422.8L2404.4,421.3L2401.5,419.9L2398.7,418.3L2395.8,416.8L2393,415.2L2390.1,413.6L2387.2,411.9L2384.3,410.2L2381.4,408.5L2378.4,406.8L2375.5,405L2372.6,403.2L2369.6,401.4L2366.7,399.6L2363.7,397.8L2360.7,395.9L2357.7,394.1L2354.8,392.2L2351.8,390.4L2348.8,388.5L2345.8,386.6L2342.8,384.7L2339.8,382.9L2336.8,381L2333.8,379.1L2330.8,377.2L2327.8,375.3L2324.8,373.5L2321.8,371.6L2318.8,369.7L2315.9,367.8L2312.9,366L2310,364.1L2307.1,362.2L2304.2,360.4L2301.4,358.5L2298.5,356.6L2295.7,354.8L2292.9,352.9L2290.2,351L2287.4,349.1L2284.8,347.2L2282.1,345.3L2279.5,343.4L2276.9,341.5L2274.4,339.6L2271.9,337.7L2269.5,335.8L2267.1,333.9L2264.7,331.9L2262.5,330L2260.2,328L2258,326.1L2255.9,324.1L2253.9,322.1L2251.9,320.1L2249.9,318.1L2248,316.1L2246.2,314.1L2244.5,312.1L2242.8,310.1L2241.1,308.1L2239.6,306L2238.1,304L2236.7,301.9L2235.3,299.9L2234.1,297.8L2232.9,295.8L2231.7,293.7L2230.7,291.7L2229.7,289.6L2228.8,287.6L2227.9,285.5L2227.2,283.4L2226.5,281.4L2225.8,279.3L2225.3,277.3L2224.8,275.3L2224.4,273.3L2224.1,271.2L2223.9,269.2L2223.7,267.3L2223.6,265.3L2223.6,263.3L2223.6,261.4L2223.7,259.5L2223.9,257.6L2224.2,255.7L2224.5,253.9L2224.9,252L2225.4,250.2L2225.9,248.5L2226.6,246.7L2227.2,245L2228,243.3L2228.8,241.7L2229.7,240.1Z" fill="#FEA318" stroke="#6a4210" stroke-width="1.1"/><path d="M2245.8,239.7L2246.5,238.5L2247.4,237.3L2248.3,236.2L2249.2,235.1L2250.3,234.1L2251.3,233.1L2252.4,232.1L2253.6,231.2L2254.8,230.4L2256.1,229.5L2257.4,228.8L2258.7,228.1L2260.1,227.4L2261.5,226.8L2263,226.3L2264.5,225.8L2266.1,225.3L2267.7,224.9L2269.3,224.6L2271,224.3L2272.7,224.1L2274.5,224L2276.3,223.9L2278.1,223.9L2279.9,223.9L2281.8,224L2283.7,224.1L2285.7,224.4L2287.6,224.6L2289.6,225L2291.6,225.3L2293.7,225.8L2295.8,226.3L2297.9,226.9L2300,227.5L2302.1,228.2L2304.3,228.9L2306.5,229.7L2308.7,230.5L2311,231.4L2313.2,232.4L2315.5,233.4L2317.8,234.4L2320.1,235.5L2322.5,236.7L2324.8,237.8L2327.2,239.1L2329.6,240.3L2332,241.6L2334.5,243L2336.9,244.4L2339.4,245.8L2341.9,247.2L2344.4,248.7L2346.9,250.2L2349.4,251.7L2352,253.3L2354.5,254.9L2357.1,256.5L2359.7,258.1L2362.3,259.7L2364.9,261.4L2367.6,263L2370.2,264.7L2372.9,266.4L2375.5,268.1L2378.2,269.8L2380.9,271.5L2383.6,273.3L2386.3,275L2389,276.7L2391.7,278.5L2394.4,280.2L2397.1,282L2399.8,283.7L2402.5,285.5L2405.2,287.2L2407.9,288.9L2410.6,290.7L2413.3,292.4L2416,294.2L2418.7,295.9L2421.4,297.6L2424.1,299.3L2426.7,301.1L2429.4,302.8L2432,304.5L2434.6,306.2L2437.2,307.9L2439.8,309.6L2442.3,311.3L2444.8,312.9L2447.3,314.6L2449.8,316.3L2452.3,318L2454.7,319.6L2457.1,321.3L2459.4,323L2461.7,324.6L2464,326.3L2466.3,327.9L2468.5,329.6L2470.6,331.2L2472.7,332.9L2474.8,334.5L2476.8,336.2L2478.8,337.8L2480.7,339.5L2482.6,341.1L2484.4,342.8L2486.2,344.4L2487.9,346L2489.6,347.7L2491.2,349.3L2492.7,351L2494.2,352.6L2495.7,354.3L2497,355.9L2498.3,357.5L2499.6,359.2L2500.8,360.8L2501.9,362.4L2503,364L2503.9,365.7L2504.9,367.3L2505.7,368.9L2506.5,370.5L2507.3,372.1L2507.9,373.6L2508.5,375.2L2509.1,376.8L2509.6,378.3L2510,379.9L2510.3,381.4L2510.6,382.9L2510.8,384.4L2510.9,385.8L2511,387.3L2511,388.7L2511,390.1L2510.8,391.5L2510.7,392.9L2510.4,394.2L2510.1,395.5L2509.8,396.8L2509.3,398.1L2508.9,399.3L2508.3,400.5L2507.7,401.6L2507,402.8L2506.3,403.9L2505.5,404.9L2504.7,405.9L2503.8,406.9L2502.9,407.8L2501.9,408.7L2500.9,409.6L2499.8,410.4L2498.6,411.1L2497.4,411.8L2496.2,412.5L2494.9,413.1L2493.5,413.7L2492.2,414.2L2490.7,414.7L2489.3,415.1L2487.7,415.4L2486.2,415.8L2484.6,416L2482.9,416.2L2481.3,416.4L2479.6,416.5L2477.8,416.5L2476,416.5L2474.2,416.4L2472.3,416.3L2470.5,416.1L2468.5,415.9L2466.6,415.6L2464.6,415.2L2462.6,414.8L2460.5,414.4L2458.5,413.9L2456.4,413.3L2454.2,412.7L2452.1,412L2449.9,411.3L2447.7,410.5L2445.5,409.7L2443.2,408.8L2440.9,407.9L2438.6,406.9L2436.3,405.9L2433.9,404.9L2431.6,403.8L2429.2,402.6L2426.8,401.5L2424.3,400.2L2421.9,399L2419.4,397.7L2416.9,396.4L2414.4,395L2411.9,393.7L2409.4,392.2L2406.8,390.8L2404.2,389.3L2401.6,387.9L2399,386.3L2396.4,384.8L2393.8,383.3L2391.1,381.7L2388.5,380.1L2385.8,378.5L2383.1,376.9L2380.4,375.3L2377.7,373.7L2375,372L2372.2,370.4L2369.5,368.7L2366.8,367.1L2364,365.4L2361.3,363.7L2358.5,362.1L2355.7,360.4L2353,358.7L2350.2,357.1L2347.5,355.4L2344.7,353.7L2342,352.1L2339.2,350.4L2336.5,348.7L2333.7,347.1L2331,345.4L2328.3,343.8L2325.6,342.1L2322.9,340.5L2320.2,338.9L2317.6,337.2L2315,335.6L2312.3,334L2309.7,332.4L2307.2,330.7L2304.6,329.1L2302.1,327.5L2299.6,325.9L2297.2,324.3L2294.7,322.7L2292.4,321.1L2290,319.5L2287.7,317.9L2285.4,316.3L2283.2,314.7L2281,313.1L2278.8,311.5L2276.7,309.9L2274.7,308.3L2272.7,306.7L2270.7,305.1L2268.8,303.5L2267,301.9L2265.2,300.3L2263.5,298.6L2261.8,297L2260.2,295.4L2258.6,293.8L2257.1,292.1L2255.7,290.5L2254.3,288.8L2253,287.2L2251.8,285.6L2250.6,283.9L2249.5,282.3L2248.5,280.6L2247.5,279L2246.6,277.3L2245.8,275.7L2245,274L2244.3,272.4L2243.6,270.7L2243.1,269.1L2242.6,267.5L2242.2,265.9L2241.8,264.3L2241.5,262.7L2241.3,261.1L2241.1,259.5L2241,258L2241,256.4L2241.1,254.9L2241.2,253.4L2241.3,251.9L2241.6,250.4L2241.9,249L2242.3,247.6L2242.7,246.2L2243.2,244.8L2243.7,243.5L2244.4,242.2L2245,240.9Z" fill="#15B92C" stroke="#1f4512" stroke-width="1.1"/><path d="M2253.5,243.3L2254.1,242.3L2254.8,241.3L2255.6,240.4L2256.4,239.5L2257.3,238.7L2258.2,237.8L2259.2,237.1L2260.2,236.3L2261.3,235.6L2262.4,235L2263.5,234.4L2264.7,233.8L2266,233.3L2267.3,232.9L2268.6,232.5L2270,232.1L2271.4,231.8L2272.8,231.6L2274.3,231.4L2275.8,231.2L2277.4,231.1L2279,231.1L2280.6,231.1L2282.3,231.2L2284,231.3L2285.7,231.5L2287.5,231.7L2289.3,232L2291.1,232.4L2292.9,232.8L2294.8,233.2L2296.7,233.7L2298.6,234.3L2300.6,234.9L2302.6,235.5L2304.6,236.2L2306.6,237L2308.7,237.8L2310.7,238.7L2312.8,239.6L2315,240.5L2317.1,241.5L2319.3,242.5L2321.5,243.6L2323.7,244.7L2325.9,245.9L2328.2,247.1L2330.4,248.3L2332.7,249.6L2335,250.9L2337.3,252.2L2339.7,253.6L2342,254.9L2344.4,256.4L2346.8,257.8L2349.2,259.3L2351.7,260.7L2354.1,262.3L2356.6,263.8L2359,265.3L2361.5,266.9L2364,268.4L2366.5,270L2369,271.6L2371.6,273.2L2374.1,274.8L2376.7,276.5L2379.2,278.1L2381.8,279.7L2384.4,281.4L2386.9,283L2389.5,284.7L2392.1,286.3L2394.7,288L2397.3,289.6L2399.9,291.3L2402.5,292.9L2405,294.6L2407.6,296.2L2410.2,297.9L2412.8,299.5L2415.3,301.2L2417.9,302.8L2420.4,304.4L2423,306.1L2425.5,307.7L2428,309.3L2430.5,310.9L2433,312.5L2435.4,314.1L2437.9,315.7L2440.3,317.3L2442.7,318.9L2445.1,320.4L2447.4,322L2449.7,323.6L2452,325.1L2454.3,326.7L2456.5,328.2L2458.7,329.8L2460.8,331.3L2463,332.9L2465,334.4L2467.1,335.9L2469.1,337.5L2471,339L2473,340.5L2474.8,342L2476.6,343.5L2478.4,345L2480.2,346.5L2481.8,348L2483.5,349.5L2485,351L2486.6,352.5L2488,354L2489.4,355.5L2490.8,356.9L2492.1,358.4L2493.4,359.9L2494.5,361.3L2495.7,362.8L2496.8,364.2L2497.8,365.7L2498.7,367.1L2499.6,368.5L2500.4,369.9L2501.2,371.3L2501.9,372.7L2502.6,374.1L2503.2,375.5L2503.7,376.8L2504.2,378.2L2504.6,379.5L2504.9,380.8L2505.2,382.1L2505.4,383.3L2505.6,384.6L2505.7,385.8L2505.7,387L2505.7,388.2L2505.6,389.4L2505.5,390.5L2505.3,391.6L2505.1,392.7L2504.7,393.7L2504.4,394.8L2504,395.8L2503.5,396.7L2502.9,397.7L2502.3,398.5L2501.7,399.4L2501,400.2L2500.2,401L2499.4,401.8L2498.6,402.5L2497.7,403.1L2496.7,403.8L2495.7,404.4L2494.7,404.9L2493.6,405.4L2492.4,405.9L2491.2,406.3L2490,406.6L2488.7,407L2487.4,407.2L2486,407.5L2484.6,407.6L2483.2,407.8L2481.7,407.9L2480.2,407.9L2478.6,407.9L2477,407.8L2475.4,407.7L2473.7,407.5L2472,407.3L2470.3,407L2468.5,406.7L2466.7,406.4L2464.9,406L2463,405.5L2461.1,405L2459.2,404.4L2457.2,403.8L2455.2,403.2L2453.2,402.5L2451.2,401.7L2449.1,400.9L2447,400.1L2444.9,399.2L2442.8,398.3L2440.6,397.3L2438.4,396.4L2436.2,395.3L2433.9,394.2L2431.7,393.1L2429.4,392L2427.1,390.8L2424.8,389.6L2422.4,388.4L2420.1,387.1L2417.7,385.8L2415.3,384.5L2412.9,383.1L2410.5,381.7L2408,380.3L2405.5,378.9L2403.1,377.5L2400.6,376L2398,374.6L2395.5,373.1L2393,371.6L2390.4,370.1L2387.9,368.5L2385.3,367L2382.7,365.5L2380.1,363.9L2377.5,362.4L2374.9,360.8L2372.3,359.2L2369.6,357.7L2367,356.1L2364.4,354.5L2361.7,352.9L2359.1,351.3L2356.5,349.8L2353.8,348.2L2351.2,346.6L2348.6,345L2346,343.5L2343.3,341.9L2340.7,340.3L2338.1,338.8L2335.5,337.2L2332.9,335.7L2330.4,334.1L2327.8,332.6L2325.3,331L2322.8,329.5L2320.3,328L2317.8,326.4L2315.3,324.9L2312.9,323.4L2310.5,321.9L2308.1,320.4L2305.7,318.9L2303.4,317.4L2301.1,315.9L2298.9,314.4L2296.6,312.9L2294.4,311.5L2292.3,310L2290.2,308.5L2288.1,307L2286.1,305.5L2284.1,304.1L2282.1,302.6L2280.2,301.1L2278.4,299.6L2276.6,298.1L2274.9,296.7L2273.2,295.2L2271.5,293.7L2269.9,292.2L2268.4,290.8L2266.9,289.3L2265.5,287.8L2264.2,286.3L2262.9,284.8L2261.6,283.4L2260.4,281.9L2259.3,280.4L2258.3,278.9L2257.3,277.5L2256.3,276L2255.5,274.5L2254.7,273.1L2253.9,271.6L2253.2,270.2L2252.6,268.8L2252.1,267.3L2251.6,265.9L2251.2,264.5L2250.8,263.1L2250.5,261.7L2250.3,260.3L2250.1,259L2250,257.6L2250,256.3L2250,255L2250.1,253.7L2250.2,252.5L2250.4,251.2L2250.7,250L2251,248.8L2251.4,247.7L2251.8,246.5L2252.3,245.4L2252.8,244.4Z" fill="#008EBD" stroke="#0c2f4a" stroke-width="1.1"/><path d="M2383.9,302.9C2384.6,303.5 2387.6,305.3 2388,306.6C2388.4,307.9 2387.4,309.5 2386.4,310.8C2385.3,312 2382.6,312.5 2381.8,314.1C2381.1,315.6 2381.1,318.4 2381.8,320.3C2382.6,322.1 2385.1,325.1 2386.4,325.2C2387.6,325.3 2389,322.9 2389.2,321.1C2389.4,319.3 2388.9,316.1 2387.6,314.5C2386.3,312.9 2383.5,311.9 2381.4,311.6C2379.3,311.3 2376.7,311.5 2374.8,312.8C2372.9,314.1 2370.8,317 2370.3,319.4C2369.7,321.9 2370.2,326 2371.5,327.7C2372.8,329.3 2375.6,329.6 2378.1,329.3C2380.6,329.1 2383.3,327.7 2386.4,326C2389.4,324.4 2393,320.8 2396.3,319.4C2399.6,318.1 2403.6,317.4 2406.2,317.8C2408.7,318.1 2410.8,319.7 2411.5,321.5C2412.2,323.3 2411.2,326.4 2410.3,328.5C2409.4,330.6 2407.9,332.4 2406.2,334.3C2404.4,336.1 2401.6,338.7 2399.6,339.6C2397.5,340.5 2395.2,340.5 2393.8,339.6C2392.3,338.8 2390.8,336.3 2390.9,334.7C2391,333 2392.6,330.9 2394.2,329.7C2395.8,328.6 2398.4,327.5 2400.4,327.7C2402.4,327.9 2404.7,329.5 2406.2,331C2407.6,332.5 2408.1,334.6 2409,336.8C2410,339 2410.5,342 2411.9,344.2C2413.4,346.4 2415.6,349.1 2417.7,350C2419.8,350.8 2422.1,350 2424.3,349.1C2426.5,348.3 2429.1,346.7 2430.9,345C2432.7,343.4 2434.9,340.7 2435,339.2C2435.2,337.7 2433.8,336.1 2431.7,335.9C2429.7,335.8 2424.9,337.2 2422.7,338.4C2420.5,339.6 2419.1,340.6 2418.5,343.4C2418,346.1 2419.9,351.7 2419.4,354.9C2418.8,358.1 2416.9,361.4 2415.2,362.3C2413.6,363.3 2411.1,361.9 2409.5,360.7C2407.8,359.4 2405.6,356.7 2405.3,354.9C2405.1,353.1 2406.4,350.8 2407.8,350C2409.2,349.1 2412.2,349.1 2413.6,350C2415,350.8 2414.8,353 2416.1,354.9C2417.3,356.8 2419.2,360.1 2421,361.5C2422.8,362.9 2425,363.7 2426.8,363.2C2428.6,362.6 2430.4,360.1 2431.7,358.2C2433.1,356.3 2435,353.3 2435,351.6C2435,350 2433.4,348.4 2431.7,348.3C2430.1,348.2 2426.9,352.7 2425.1,350.8C2423.3,348.9 2422,340.2 2421,336.8C2420,333.3 2419.1,331.4 2419.4,330.2C2419.6,328.9 2421.8,328.8 2422.7,329.3C2423.5,329.9 2422.1,330.7 2424.3,333.5C2426.5,336.2 2433,344.2 2435.9,345.8C2438.7,347.5 2439.4,344.7 2441.6,343.4C2443.8,342 2447,338.3 2449.1,338C2451.1,337.7 2453.3,339.4 2454,341.7C2454.7,344 2454.7,346.9 2453.2,351.6C2451.7,356.3 2447,365.4 2444.9,369.8C2442.9,374.2 2440.1,376.3 2440.8,378C2441.5,379.7 2445.6,379.8 2449.1,380.1C2452.5,380.3 2458.4,380.8 2461.4,379.7C2464.5,378.5 2466.7,375.5 2467.2,373.1C2467.8,370.6 2466.1,366.7 2464.7,364.8C2463.4,362.9 2461.6,361.2 2459,361.5C2456.3,361.8 2451,364.8 2449.1,366.5C2447.1,368.1 2446.9,370.7 2447.4,371.4C2448,372.1 2450.6,372.4 2452.4,370.6C2454.1,368.8 2457,363.6 2458.1,360.7C2459.3,357.8 2459.6,355 2459.4,353.3C2459.1,351.5 2457.2,350.1 2456.5,350.4C2455.7,350.6 2454.8,352.9 2454.8,354.9C2454.8,356.9 2458.3,359.3 2456.5,362.3C2454.7,365.4 2446.7,372.4 2444.1,373.1C2441.5,373.7 2441.1,370.3 2440.8,366.5C2440.5,362.6 2442.6,353.5 2442.5,350C2442.3,346.4 2440.4,345.8 2440,345" fill="none" stroke="#12304a" stroke-width="1.1"/><path d="M2238.1,798.1C2238.9,795.3 2246,797 2250,796C2254,795 2257.8,794.3 2262,792C2266.2,789.7 2271.2,786 2275,782C2278.8,778 2281.5,771.1 2285,768C2288.5,764.9 2290.4,764.3 2296.2,763.6C2302,762.9 2311.9,762.4 2319.8,763.6C2327.7,764.8 2337.1,767.9 2343.4,770.9C2349.8,773.9 2352.8,778.1 2357.9,781.7C2363.1,785.3 2367.3,788.7 2374.3,792.6C2381.3,796.5 2391,800.2 2400,805.3C2409,810.4 2420.8,817.4 2428.5,823.3C2436.2,829.2 2439.5,834.6 2445.9,840.7C2452.3,846.8 2458.9,852.5 2466.7,859.7C2474.5,866.9 2484.6,876.5 2492.7,884C2500.8,891.5 2509.7,899 2515.2,904.8C2520.7,910.6 2523.6,914.3 2525.6,918.6C2527.6,922.9 2528.5,926.5 2527.3,930.8C2526.1,935.1 2521.8,940.9 2518.6,944.6C2515.4,948.4 2511.1,949.5 2508.2,953.3C2505.3,957.1 2504.2,962.9 2501.3,967.2C2498.4,971.5 2494.7,977 2490.9,979.3C2487.2,981.6 2484.3,981.9 2478.8,981C2473.3,980.1 2464.9,977 2458,974.1C2451.1,971.2 2443.8,967.5 2437.2,963.7C2430.5,960 2424.8,954.8 2418.1,951.6C2411.4,948.4 2404.3,947.2 2397.3,944.6C2390.3,942 2382.1,939.9 2376.1,936C2370.1,932.1 2367,926.3 2361.6,921.5C2356.2,916.7 2350.1,910.9 2343.4,907C2336.7,903.1 2327.7,900.9 2321.6,897.9C2315.5,894.9 2311.9,893 2307.1,888.8C2302.3,884.6 2298,877.6 2292.6,872.5C2287.2,867.4 2279.2,863.1 2274.4,858C2269.6,852.9 2266.6,847.1 2263.6,841.6C2260.6,836.1 2259.3,830.1 2256.3,825.3C2253.3,820.5 2248.4,817.1 2245.4,812.6C2242.4,808.1 2237.3,800.9 2238.1,798.1Z" fill="#FEA318" stroke="#6a4210" stroke-width="1.1"/><path d="M2263.6,750.9C2266.2,751.6 2277.2,757 2283.5,760C2289.8,763 2294.1,765.7 2301.7,769C2309.3,772.3 2319.8,776 2328.9,779.9C2338,783.8 2347,787.5 2356.1,792.6C2365.2,797.8 2375,805.4 2383.3,810.8C2391.6,816.2 2397.9,819 2406,825.1C2414.1,831.2 2424.2,841.5 2432,847.6C2439.8,853.7 2445.6,856 2452.8,861.5C2460,867 2467.2,874.1 2475.3,880.5C2483.4,886.9 2495,893.8 2501.3,899.6C2507.7,905.4 2510.8,910.3 2513.4,915.2C2516,920.1 2517.2,924.7 2516.9,929C2516.6,933.3 2515.7,937.7 2511.7,941.2C2507.7,944.7 2499.3,947.2 2492.7,949.8C2486.1,952.4 2479.1,956.8 2471.9,956.8C2464.7,956.8 2457.4,953.3 2449.3,949.8C2441.2,946.3 2431.5,941 2423.3,936C2415.1,931 2408.2,925.2 2400,919.7C2391.8,914.2 2382.5,908.4 2374.3,903.3C2366.1,898.1 2358.3,892.7 2350.7,888.8C2343.1,884.9 2335.6,883.3 2328.9,879.7C2322.2,876.1 2316.1,871.5 2310.7,867C2305.2,862.5 2300.7,856.4 2296.2,852.5C2291.7,848.6 2287.7,847.6 2283.5,843.4C2279.3,839.2 2274.1,832.2 2270.8,827.1C2267.5,822 2266,817.1 2263.6,812.6C2261.2,808.1 2259.9,802.9 2256.3,799.9C2252.7,796.9 2246.3,796.2 2241.8,794.4C2237.3,792.6 2231.5,790.5 2229.1,789C2226.7,787.5 2226.4,786.5 2227.3,785.4C2228.2,784.3 2231.2,782.3 2234.5,782.6C2237.8,782.9 2243.3,786 2247.2,787.2C2251.1,788.4 2253.9,790.2 2258,790C2262.1,789.8 2268.5,788.3 2272,786C2275.5,783.7 2278.3,779.5 2279,776C2279.7,772.5 2277.8,768.3 2276,765C2274.2,761.7 2270.1,758.4 2268,756C2265.9,753.6 2261,750.2 2263.6,750.9Z" fill="#15B92C" stroke="#1f4512" stroke-width="1.1"/><path d="M2279.9,770.9C2283.4,769.9 2288,773 2296.2,776.3C2304.4,779.6 2317.4,785.3 2328.9,790.8C2340.4,796.2 2352.3,801.5 2365.2,809C2378,816.5 2394.9,827.9 2406,835.5C2417.1,843.1 2424.8,848.7 2432,854.5C2439.2,860.3 2443.5,864 2449.3,870.1C2455.1,876.2 2460.3,885.1 2466.7,890.9C2473.1,896.7 2481.2,900.5 2487.5,904.8C2493.8,909.1 2501.6,913.4 2504.8,916.9C2508,920.4 2507.7,922.4 2506.5,925.6C2505.3,928.8 2502.2,932.5 2497.9,936C2493.6,939.5 2487.2,945.5 2480.5,946.4C2473.8,947.3 2466.1,944.4 2458,941.2C2449.9,938 2440.7,932.5 2432,927.3C2423.3,922.1 2414.7,914.6 2406,910C2397.3,905.4 2386.8,903.7 2380,899.6C2373.2,895.5 2370.7,889.4 2365.2,885.2C2359.7,881 2353.1,877.9 2347,874.3C2340.9,870.7 2335,867 2328.9,863.4C2322.8,859.8 2316.1,856.7 2310.7,852.5C2305.2,848.3 2300.7,842.8 2296.2,838C2291.7,833.2 2287.7,828.3 2283.5,823.5C2279.3,818.7 2275,813.9 2270.8,809C2266.6,804.1 2259.1,797.7 2258.1,794.4C2257.1,791.1 2262.2,791.1 2265,789C2267.8,786.9 2272.5,785 2275,782C2277.5,779 2276.4,771.9 2279.9,770.9Z" fill="#008EBD" stroke="#0c2f4a" stroke-width="1.1"/><circle cx="2267.2" cy="778.1" r="11.5" fill="#fff" stroke="#444" stroke-width="0.9"/><path d="M2267.2,778.1C2269.3,778.7 2275.7,779.6 2279.9,781.7C2284.1,783.9 2289.3,787.8 2292.6,790.8C2295.9,793.8 2300.5,799.3 2299.9,799.9C2299.2,800.5 2292.3,796 2289,794.4C2285.6,792.9 2282,789.9 2279.9,790.8C2277.8,791.7 2275.4,797.5 2276.3,799.9C2277.2,802.3 2281.7,804.1 2285.3,805.3C2289,806.5 2293.2,805.3 2298,807.2C2302.9,809 2310.4,813.8 2314.4,816.2C2318.3,818.6 2323.1,821.4 2321.6,821.7C2320.1,822 2309.5,819.6 2305.3,818C2301.1,816.5 2296.5,811.7 2296.2,812.6C2295.9,813.5 2299.9,821.1 2303.5,823.5C2307.1,825.9 2313.8,826.2 2318,827.1C2322.2,828 2326.8,827.4 2328.9,828.9C2331,830.4 2331.9,834.5 2330.7,836.2C2329.5,837.9 2324.7,838.9 2321.6,838.9C2318.6,838.9 2314.4,837.5 2312.6,836.2C2310.7,834.8 2308.6,832.6 2310.7,830.7C2312.9,828.9 2322.2,827.7 2325.3,825.3C2328.3,822.9 2330.1,819.6 2328.9,816.2C2327.7,812.9 2321.9,808.4 2318,805.3C2314.1,802.3 2309.5,801.4 2305.3,798.1C2301.1,794.7 2296.2,789 2292.6,785.4C2289,781.7 2286.5,778.4 2283.5,776.3C2280.5,774.2 2276.3,771.8 2274.4,772.7C2272.6,773.6 2271.4,778.1 2272.6,781.7C2273.8,785.4 2280.2,792.3 2281.7,794.4" fill="none" stroke="#12304a" stroke-width="1.1"/><path d="M-14.5,2C-14.7,1.8 -15.3,1 -15.6,0.5C-15.9,-0 -16.1,-0.6 -16.3,-1C-16.4,-1.5 -16.5,-1.9 -16.5,-2.3C-16.5,-2.8 -16.3,-3.3 -16.1,-3.7C-16,-4.1 -15.7,-4.4 -15.4,-4.7C-15.1,-5 -14.6,-5.2 -14.2,-5.4C-13.7,-5.6 -13.3,-5.7 -12.8,-5.8C-12.2,-5.8 -11.6,-5.8 -11.1,-5.7C-10.5,-5.7 -10.1,-5.5 -9.6,-5.4C-9.2,-5.2 -8.8,-5.1 -8.4,-4.9C-8.1,-4.7 -7.7,-4.5 -7.4,-4.2C-7,-3.9 -6.5,-3.5 -6.2,-3.2C-5.9,-2.9 -5.7,-2.8 -5.5,-2.4C-5.3,-2 -5.1,-1.5 -5,-1.1C-4.9,-0.7 -4.8,-0.5 -4.8,-0.2C-4.8,0.2 -5,0.7 -5.2,1C-5.3,1.4 -5.7,1.8 -5.9,2C-6.2,2.2 -6.3,2.3 -6.5,2.5C-6.8,2.6 -7.2,2.7 -7.6,2.7C-7.9,2.7 -8.4,2.6 -8.6,2.5C-8.9,2.4 -8.9,2.3 -9.1,2C-9.2,1.8 -9.6,1.4 -9.7,1.1C-9.7,0.8 -9.6,0.5 -9.6,0.2C-9.6,-0 -9.6,-0.2 -9.5,-0.5C-9.4,-0.7 -9.3,-1.1 -9,-1.4C-8.8,-1.8 -8.5,-2.3 -8.2,-2.7C-7.8,-3.1 -7.2,-3.5 -6.7,-3.9C-6.1,-4.2 -5.6,-4.4 -4.9,-4.7C-4.2,-5 -3.2,-5.4 -2.3,-5.6C-1.3,-5.9 -0.2,-6.1 0.7,-6.1C1.7,-6.2 2.6,-6.2 3.4,-6.2C4.3,-6.1 5.1,-6.1 6,-5.9C6.9,-5.7 8,-5.5 8.8,-5.2C9.7,-4.9 10.4,-4.6 11.1,-4.2C11.8,-3.8 12.7,-3.2 13.1,-2.8C13.5,-2.4 13.5,-2.1 13.6,-1.7C13.7,-1.2 13.7,-0.8 13.6,-0.3C13.5,0.2 13.3,0.8 13,1.2C12.8,1.7 12.5,2 12.1,2.4C11.6,2.8 11.1,3.2 10.6,3.5C10.1,3.9 9.5,4.1 8.9,4.3C8.3,4.4 7.6,4.6 7,4.7C6.3,4.7 5.7,4.7 5.1,4.6C4.6,4.5 4.1,4.4 3.6,4.2C3.1,4 2.7,3.8 2.3,3.6C1.9,3.4 1.5,3.1 1.2,2.8C0.8,2.6 0.6,2.2 0.2,1.9C-0.2,1.7 -0.6,1.6 -1,1.2C-1.4,0.9 -1.7,0.4 -2,0.1C-2.3,-0.3 -2.5,-0.5 -2.6,-0.8C-2.8,-1.2 -2.8,-1.8 -2.7,-2.2C-2.7,-2.6 -2.5,-2.9 -2.3,-3.2C-2.1,-3.5 -1.8,-3.8 -1.4,-3.9C-1,-4.1 -0.6,-4.2 -0.2,-4.3C0.2,-4.3 0.6,-4.3 1.1,-4.2C1.6,-4.1 2.2,-4 2.8,-3.7C3.4,-3.5 4.1,-3.1 4.5,-2.7C5,-2.4 5.2,-2.1 5.6,-1.6C5.9,-1.2 6.3,-0.7 6.5,-0.3C6.7,0.2 6.8,0.6 6.8,1.1C6.9,1.6 6.8,2.4 6.8,2.9C6.7,3.4 6.6,3.7 6.4,4.1C6.2,4.5 6.1,4.8 5.8,5.2C5.6,5.5 5.1,5.9 4.8,6.2C4.5,6.5 4.3,6.6 3.9,6.8C3.6,6.9 3,7.1 2.6,7.1C2.2,7.1 2.1,7.1 1.8,6.9C1.4,6.8 0.9,6.6 0.7,6.3C0.5,6.1 0.4,5.8 0.3,5.5C0.2,5.1 0.1,4.6 0.1,4.1C0.2,3.6 0.3,3.1 0.5,2.6C0.8,2.1 1.4,1.4 1.6,1.1" fill="none" stroke="#666" stroke-width="0.9" stroke-linejoin="round" transform="translate(2266,777) rotate(40)"/><path d="M-5.8,0C-5.8,-6.7 5.8,-6.7 5.8,0C5.2,-0.5 -5.2,-0.5 -5.8,0Z" fill="#15B92C" stroke="#333" stroke-width="0.6" transform="translate(2248.5,675.4) rotate(55)"/><path d="M-5.8,0C-5.8,-6.2 5.8,-6.2 5.8,0C5.2,5.7 -5.2,5.7 -5.8,0Z" fill="#008EBD" stroke="#333" stroke-width="0.6" transform="translate(2214,697.9) rotate(-40)"/><path d="M-5.8,0C-5.8,-7.2 5.8,-7.2 5.8,0C5.2,2.6 -5.2,2.6 -5.8,0Z" fill="#008EBD" stroke="#333" stroke-width="0.6" transform="translate(2260.3,695.9) rotate(-40)"/><path d="M-5.8,0C-5.8,-9.8 5.8,-9.8 5.8,0C5.2,-0.7 -5.2,-0.7 -5.8,0Z" fill="#FEA318" stroke="#333" stroke-width="0.6" transform="translate(2189.6,713.9) rotate(40)"/><path d="M-5.2,0C-5.2,-4.5 5.2,-4.5 5.2,0C4.7,4.2 -4.7,4.2 -5.2,0Z" fill="#FEA318" stroke="#333" stroke-width="0.6" transform="translate(2228.9,719.8) rotate(20)"/><path d="M-5.8,0C-5.8,-7.2 5.8,-7.2 5.8,0C5.2,2.6 -5.2,2.6 -5.8,0Z" fill="#FEA318" stroke="#333" stroke-width="0.6" transform="translate(2258.3,720.3) rotate(-40)"/><path d="M-5.8,0C-5.8,-7.8 5.8,-7.8 5.8,0C5.2,-0.6 -5.2,-0.6 -5.8,0Z" fill="#008EBD" stroke="#333" stroke-width="0.6" transform="translate(2282.2,719.5) rotate(30)"/><path d="M-6.3,0C-6.3,-4.7 6.3,-4.7 6.3,0C5.7,4.4 -5.7,4.4 -6.3,0Z" fill="#15B92C" stroke="#333" stroke-width="0.6" transform="translate(2188.7,740) rotate(55)"/><path d="M-5.8,0C-5.8,-7.2 5.8,-7.2 5.8,0C5.2,2.6 -5.2,2.6 -5.8,0Z" fill="#008EBD" stroke="#333" stroke-width="0.6" transform="translate(2215.4,734.4) rotate(20)"/><path d="M-4.2,0C-4.2,-5.7 4.2,-5.7 4.2,0C3.8,-0.4 -3.8,-0.4 -4.2,0Z" fill="#008EBD" stroke="#333" stroke-width="0.6" transform="translate(2246.8,743.3) rotate(30)"/><path d="M-4.7,0C-4.7,-4.2 4.7,-4.2 4.7,0C4.3,3.9 -4.3,3.9 -4.7,0Z" fill="#15B92C" stroke="#333" stroke-width="0.6" transform="translate(2265.9,742.8) rotate(-60)"/><path d="M-3.7,0C-3.7,-13.5 3.7,-13.5 3.7,0C3.3,4.8 -3.3,4.8 -3.7,0Z" fill="#FEA318" stroke="#333" stroke-width="0.6" transform="translate(2282.2,743.3) rotate(-20)"/><path d="M-2.9,0C-2.9,-15.5 2.9,-15.5 2.9,0C2.6,-1.1 -2.6,-1.1 -2.9,0Z" fill="#008EBD" stroke="#333" stroke-width="0.6" transform="translate(2178.9,758.2) rotate(-15)"/><path d="M-3.7,0C-3.7,-4.5 3.7,-4.5 3.7,0C3.3,4.2 -3.3,4.2 -3.7,0Z" fill="#008EBD" stroke="#333" stroke-width="0.6" transform="translate(2214,762.4) rotate(20)"/><path d="M-5.8,0C-5.8,-6.8 5.8,-6.8 5.8,0C5.2,2.4 -5.2,2.4 -5.8,0Z" fill="#15B92C" stroke="#333" stroke-width="0.6" transform="translate(2232.2,758.2) rotate(40)"/><path d="M-5.8,0C-5.8,-7.8 5.8,-7.8 5.8,0C5.2,-0.6 -5.2,-0.6 -5.8,0Z" fill="#15B92C" stroke="#333" stroke-width="0.6" transform="translate(2254.7,758.2) rotate(-20)"/><path d="M-5.2,0C-5.2,-4.7 5.2,-4.7 5.2,0C4.7,4.4 -4.7,4.4 -5.2,0Z" fill="#FEA318" stroke="#333" stroke-width="0.6" transform="translate(2238.4,773.1) rotate(25)"/><path d="M-5.2,0C-5.2,-6.8 5.2,-6.8 5.2,0C4.7,2.4 -4.7,2.4 -5.2,0Z" fill="#FEA318" stroke="#333" stroke-width="0.6" transform="translate(2216.8,779.8) rotate(30)"/><path d="M-4.7,0C-4.7,-10.3 4.7,-10.3 4.7,0C4.3,-0.7 -4.3,-0.7 -4.7,0Z" fill="#008EBD" stroke="#333" stroke-width="0.6" transform="translate(2254.1,783.5) rotate(20)"/><path d="M-4.2,0C-4.2,-5.5 4.2,-5.5 4.2,0C3.8,5.1 -3.8,5.1 -4.2,0Z" fill="#008EBD" stroke="#333" stroke-width="0.6" transform="translate(2271.5,773.6) rotate(0)"/></svg></body></html>
